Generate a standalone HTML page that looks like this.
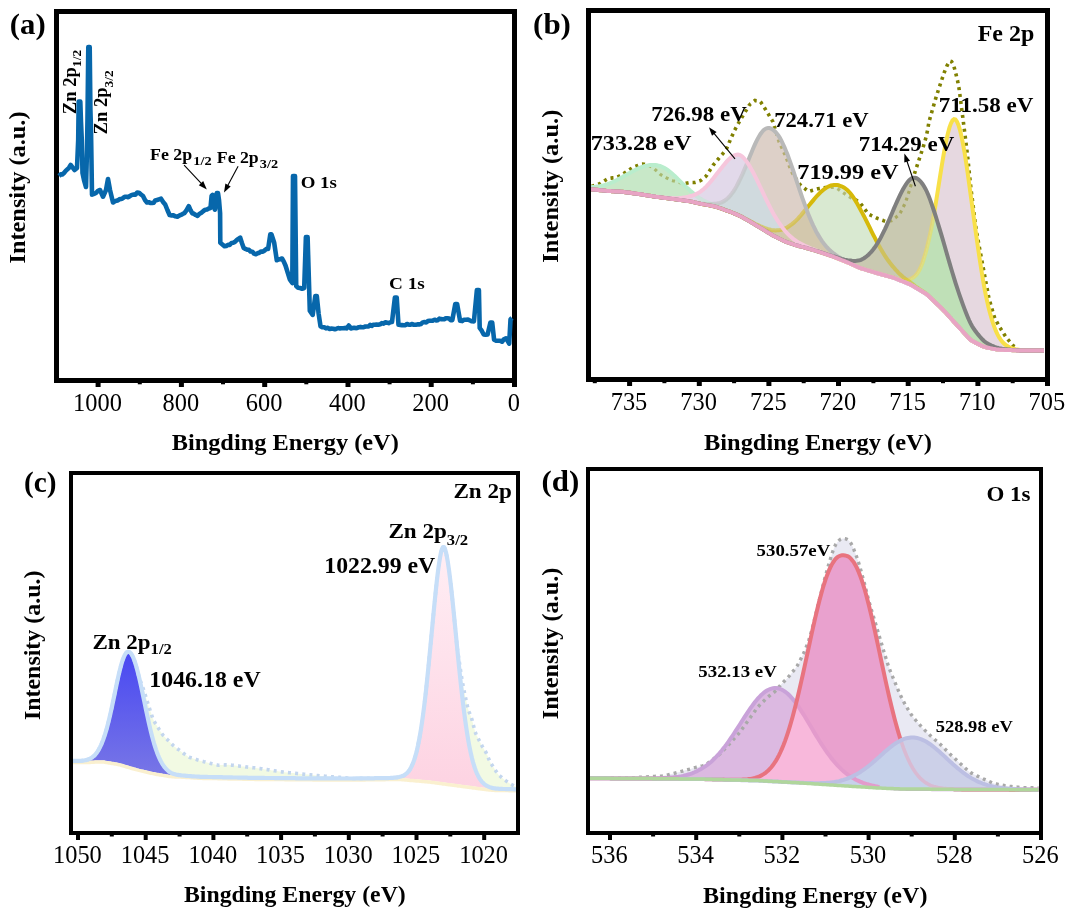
<!DOCTYPE html>
<html><head><meta charset="utf-8"><style>
html,body{margin:0;padding:0;background:#fff;}
svg{display:block;will-change:transform;}
</style></head><body>
<svg width="1074" height="918" viewBox="0 0 1074 918">
<defs><path id="pb0" d="M591 187.3 L592.5 187.1 L594 187 L595.5 186.8 L597 186.6 L598.5 186.4 L600 186.1 L601.5 185.8 L603 185.5 L604.5 185.1 L606 184.7 L607.5 184.2 L609 183.6 L610.5 183 L612 182.4 L613.5 181.7 L615 181 L616.5 180.2 L618 179.4 L619.5 178.6 L621 177.7 L622.5 176.9 L624 176 L625.5 175.2 L627 174.4 L628.5 173.6 L630 172.8 L631.5 171.9 L633 171.1 L634.5 170.4 L636 169.6 L637.5 168.9 L639 168.2 L640.5 167.6 L642 167 L643.5 166.5 L645 166 L646.5 165.7 L648 165.4 L649.5 165.1 L651 165 L652.5 164.9 L654 165 L655.5 165.1 L657 165.3 L658.5 165.6 L660 166 L661.5 166.5 L663 167.2 L664.5 168 L666 168.9 L667.5 169.9 L669 171.1 L670.5 172.3 L672 173.5 L673.5 174.9 L675 176.3 L676.5 177.7 L678 179.2 L679.5 180.6 L681 182.1 L682.5 183.6 L684 185 L685.5 186.4 L687 187.8 L688.5 189.1 L690 190.5 L691.5 191.8 L693 193.1 L694.5 194.4 L696 195.6 L697.5 196.7 L699 197.8 L700.5 198.8 L702 199.7 L703.5 200.5 L705 201.3 L706.5 202 L708 202.7 L709.5 203.3 L711 203.9 L712.5 204.4 L714 205 L715.5 205.6 L717 206.2 L718.5 206.9 L720 207.5 L721.5 208.2 L723 208.8 L724.5 209.4 L726 210 L727.5 210.6 L729 211.1 L730.5 211.8 L732 212.4 L733.5 213.1 L735 213.7 L736.5 214.4 L738 215 L739.5 215.7 L741 216.5 L742.5 217.3 L744 218.2 L745.5 219 L747 219.9 L748.5 220.7 L750 221.6 L751.5 222.5 L753 223.4 L754.5 224.3 L756 225.2 L757.5 226.1 L759 227 L760.5 227.9 L762 228.8 L763.5 229.7 L765 230.6 L766.5 231.5 L768 232.5 L769.5 233.4 L771 234.3 L772.5 235.2 L774 236 L775.5 236.8 L777 237.5 L778.5 238.3 L780 239 L781.5 239.7 L783 240.5 L784.5 241.1 L786 241.8 L787.5 242.3 L789 242.8 L790.5 243.4 L792 243.9 L793.5 244.4 L795 245 L796.5 245.4 L798 245.8 L799.5 246.2 L801 246.6 L802.5 246.9 L804 247.3 L805.5 247.8 L807 248.2 L808.5 248.6 L810 249.1 L811.5 249.5 L813 250 L814.5 250.4 L816 250.9 L817.5 251.3 L819 251.8 L820.5 252.3 L822 252.8 L823.5 253.3 L825 253.8 L826.5 254.3 L828 254.9 L829.5 255.4 L831 255.9 L832.5 256.4 L834 257 L835.5 257.6 L837 258.2 L838.5 258.8 L840 259.4 L841.5 260 L843 260.6 L844.5 261.2 L846 261.8 L847.5 262.4 L849 263 L850.5 263.7 L852 264.4 L853.5 265 L855 265.7 L856.5 266.4 L858 267.1 L859.5 267.7 L861 268.3 L862.5 268.7 L864 269.2 L865.5 269.6 L867 270.1 L868.5 270.5 L870 271 L871.5 271.4 L873 271.9 L874.5 272.3 L876 272.8 L877.5 273.2 L879 273.6 L880.5 274 L882 274.5 L883.5 274.9 L885 275.3 L886.5 275.7 L888 276.2 L889.5 276.6 L891 277 L892.5 277.4 L894 277.9 L895.5 278.5 L897 279.1 L898.5 279.7 L900 280.3 L901.5 280.9 L903 281.5 L904.5 282.1 L906 282.7 L907.5 283.3 L909 283.9 L910.5 284.6 L912 285.4 L913.5 286.3 L915 287.2 L916.5 288.1 L918 289 L919.5 289.9 L921 290.8 L922.5 291.7 L924 292.6 L925.5 293.5 L927 294.6 L928.5 295.8 L930 297.3 L931.5 298.7 L933 300.1 L934.5 301.6 L936 303 L937.5 304.5 L939 305.9 L940.5 307.3 L942 308.8 L943.5 310.3 L945 311.8 L946.5 313.5 L948 315.1 L949.5 316.8 L951 318.5 L952.5 320.1 L954 321.8 L955.5 323.4 L957 325.1 L958.5 326.7 L960 328.4 L961.5 330 L963 331.7 L964.5 333.4 L966 335 L967.5 336.7 L969 338.3 L970.5 339.7 L972 340.8 L973.5 341.6 L975 342.4 L976.5 343.1 L978 343.9 L979.5 344.6 L981 345.4 L982.5 346.1 L984 346.7 L985.5 347.2 L987 347.6 L988.5 347.8 L990 348.1 L991.5 348.4 L993 348.7 L994.5 348.9 L996 349.2 L997.5 349.4 L999 349.6 L1000.5 349.7 L1002 349.8 L1003.5 349.8 L1005 349.9 L1006.5 349.9 L1008 350 L1009.5 350.1 L1011 350.1 L1012.5 350.2 L1014 350.3 L1015.5 350.3 L1017 350.4 L1018.5 350.4 L1020 350.5 L1021.5 350.5 L1023 350.5 L1024.5 350.5 L1026 350.5 L1027.5 350.5 L1029 350.5 L1030.5 350.5 L1032 350.5 L1033.5 350.5 L1035 350.5 L1036.5 350.5 L1038 350.5 L1039.5 350.5 L1041 350.5 L1042.5 350.5 L1044 350.5 L1044 350.5 L1042.5 350.5 L1041 350.5 L1039.5 350.5 L1038 350.5 L1036.5 350.5 L1035 350.5 L1033.5 350.5 L1032 350.5 L1030.5 350.5 L1029 350.5 L1027.5 350.5 L1026 350.5 L1024.5 350.5 L1023 350.5 L1021.5 350.5 L1020 350.5 L1018.5 350.4 L1017 350.4 L1015.5 350.3 L1014 350.3 L1012.5 350.2 L1011 350.1 L1009.5 350.1 L1008 350 L1006.5 349.9 L1005 349.9 L1003.5 349.8 L1002 349.8 L1000.5 349.7 L999 349.6 L997.5 349.4 L996 349.2 L994.5 348.9 L993 348.7 L991.5 348.4 L990 348.1 L988.5 347.8 L987 347.6 L985.5 347.2 L984 346.7 L982.5 346.1 L981 345.4 L979.5 344.6 L978 343.9 L976.5 343.1 L975 342.4 L973.5 341.6 L972 340.8 L970.5 339.7 L969 338.3 L967.5 336.7 L966 335 L964.5 333.4 L963 331.7 L961.5 330 L960 328.4 L958.5 326.7 L957 325.1 L955.5 323.4 L954 321.8 L952.5 320.1 L951 318.5 L949.5 316.8 L948 315.1 L946.5 313.5 L945 311.8 L943.5 310.3 L942 308.8 L940.5 307.3 L939 305.9 L937.5 304.5 L936 303 L934.5 301.6 L933 300.1 L931.5 298.7 L930 297.3 L928.5 295.8 L927 294.6 L925.5 293.5 L924 292.6 L922.5 291.7 L921 290.8 L919.5 289.9 L918 289 L916.5 288.1 L915 287.2 L913.5 286.3 L912 285.4 L910.5 284.6 L909 283.9 L907.5 283.3 L906 282.7 L904.5 282.1 L903 281.5 L901.5 280.9 L900 280.3 L898.5 279.7 L897 279.1 L895.5 278.5 L894 277.9 L892.5 277.4 L891 277 L889.5 276.6 L888 276.2 L886.5 275.7 L885 275.3 L883.5 274.9 L882 274.5 L880.5 274 L879 273.6 L877.5 273.2 L876 272.8 L874.5 272.3 L873 271.9 L871.5 271.4 L870 271 L868.5 270.5 L867 270.1 L865.5 269.6 L864 269.2 L862.5 268.7 L861 268.3 L859.5 267.7 L858 267.1 L856.5 266.4 L855 265.7 L853.5 265 L852 264.4 L850.5 263.7 L849 263 L847.5 262.4 L846 261.8 L844.5 261.2 L843 260.6 L841.5 260 L840 259.4 L838.5 258.8 L837 258.2 L835.5 257.6 L834 257 L832.5 256.4 L831 255.9 L829.5 255.4 L828 254.9 L826.5 254.3 L825 253.8 L823.5 253.3 L822 252.8 L820.5 252.3 L819 251.8 L817.5 251.3 L816 250.9 L814.5 250.4 L813 250 L811.5 249.5 L810 249.1 L808.5 248.6 L807 248.2 L805.5 247.8 L804 247.3 L802.5 246.9 L801 246.6 L799.5 246.2 L798 245.8 L796.5 245.4 L795 245 L793.5 244.4 L792 243.9 L790.5 243.4 L789 242.8 L787.5 242.3 L786 241.8 L784.5 241.1 L783 240.5 L781.5 239.7 L780 239 L778.5 238.3 L777 237.5 L775.5 236.8 L774 236 L772.5 235.2 L771 234.3 L769.5 233.4 L768 232.5 L766.5 231.6 L765 230.6 L763.5 229.7 L762 228.8 L760.5 227.9 L759 227 L757.5 226.1 L756 225.2 L754.5 224.3 L753 223.4 L751.5 222.5 L750 221.6 L748.5 220.8 L747 219.9 L745.5 219 L744 218.2 L742.5 217.3 L741 216.5 L739.5 215.7 L738 215.1 L736.5 214.4 L735 213.8 L733.5 213.2 L732 212.5 L730.5 211.9 L729 211.3 L727.5 210.8 L726 210.3 L724.5 209.8 L723 209.2 L721.5 208.7 L720 208.2 L718.5 207.7 L717 207.1 L715.5 206.7 L714 206.3 L712.5 206 L711 205.7 L709.5 205.4 L708 205.1 L706.5 204.9 L705 204.6 L703.5 204.3 L702 204.1 L700.5 203.8 L699 203.4 L697.5 203.1 L696 202.7 L694.5 202.4 L693 202 L691.5 201.6 L690 201.4 L688.5 201.1 L687 200.9 L685.5 200.7 L684 200.5 L682.5 200.3 L681 200.1 L679.5 199.9 L678 199.7 L676.5 199.5 L675 199.3 L673.5 199.1 L672 198.9 L670.5 198.7 L669 198.5 L667.5 198.3 L666 198.1 L664.5 197.9 L663 197.7 L661.5 197.5 L660 197.3 L658.5 197.1 L657 196.9 L655.5 196.7 L654 196.4 L652.5 196.2 L651 195.9 L649.5 195.7 L648 195.5 L646.5 195.2 L645 195 L643.5 194.8 L642 194.5 L640.5 194.3 L639 194.1 L637.5 193.9 L636 193.6 L634.5 193.4 L633 193.2 L631.5 193 L630 192.8 L628.5 192.6 L627 192.4 L625.5 192.2 L624 192 L622.5 191.8 L621 191.7 L619.5 191.6 L618 191.6 L616.5 191.5 L615 191.4 L613.5 191.3 L612 191.2 L610.5 191.1 L609 191 L607.5 190.9 L606 190.8 L604.5 190.6 L603 190.5 L601.5 190.3 L600 190.2 L598.5 190 L597 189.8 L595.5 189.7 L594 189.5 L592.5 189.4 L591 189.3 Z"/>
<clipPath id="cb0"><use href="#pb0"/></clipPath>
<path id="pb1" d="M591 189.3 L592.5 189.4 L594 189.5 L595.5 189.7 L597 189.8 L598.5 190 L600 190.2 L601.5 190.3 L603 190.5 L604.5 190.6 L606 190.8 L607.5 190.9 L609 191 L610.5 191.1 L612 191.2 L613.5 191.3 L615 191.4 L616.5 191.5 L618 191.6 L619.5 191.6 L621 191.7 L622.5 191.8 L624 192 L625.5 192.2 L627 192.4 L628.5 192.6 L630 192.8 L631.5 193 L633 193.2 L634.5 193.4 L636 193.6 L637.5 193.8 L639 194.1 L640.5 194.3 L642 194.5 L643.5 194.7 L645 195 L646.5 195.2 L648 195.4 L649.5 195.7 L651 195.9 L652.5 196.1 L654 196.3 L655.5 196.6 L657 196.8 L658.5 197 L660 197.1 L661.5 197.3 L663 197.4 L664.5 197.6 L666 197.7 L667.5 197.8 L669 198 L670.5 198 L672 198.1 L673.5 198.2 L675 198.2 L676.5 198.2 L678 198.2 L679.5 198.1 L681 198 L682.5 197.8 L684 197.6 L685.5 197.4 L687 197 L688.5 196.7 L690 196.2 L691.5 195.8 L693 195.3 L694.5 194.8 L696 194.1 L697.5 193.4 L699 192.6 L700.5 191.6 L702 190.4 L703.5 189.2 L705 187.8 L706.5 186.3 L708 184.7 L709.5 183 L711 181.2 L712.5 179.4 L714 177.4 L715.5 175.5 L717 173.6 L718.5 171.7 L720 169.8 L721.5 167.9 L723 166 L724.5 164.2 L726 162.4 L727.5 160.7 L729 159.2 L730.5 157.8 L732 156.7 L733.5 155.8 L735 155.1 L736.5 154.7 L738 154.5 L739.5 154.8 L741 155.6 L742.5 156.8 L744 158.3 L745.5 160.1 L747 162.2 L748.5 164.4 L750 166.9 L751.5 169.5 L753 172.2 L754.5 175.1 L756 178.1 L757.5 181.2 L759 184.3 L760.5 187.5 L762 190.7 L763.5 193.8 L765 197 L766.5 200.1 L768 203.2 L769.5 206.2 L771 209.1 L772.5 212 L774 214.7 L775.5 217.2 L777 219.7 L778.5 222 L780 224.2 L781.5 226.4 L783 228.4 L784.5 230.3 L786 232 L787.5 233.6 L789 235.1 L790.5 236.5 L792 237.8 L793.5 239.1 L795 240.2 L796.5 241.3 L798 242.2 L799.5 243 L801 243.8 L802.5 244.5 L804 245.3 L805.5 246 L807 246.7 L808.5 247.3 L810 248 L811.5 248.6 L813 249.1 L814.5 249.7 L816 250.3 L817.5 250.8 L819 251.3 L820.5 251.9 L822 252.5 L823.5 253.1 L825 253.6 L826.5 254.2 L828 254.7 L829.5 255.3 L831 255.8 L832.5 256.4 L834 256.9 L835.5 257.5 L837 258.1 L838.5 258.7 L840 259.3 L841.5 260 L843 260.6 L844.5 261.2 L846 261.8 L847.5 262.4 L849 263 L850.5 263.7 L852 264.4 L853.5 265 L855 265.7 L856.5 266.4 L858 267.1 L859.5 267.7 L861 268.3 L862.5 268.7 L864 269.2 L865.5 269.6 L867 270.1 L868.5 270.5 L870 271 L871.5 271.4 L873 271.9 L874.5 272.3 L876 272.8 L877.5 273.2 L879 273.6 L880.5 274 L882 274.5 L883.5 274.9 L885 275.3 L886.5 275.7 L888 276.2 L889.5 276.6 L891 277 L892.5 277.4 L894 277.9 L895.5 278.5 L897 279.1 L898.5 279.7 L900 280.3 L901.5 280.9 L903 281.5 L904.5 282.1 L906 282.7 L907.5 283.3 L909 283.9 L910.5 284.6 L912 285.4 L913.5 286.3 L915 287.2 L916.5 288.1 L918 289 L919.5 289.9 L921 290.8 L922.5 291.7 L924 292.6 L925.5 293.5 L927 294.6 L928.5 295.8 L930 297.3 L931.5 298.7 L933 300.1 L934.5 301.6 L936 303 L937.5 304.5 L939 305.9 L940.5 307.3 L942 308.8 L943.5 310.3 L945 311.8 L946.5 313.5 L948 315.1 L949.5 316.8 L951 318.5 L952.5 320.1 L954 321.8 L955.5 323.4 L957 325.1 L958.5 326.7 L960 328.4 L961.5 330 L963 331.7 L964.5 333.4 L966 335 L967.5 336.7 L969 338.3 L970.5 339.7 L972 340.8 L973.5 341.6 L975 342.4 L976.5 343.1 L978 343.9 L979.5 344.6 L981 345.4 L982.5 346.1 L984 346.7 L985.5 347.2 L987 347.6 L988.5 347.8 L990 348.1 L991.5 348.4 L993 348.7 L994.5 348.9 L996 349.2 L997.5 349.4 L999 349.6 L1000.5 349.7 L1002 349.8 L1003.5 349.8 L1005 349.9 L1006.5 349.9 L1008 350 L1009.5 350.1 L1011 350.1 L1012.5 350.2 L1014 350.3 L1015.5 350.3 L1017 350.4 L1018.5 350.4 L1020 350.5 L1021.5 350.5 L1023 350.5 L1024.5 350.5 L1026 350.5 L1027.5 350.5 L1029 350.5 L1030.5 350.5 L1032 350.5 L1033.5 350.5 L1035 350.5 L1036.5 350.5 L1038 350.5 L1039.5 350.5 L1041 350.5 L1042.5 350.5 L1044 350.5 L1044 350.5 L1042.5 350.5 L1041 350.5 L1039.5 350.5 L1038 350.5 L1036.5 350.5 L1035 350.5 L1033.5 350.5 L1032 350.5 L1030.5 350.5 L1029 350.5 L1027.5 350.5 L1026 350.5 L1024.5 350.5 L1023 350.5 L1021.5 350.5 L1020 350.5 L1018.5 350.4 L1017 350.4 L1015.5 350.3 L1014 350.3 L1012.5 350.2 L1011 350.1 L1009.5 350.1 L1008 350 L1006.5 349.9 L1005 349.9 L1003.5 349.8 L1002 349.8 L1000.5 349.7 L999 349.6 L997.5 349.4 L996 349.2 L994.5 348.9 L993 348.7 L991.5 348.4 L990 348.1 L988.5 347.8 L987 347.6 L985.5 347.2 L984 346.7 L982.5 346.1 L981 345.4 L979.5 344.6 L978 343.9 L976.5 343.1 L975 342.4 L973.5 341.6 L972 340.8 L970.5 339.7 L969 338.3 L967.5 336.7 L966 335 L964.5 333.4 L963 331.7 L961.5 330 L960 328.4 L958.5 326.7 L957 325.1 L955.5 323.4 L954 321.8 L952.5 320.1 L951 318.5 L949.5 316.8 L948 315.1 L946.5 313.5 L945 311.8 L943.5 310.3 L942 308.8 L940.5 307.3 L939 305.9 L937.5 304.5 L936 303 L934.5 301.6 L933 300.1 L931.5 298.7 L930 297.3 L928.5 295.8 L927 294.6 L925.5 293.5 L924 292.6 L922.5 291.7 L921 290.8 L919.5 289.9 L918 289 L916.5 288.1 L915 287.2 L913.5 286.3 L912 285.4 L910.5 284.6 L909 283.9 L907.5 283.3 L906 282.7 L904.5 282.1 L903 281.5 L901.5 280.9 L900 280.3 L898.5 279.7 L897 279.1 L895.5 278.5 L894 277.9 L892.5 277.4 L891 277 L889.5 276.6 L888 276.2 L886.5 275.7 L885 275.3 L883.5 274.9 L882 274.5 L880.5 274 L879 273.6 L877.5 273.2 L876 272.8 L874.5 272.3 L873 271.9 L871.5 271.4 L870 271 L868.5 270.5 L867 270.1 L865.5 269.6 L864 269.2 L862.5 268.7 L861 268.3 L859.5 267.7 L858 267.1 L856.5 266.4 L855 265.7 L853.5 265 L852 264.4 L850.5 263.7 L849 263 L847.5 262.4 L846 261.8 L844.5 261.2 L843 260.6 L841.5 260 L840 259.4 L838.5 258.8 L837 258.2 L835.5 257.6 L834 257 L832.5 256.4 L831 255.9 L829.5 255.4 L828 254.9 L826.5 254.3 L825 253.8 L823.5 253.3 L822 252.8 L820.5 252.3 L819 251.8 L817.5 251.3 L816 250.9 L814.5 250.4 L813 250 L811.5 249.5 L810 249.1 L808.5 248.6 L807 248.2 L805.5 247.8 L804 247.3 L802.5 246.9 L801 246.6 L799.5 246.2 L798 245.8 L796.5 245.4 L795 245 L793.5 244.4 L792 243.9 L790.5 243.4 L789 242.8 L787.5 242.3 L786 241.8 L784.5 241.1 L783 240.5 L781.5 239.7 L780 239 L778.5 238.3 L777 237.5 L775.5 236.8 L774 236 L772.5 235.2 L771 234.3 L769.5 233.4 L768 232.5 L766.5 231.6 L765 230.6 L763.5 229.7 L762 228.8 L760.5 227.9 L759 227 L757.5 226.1 L756 225.2 L754.5 224.3 L753 223.4 L751.5 222.5 L750 221.6 L748.5 220.8 L747 219.9 L745.5 219 L744 218.2 L742.5 217.3 L741 216.5 L739.5 215.7 L738 215.1 L736.5 214.4 L735 213.8 L733.5 213.2 L732 212.5 L730.5 211.9 L729 211.3 L727.5 210.8 L726 210.3 L724.5 209.8 L723 209.2 L721.5 208.7 L720 208.2 L718.5 207.7 L717 207.1 L715.5 206.7 L714 206.3 L712.5 206 L711 205.7 L709.5 205.4 L708 205.1 L706.5 204.9 L705 204.6 L703.5 204.3 L702 204.1 L700.5 203.8 L699 203.4 L697.5 203.1 L696 202.7 L694.5 202.4 L693 202 L691.5 201.6 L690 201.4 L688.5 201.1 L687 200.9 L685.5 200.7 L684 200.5 L682.5 200.3 L681 200.1 L679.5 199.9 L678 199.7 L676.5 199.5 L675 199.3 L673.5 199.1 L672 198.9 L670.5 198.7 L669 198.5 L667.5 198.3 L666 198.1 L664.5 197.9 L663 197.7 L661.5 197.5 L660 197.3 L658.5 197.1 L657 196.9 L655.5 196.7 L654 196.4 L652.5 196.2 L651 195.9 L649.5 195.7 L648 195.5 L646.5 195.2 L645 195 L643.5 194.8 L642 194.5 L640.5 194.3 L639 194.1 L637.5 193.9 L636 193.6 L634.5 193.4 L633 193.2 L631.5 193 L630 192.8 L628.5 192.6 L627 192.4 L625.5 192.2 L624 192 L622.5 191.8 L621 191.7 L619.5 191.6 L618 191.6 L616.5 191.5 L615 191.4 L613.5 191.3 L612 191.2 L610.5 191.1 L609 191 L607.5 190.9 L606 190.8 L604.5 190.6 L603 190.5 L601.5 190.3 L600 190.2 L598.5 190 L597 189.8 L595.5 189.7 L594 189.5 L592.5 189.4 L591 189.3 Z"/>
<clipPath id="cb1"><use href="#pb1"/></clipPath>
<path id="pb2" d="M591 189.3 L592.5 189.4 L594 189.5 L595.5 189.7 L597 189.8 L598.5 190 L600 190.2 L601.5 190.3 L603 190.5 L604.5 190.6 L606 190.8 L607.5 190.9 L609 191 L610.5 191.1 L612 191.2 L613.5 191.3 L615 191.4 L616.5 191.5 L618 191.6 L619.5 191.6 L621 191.7 L622.5 191.8 L624 192 L625.5 192.2 L627 192.4 L628.5 192.6 L630 192.8 L631.5 193 L633 193.2 L634.5 193.4 L636 193.6 L637.5 193.9 L639 194.1 L640.5 194.3 L642 194.5 L643.5 194.8 L645 195 L646.5 195.2 L648 195.5 L649.5 195.7 L651 195.9 L652.5 196.2 L654 196.4 L655.5 196.7 L657 196.9 L658.5 197.1 L660 197.3 L661.5 197.5 L663 197.7 L664.5 197.9 L666 198.1 L667.5 198.3 L669 198.5 L670.5 198.7 L672 198.9 L673.5 199.1 L675 199.3 L676.5 199.5 L678 199.7 L679.5 199.9 L681 200.1 L682.5 200.3 L684 200.5 L685.5 200.7 L687 200.9 L688.5 201.1 L690 201.3 L691.5 201.6 L693 201.9 L694.5 202.3 L696 202.6 L697.5 202.9 L699 203.2 L700.5 203.5 L702 203.7 L703.5 203.8 L705 204 L706.5 204.1 L708 204.1 L709.5 204.2 L711 204.1 L712.5 204 L714 203.8 L715.5 203.7 L717 203.5 L718.5 203.2 L720 202.9 L721.5 202.3 L723 201.6 L724.5 200.8 L726 199.7 L727.5 198.4 L729 197 L730.5 195.3 L732 193.4 L733.5 191.3 L735 189 L736.5 186.4 L738 183.5 L739.5 180.5 L741 177.3 L742.5 174.1 L744 170.6 L745.5 167.1 L747 163.4 L748.5 159.7 L750 156 L751.5 152.4 L753 148.8 L754.5 145.4 L756 142.1 L757.5 139.1 L759 136.4 L760.5 134 L762 132 L763.5 130.3 L765 129.1 L766.5 128.3 L768 128 L769.5 128.1 L771 128.6 L772.5 129.5 L774 130.6 L775.5 132 L777 133.7 L778.5 135.7 L780 138.1 L781.5 140.9 L783 144 L784.5 147.3 L786 150.9 L787.5 154.6 L789 158.6 L790.5 162.8 L792 167.1 L793.5 171.5 L795 176.1 L796.5 180.6 L798 185.1 L799.5 189.5 L801 194 L802.5 198.3 L804 202.5 L805.5 206.7 L807 210.7 L808.5 214.6 L810 218.3 L811.5 221.8 L813 225.1 L814.5 228.2 L816 231.2 L817.5 233.9 L819 236.4 L820.5 238.8 L822 241.1 L823.5 243.1 L825 245.1 L826.5 246.8 L828 248.4 L829.5 249.9 L831 251.3 L832.5 252.5 L834 253.7 L835.5 254.8 L837 255.9 L838.5 256.9 L840 257.8 L841.5 258.7 L843 259.5 L844.5 260.3 L846 261.1 L847.5 261.8 L849 262.6 L850.5 263.3 L852 264.1 L853.5 264.8 L855 265.6 L856.5 266.3 L858 267 L859.5 267.6 L861 268.2 L862.5 268.7 L864 269.2 L865.5 269.6 L867 270.1 L868.5 270.5 L870 271 L871.5 271.4 L873 271.9 L874.5 272.3 L876 272.8 L877.5 273.2 L879 273.6 L880.5 274 L882 274.5 L883.5 274.9 L885 275.3 L886.5 275.7 L888 276.2 L889.5 276.6 L891 277 L892.5 277.4 L894 277.9 L895.5 278.5 L897 279.1 L898.5 279.7 L900 280.3 L901.5 280.9 L903 281.5 L904.5 282.1 L906 282.7 L907.5 283.3 L909 283.9 L910.5 284.6 L912 285.4 L913.5 286.3 L915 287.2 L916.5 288.1 L918 289 L919.5 289.9 L921 290.8 L922.5 291.7 L924 292.6 L925.5 293.5 L927 294.6 L928.5 295.8 L930 297.3 L931.5 298.7 L933 300.1 L934.5 301.6 L936 303 L937.5 304.5 L939 305.9 L940.5 307.3 L942 308.8 L943.5 310.3 L945 311.8 L946.5 313.5 L948 315.1 L949.5 316.8 L951 318.5 L952.5 320.1 L954 321.8 L955.5 323.4 L957 325.1 L958.5 326.7 L960 328.4 L961.5 330 L963 331.7 L964.5 333.4 L966 335 L967.5 336.7 L969 338.3 L970.5 339.7 L972 340.8 L973.5 341.6 L975 342.4 L976.5 343.1 L978 343.9 L979.5 344.6 L981 345.4 L982.5 346.1 L984 346.7 L985.5 347.2 L987 347.6 L988.5 347.8 L990 348.1 L991.5 348.4 L993 348.7 L994.5 348.9 L996 349.2 L997.5 349.4 L999 349.6 L1000.5 349.7 L1002 349.8 L1003.5 349.8 L1005 349.9 L1006.5 349.9 L1008 350 L1009.5 350.1 L1011 350.1 L1012.5 350.2 L1014 350.3 L1015.5 350.3 L1017 350.4 L1018.5 350.4 L1020 350.5 L1021.5 350.5 L1023 350.5 L1024.5 350.5 L1026 350.5 L1027.5 350.5 L1029 350.5 L1030.5 350.5 L1032 350.5 L1033.5 350.5 L1035 350.5 L1036.5 350.5 L1038 350.5 L1039.5 350.5 L1041 350.5 L1042.5 350.5 L1044 350.5 L1044 350.5 L1042.5 350.5 L1041 350.5 L1039.5 350.5 L1038 350.5 L1036.5 350.5 L1035 350.5 L1033.5 350.5 L1032 350.5 L1030.5 350.5 L1029 350.5 L1027.5 350.5 L1026 350.5 L1024.5 350.5 L1023 350.5 L1021.5 350.5 L1020 350.5 L1018.5 350.4 L1017 350.4 L1015.5 350.3 L1014 350.3 L1012.5 350.2 L1011 350.1 L1009.5 350.1 L1008 350 L1006.5 349.9 L1005 349.9 L1003.5 349.8 L1002 349.8 L1000.5 349.7 L999 349.6 L997.5 349.4 L996 349.2 L994.5 348.9 L993 348.7 L991.5 348.4 L990 348.1 L988.5 347.8 L987 347.6 L985.5 347.2 L984 346.7 L982.5 346.1 L981 345.4 L979.5 344.6 L978 343.9 L976.5 343.1 L975 342.4 L973.5 341.6 L972 340.8 L970.5 339.7 L969 338.3 L967.5 336.7 L966 335 L964.5 333.4 L963 331.7 L961.5 330 L960 328.4 L958.5 326.7 L957 325.1 L955.5 323.4 L954 321.8 L952.5 320.1 L951 318.5 L949.5 316.8 L948 315.1 L946.5 313.5 L945 311.8 L943.5 310.3 L942 308.8 L940.5 307.3 L939 305.9 L937.5 304.5 L936 303 L934.5 301.6 L933 300.1 L931.5 298.7 L930 297.3 L928.5 295.8 L927 294.6 L925.5 293.5 L924 292.6 L922.5 291.7 L921 290.8 L919.5 289.9 L918 289 L916.5 288.1 L915 287.2 L913.5 286.3 L912 285.4 L910.5 284.6 L909 283.9 L907.5 283.3 L906 282.7 L904.5 282.1 L903 281.5 L901.5 280.9 L900 280.3 L898.5 279.7 L897 279.1 L895.5 278.5 L894 277.9 L892.5 277.4 L891 277 L889.5 276.6 L888 276.2 L886.5 275.7 L885 275.3 L883.5 274.9 L882 274.5 L880.5 274 L879 273.6 L877.5 273.2 L876 272.8 L874.5 272.3 L873 271.9 L871.5 271.4 L870 271 L868.5 270.5 L867 270.1 L865.5 269.6 L864 269.2 L862.5 268.7 L861 268.3 L859.5 267.7 L858 267.1 L856.5 266.4 L855 265.7 L853.5 265 L852 264.4 L850.5 263.7 L849 263 L847.5 262.4 L846 261.8 L844.5 261.2 L843 260.6 L841.5 260 L840 259.4 L838.5 258.8 L837 258.2 L835.5 257.6 L834 257 L832.5 256.4 L831 255.9 L829.5 255.4 L828 254.9 L826.5 254.3 L825 253.8 L823.5 253.3 L822 252.8 L820.5 252.3 L819 251.8 L817.5 251.3 L816 250.9 L814.5 250.4 L813 250 L811.5 249.5 L810 249.1 L808.5 248.6 L807 248.2 L805.5 247.8 L804 247.3 L802.5 246.9 L801 246.6 L799.5 246.2 L798 245.8 L796.5 245.4 L795 245 L793.5 244.4 L792 243.9 L790.5 243.4 L789 242.8 L787.5 242.3 L786 241.8 L784.5 241.1 L783 240.5 L781.5 239.7 L780 239 L778.5 238.3 L777 237.5 L775.5 236.8 L774 236 L772.5 235.2 L771 234.3 L769.5 233.4 L768 232.5 L766.5 231.6 L765 230.6 L763.5 229.7 L762 228.8 L760.5 227.9 L759 227 L757.5 226.1 L756 225.2 L754.5 224.3 L753 223.4 L751.5 222.5 L750 221.6 L748.5 220.8 L747 219.9 L745.5 219 L744 218.2 L742.5 217.3 L741 216.5 L739.5 215.7 L738 215.1 L736.5 214.4 L735 213.8 L733.5 213.2 L732 212.5 L730.5 211.9 L729 211.3 L727.5 210.8 L726 210.3 L724.5 209.8 L723 209.2 L721.5 208.7 L720 208.2 L718.5 207.7 L717 207.1 L715.5 206.7 L714 206.3 L712.5 206 L711 205.7 L709.5 205.4 L708 205.1 L706.5 204.9 L705 204.6 L703.5 204.3 L702 204.1 L700.5 203.8 L699 203.4 L697.5 203.1 L696 202.7 L694.5 202.4 L693 202 L691.5 201.6 L690 201.4 L688.5 201.1 L687 200.9 L685.5 200.7 L684 200.5 L682.5 200.3 L681 200.1 L679.5 199.9 L678 199.7 L676.5 199.5 L675 199.3 L673.5 199.1 L672 198.9 L670.5 198.7 L669 198.5 L667.5 198.3 L666 198.1 L664.5 197.9 L663 197.7 L661.5 197.5 L660 197.3 L658.5 197.1 L657 196.9 L655.5 196.7 L654 196.4 L652.5 196.2 L651 195.9 L649.5 195.7 L648 195.5 L646.5 195.2 L645 195 L643.5 194.8 L642 194.5 L640.5 194.3 L639 194.1 L637.5 193.9 L636 193.6 L634.5 193.4 L633 193.2 L631.5 193 L630 192.8 L628.5 192.6 L627 192.4 L625.5 192.2 L624 192 L622.5 191.8 L621 191.7 L619.5 191.6 L618 191.6 L616.5 191.5 L615 191.4 L613.5 191.3 L612 191.2 L610.5 191.1 L609 191 L607.5 190.9 L606 190.8 L604.5 190.6 L603 190.5 L601.5 190.3 L600 190.2 L598.5 190 L597 189.8 L595.5 189.7 L594 189.5 L592.5 189.4 L591 189.3 Z"/>
<clipPath id="cb2"><use href="#pb2"/></clipPath>
<path id="pb3" d="M591 189.3 L592.5 189.4 L594 189.5 L595.5 189.7 L597 189.8 L598.5 190 L600 190.2 L601.5 190.3 L603 190.5 L604.5 190.6 L606 190.8 L607.5 190.9 L609 191 L610.5 191.1 L612 191.2 L613.5 191.3 L615 191.4 L616.5 191.5 L618 191.6 L619.5 191.6 L621 191.7 L622.5 191.8 L624 192 L625.5 192.2 L627 192.4 L628.5 192.6 L630 192.8 L631.5 193 L633 193.2 L634.5 193.4 L636 193.6 L637.5 193.9 L639 194.1 L640.5 194.3 L642 194.5 L643.5 194.8 L645 195 L646.5 195.2 L648 195.5 L649.5 195.7 L651 195.9 L652.5 196.2 L654 196.4 L655.5 196.7 L657 196.9 L658.5 197.1 L660 197.3 L661.5 197.5 L663 197.7 L664.5 197.9 L666 198.1 L667.5 198.3 L669 198.5 L670.5 198.7 L672 198.9 L673.5 199.1 L675 199.3 L676.5 199.5 L678 199.7 L679.5 199.9 L681 200.1 L682.5 200.3 L684 200.5 L685.5 200.7 L687 200.9 L688.5 201.1 L690 201.4 L691.5 201.6 L693 202 L694.5 202.4 L696 202.7 L697.5 203.1 L699 203.4 L700.5 203.8 L702 204.1 L703.5 204.3 L705 204.6 L706.5 204.9 L708 205.1 L709.5 205.4 L711 205.7 L712.5 206 L714 206.3 L715.5 206.7 L717 207.1 L718.5 207.6 L720 208.2 L721.5 208.7 L723 209.2 L724.5 209.7 L726 210.3 L727.5 210.8 L729 211.3 L730.5 211.9 L732 212.5 L733.5 213.1 L735 213.7 L736.5 214.3 L738 214.9 L739.5 215.6 L741 216.3 L742.5 217.1 L744 217.9 L745.5 218.7 L747 219.5 L748.5 220.3 L750 221.1 L751.5 221.9 L753 222.6 L754.5 223.4 L756 224.2 L757.5 224.9 L759 225.6 L760.5 226.3 L762 226.9 L763.5 227.5 L765 228.1 L766.5 228.6 L768 229.1 L769.5 229.5 L771 229.9 L772.5 230.2 L774 230.3 L775.5 230.4 L777 230.3 L778.5 230.2 L780 230 L781.5 229.7 L783 229.3 L784.5 228.7 L786 228.1 L787.5 227.2 L789 226.3 L790.5 225.2 L792 224.1 L793.5 222.9 L795 221.6 L796.5 220.2 L798 218.6 L799.5 216.9 L801 215.2 L802.5 213.4 L804 211.6 L805.5 209.7 L807 207.9 L808.5 206.1 L810 204.2 L811.5 202.4 L813 200.6 L814.5 198.8 L816 197 L817.5 195.4 L819 193.8 L820.5 192.3 L822 191 L823.5 189.7 L825 188.6 L826.5 187.6 L828 186.8 L829.5 186.1 L831 185.5 L832.5 185.1 L834 184.9 L835.5 184.9 L837 185 L838.5 185.3 L840 185.8 L841.5 186.3 L843 187 L844.5 187.9 L846 189 L847.5 190.3 L849 191.8 L850.5 193.5 L852 195.5 L853.5 197.6 L855 199.9 L856.5 202.4 L858 205.1 L859.5 207.8 L861 210.6 L862.5 213.4 L864 216.2 L865.5 219.2 L867 222.2 L868.5 225.2 L870 228.2 L871.5 231.3 L873 234.3 L874.5 237.2 L876 240.2 L877.5 243 L879 245.8 L880.5 248.4 L882 251 L883.5 253.5 L885 255.9 L886.5 258.1 L888 260.3 L889.5 262.3 L891 264.2 L892.5 266.1 L894 267.8 L895.5 269.6 L897 271.2 L898.5 272.8 L900 274.3 L901.5 275.6 L903 276.9 L904.5 278.2 L906 279.3 L907.5 280.4 L909 281.4 L910.5 282.5 L912 283.6 L913.5 284.8 L915 286 L916.5 287.1 L918 288.1 L919.5 289.2 L921 290.2 L922.5 291.2 L924 292.2 L925.5 293.2 L927 294.3 L928.5 295.6 L930 297.1 L931.5 298.6 L933 300 L934.5 301.5 L936 303 L937.5 304.4 L939 305.9 L940.5 307.3 L942 308.7 L943.5 310.3 L945 311.8 L946.5 313.5 L948 315.1 L949.5 316.8 L951 318.5 L952.5 320.1 L954 321.8 L955.5 323.4 L957 325.1 L958.5 326.7 L960 328.4 L961.5 330 L963 331.7 L964.5 333.4 L966 335 L967.5 336.7 L969 338.3 L970.5 339.7 L972 340.8 L973.5 341.6 L975 342.4 L976.5 343.1 L978 343.9 L979.5 344.6 L981 345.4 L982.5 346.1 L984 346.7 L985.5 347.2 L987 347.6 L988.5 347.8 L990 348.1 L991.5 348.4 L993 348.7 L994.5 348.9 L996 349.2 L997.5 349.4 L999 349.6 L1000.5 349.7 L1002 349.8 L1003.5 349.8 L1005 349.9 L1006.5 349.9 L1008 350 L1009.5 350.1 L1011 350.1 L1012.5 350.2 L1014 350.3 L1015.5 350.3 L1017 350.4 L1018.5 350.4 L1020 350.5 L1021.5 350.5 L1023 350.5 L1024.5 350.5 L1026 350.5 L1027.5 350.5 L1029 350.5 L1030.5 350.5 L1032 350.5 L1033.5 350.5 L1035 350.5 L1036.5 350.5 L1038 350.5 L1039.5 350.5 L1041 350.5 L1042.5 350.5 L1044 350.5 L1044 350.5 L1042.5 350.5 L1041 350.5 L1039.5 350.5 L1038 350.5 L1036.5 350.5 L1035 350.5 L1033.5 350.5 L1032 350.5 L1030.5 350.5 L1029 350.5 L1027.5 350.5 L1026 350.5 L1024.5 350.5 L1023 350.5 L1021.5 350.5 L1020 350.5 L1018.5 350.4 L1017 350.4 L1015.5 350.3 L1014 350.3 L1012.5 350.2 L1011 350.1 L1009.5 350.1 L1008 350 L1006.5 349.9 L1005 349.9 L1003.5 349.8 L1002 349.8 L1000.5 349.7 L999 349.6 L997.5 349.4 L996 349.2 L994.5 348.9 L993 348.7 L991.5 348.4 L990 348.1 L988.5 347.8 L987 347.6 L985.5 347.2 L984 346.7 L982.5 346.1 L981 345.4 L979.5 344.6 L978 343.9 L976.5 343.1 L975 342.4 L973.5 341.6 L972 340.8 L970.5 339.7 L969 338.3 L967.5 336.7 L966 335 L964.5 333.4 L963 331.7 L961.5 330 L960 328.4 L958.5 326.7 L957 325.1 L955.5 323.4 L954 321.8 L952.5 320.1 L951 318.5 L949.5 316.8 L948 315.1 L946.5 313.5 L945 311.8 L943.5 310.3 L942 308.8 L940.5 307.3 L939 305.9 L937.5 304.5 L936 303 L934.5 301.6 L933 300.1 L931.5 298.7 L930 297.3 L928.5 295.8 L927 294.6 L925.5 293.5 L924 292.6 L922.5 291.7 L921 290.8 L919.5 289.9 L918 289 L916.5 288.1 L915 287.2 L913.5 286.3 L912 285.4 L910.5 284.6 L909 283.9 L907.5 283.3 L906 282.7 L904.5 282.1 L903 281.5 L901.5 280.9 L900 280.3 L898.5 279.7 L897 279.1 L895.5 278.5 L894 277.9 L892.5 277.4 L891 277 L889.5 276.6 L888 276.2 L886.5 275.7 L885 275.3 L883.5 274.9 L882 274.5 L880.5 274 L879 273.6 L877.5 273.2 L876 272.8 L874.5 272.3 L873 271.9 L871.5 271.4 L870 271 L868.5 270.5 L867 270.1 L865.5 269.6 L864 269.2 L862.5 268.7 L861 268.3 L859.5 267.7 L858 267.1 L856.5 266.4 L855 265.7 L853.5 265 L852 264.4 L850.5 263.7 L849 263 L847.5 262.4 L846 261.8 L844.5 261.2 L843 260.6 L841.5 260 L840 259.4 L838.5 258.8 L837 258.2 L835.5 257.6 L834 257 L832.5 256.4 L831 255.9 L829.5 255.4 L828 254.9 L826.5 254.3 L825 253.8 L823.5 253.3 L822 252.8 L820.5 252.3 L819 251.8 L817.5 251.3 L816 250.9 L814.5 250.4 L813 250 L811.5 249.5 L810 249.1 L808.5 248.6 L807 248.2 L805.5 247.8 L804 247.3 L802.5 246.9 L801 246.6 L799.5 246.2 L798 245.8 L796.5 245.4 L795 245 L793.5 244.4 L792 243.9 L790.5 243.4 L789 242.8 L787.5 242.3 L786 241.8 L784.5 241.1 L783 240.5 L781.5 239.7 L780 239 L778.5 238.3 L777 237.5 L775.5 236.8 L774 236 L772.5 235.2 L771 234.3 L769.5 233.4 L768 232.5 L766.5 231.6 L765 230.6 L763.5 229.7 L762 228.8 L760.5 227.9 L759 227 L757.5 226.1 L756 225.2 L754.5 224.3 L753 223.4 L751.5 222.5 L750 221.6 L748.5 220.8 L747 219.9 L745.5 219 L744 218.2 L742.5 217.3 L741 216.5 L739.5 215.7 L738 215.1 L736.5 214.4 L735 213.8 L733.5 213.2 L732 212.5 L730.5 211.9 L729 211.3 L727.5 210.8 L726 210.3 L724.5 209.8 L723 209.2 L721.5 208.7 L720 208.2 L718.5 207.7 L717 207.1 L715.5 206.7 L714 206.3 L712.5 206 L711 205.7 L709.5 205.4 L708 205.1 L706.5 204.9 L705 204.6 L703.5 204.3 L702 204.1 L700.5 203.8 L699 203.4 L697.5 203.1 L696 202.7 L694.5 202.4 L693 202 L691.5 201.6 L690 201.4 L688.5 201.1 L687 200.9 L685.5 200.7 L684 200.5 L682.5 200.3 L681 200.1 L679.5 199.9 L678 199.7 L676.5 199.5 L675 199.3 L673.5 199.1 L672 198.9 L670.5 198.7 L669 198.5 L667.5 198.3 L666 198.1 L664.5 197.9 L663 197.7 L661.5 197.5 L660 197.3 L658.5 197.1 L657 196.9 L655.5 196.7 L654 196.4 L652.5 196.2 L651 195.9 L649.5 195.7 L648 195.5 L646.5 195.2 L645 195 L643.5 194.8 L642 194.5 L640.5 194.3 L639 194.1 L637.5 193.9 L636 193.6 L634.5 193.4 L633 193.2 L631.5 193 L630 192.8 L628.5 192.6 L627 192.4 L625.5 192.2 L624 192 L622.5 191.8 L621 191.7 L619.5 191.6 L618 191.6 L616.5 191.5 L615 191.4 L613.5 191.3 L612 191.2 L610.5 191.1 L609 191 L607.5 190.9 L606 190.8 L604.5 190.6 L603 190.5 L601.5 190.3 L600 190.2 L598.5 190 L597 189.8 L595.5 189.7 L594 189.5 L592.5 189.4 L591 189.3 Z"/>
<clipPath id="cb3"><use href="#pb3"/></clipPath>
<path id="pb4" d="M591 189.3 L592.5 189.4 L594 189.5 L595.5 189.7 L597 189.8 L598.5 190 L600 190.2 L601.5 190.3 L603 190.5 L604.5 190.6 L606 190.8 L607.5 190.9 L609 191 L610.5 191.1 L612 191.2 L613.5 191.3 L615 191.4 L616.5 191.5 L618 191.6 L619.5 191.6 L621 191.7 L622.5 191.8 L624 192 L625.5 192.2 L627 192.4 L628.5 192.6 L630 192.8 L631.5 193 L633 193.2 L634.5 193.4 L636 193.6 L637.5 193.9 L639 194.1 L640.5 194.3 L642 194.5 L643.5 194.8 L645 195 L646.5 195.2 L648 195.5 L649.5 195.7 L651 195.9 L652.5 196.2 L654 196.4 L655.5 196.7 L657 196.9 L658.5 197.1 L660 197.3 L661.5 197.5 L663 197.7 L664.5 197.9 L666 198.1 L667.5 198.3 L669 198.5 L670.5 198.7 L672 198.9 L673.5 199.1 L675 199.3 L676.5 199.5 L678 199.7 L679.5 199.9 L681 200.1 L682.5 200.3 L684 200.5 L685.5 200.7 L687 200.9 L688.5 201.1 L690 201.4 L691.5 201.6 L693 202 L694.5 202.4 L696 202.7 L697.5 203.1 L699 203.4 L700.5 203.8 L702 204.1 L703.5 204.3 L705 204.6 L706.5 204.9 L708 205.1 L709.5 205.4 L711 205.7 L712.5 206 L714 206.3 L715.5 206.7 L717 207.1 L718.5 207.7 L720 208.2 L721.5 208.7 L723 209.2 L724.5 209.8 L726 210.3 L727.5 210.8 L729 211.3 L730.5 211.9 L732 212.5 L733.5 213.2 L735 213.8 L736.5 214.4 L738 215.1 L739.5 215.7 L741 216.5 L742.5 217.3 L744 218.2 L745.5 219 L747 219.9 L748.5 220.8 L750 221.6 L751.5 222.5 L753 223.4 L754.5 224.3 L756 225.2 L757.5 226.1 L759 227 L760.5 227.9 L762 228.8 L763.5 229.7 L765 230.6 L766.5 231.5 L768 232.5 L769.5 233.4 L771 234.3 L772.5 235.2 L774 236 L775.5 236.8 L777 237.5 L778.5 238.3 L780 239 L781.5 239.7 L783 240.5 L784.5 241.1 L786 241.8 L787.5 242.3 L789 242.8 L790.5 243.4 L792 243.9 L793.5 244.4 L795 245 L796.5 245.4 L798 245.8 L799.5 246.2 L801 246.6 L802.5 246.9 L804 247.3 L805.5 247.8 L807 248.2 L808.5 248.6 L810 249.1 L811.5 249.5 L813 249.9 L814.5 250.4 L816 250.8 L817.5 251.3 L819 251.7 L820.5 252.2 L822 252.7 L823.5 253.2 L825 253.7 L826.5 254.2 L828 254.7 L829.5 255.1 L831 255.6 L832.5 256.1 L834 256.5 L835.5 257 L837 257.5 L838.5 258 L840 258.4 L841.5 258.9 L843 259.2 L844.5 259.6 L846 259.9 L847.5 260.2 L849 260.4 L850.5 260.6 L852 260.8 L853.5 260.9 L855 260.9 L856.5 260.8 L858 260.6 L859.5 260.3 L861 259.8 L862.5 259.1 L864 258.2 L865.5 257.2 L867 256 L868.5 254.7 L870 253.2 L871.5 251.6 L873 249.8 L874.5 247.8 L876 245.6 L877.5 243.3 L879 240.8 L880.5 238.1 L882 235.2 L883.5 232.2 L885 229.1 L886.5 225.8 L888 222.4 L889.5 219 L891 215.5 L892.5 211.9 L894 208.4 L895.5 205 L897 201.6 L898.5 198.3 L900 195.2 L901.5 192.2 L903 189.3 L904.5 186.7 L906 184.3 L907.5 182.2 L909 180.5 L910.5 179.1 L912 178.2 L913.5 177.8 L915 177.8 L916.5 178.2 L918 179.1 L919.5 180.4 L921 182 L922.5 184 L924 186.3 L925.5 188.9 L927 192 L928.5 195.5 L930 199.4 L931.5 203.6 L933 208 L934.5 212.5 L936 217.2 L937.5 222 L939 226.9 L940.5 231.9 L942 236.9 L943.5 242 L945 247.2 L946.5 252.5 L948 257.7 L949.5 262.9 L951 268 L952.5 273 L954 277.9 L955.5 282.8 L957 287.4 L958.5 292 L960 296.4 L961.5 300.7 L963 304.9 L964.5 308.9 L966 312.7 L967.5 316.4 L969 320 L970.5 323.2 L972 326 L973.5 328.3 L975 330.5 L976.5 332.5 L978 334.4 L979.5 336.2 L981 337.9 L982.5 339.5 L984 341 L985.5 342.2 L987 343.1 L988.5 344 L990 344.7 L991.5 345.5 L993 346.1 L994.5 346.8 L996 347.3 L997.5 347.8 L999 348.2 L1000.5 348.5 L1002 348.8 L1003.5 349 L1005 349.2 L1006.5 349.3 L1008 349.5 L1009.5 349.6 L1011 349.8 L1012.5 349.9 L1014 350 L1015.5 350.1 L1017 350.2 L1018.5 350.3 L1020 350.4 L1021.5 350.4 L1023 350.4 L1024.5 350.4 L1026 350.4 L1027.5 350.5 L1029 350.5 L1030.5 350.5 L1032 350.5 L1033.5 350.5 L1035 350.5 L1036.5 350.5 L1038 350.5 L1039.5 350.5 L1041 350.5 L1042.5 350.5 L1044 350.5 L1044 350.5 L1042.5 350.5 L1041 350.5 L1039.5 350.5 L1038 350.5 L1036.5 350.5 L1035 350.5 L1033.5 350.5 L1032 350.5 L1030.5 350.5 L1029 350.5 L1027.5 350.5 L1026 350.5 L1024.5 350.5 L1023 350.5 L1021.5 350.5 L1020 350.5 L1018.5 350.4 L1017 350.4 L1015.5 350.3 L1014 350.3 L1012.5 350.2 L1011 350.1 L1009.5 350.1 L1008 350 L1006.5 349.9 L1005 349.9 L1003.5 349.8 L1002 349.8 L1000.5 349.7 L999 349.6 L997.5 349.4 L996 349.2 L994.5 348.9 L993 348.7 L991.5 348.4 L990 348.1 L988.5 347.8 L987 347.6 L985.5 347.2 L984 346.7 L982.5 346.1 L981 345.4 L979.5 344.6 L978 343.9 L976.5 343.1 L975 342.4 L973.5 341.6 L972 340.8 L970.5 339.7 L969 338.3 L967.5 336.7 L966 335 L964.5 333.4 L963 331.7 L961.5 330 L960 328.4 L958.5 326.7 L957 325.1 L955.5 323.4 L954 321.8 L952.5 320.1 L951 318.5 L949.5 316.8 L948 315.1 L946.5 313.5 L945 311.8 L943.5 310.3 L942 308.8 L940.5 307.3 L939 305.9 L937.5 304.5 L936 303 L934.5 301.6 L933 300.1 L931.5 298.7 L930 297.3 L928.5 295.8 L927 294.6 L925.5 293.5 L924 292.6 L922.5 291.7 L921 290.8 L919.5 289.9 L918 289 L916.5 288.1 L915 287.2 L913.5 286.3 L912 285.4 L910.5 284.6 L909 283.9 L907.5 283.3 L906 282.7 L904.5 282.1 L903 281.5 L901.5 280.9 L900 280.3 L898.5 279.7 L897 279.1 L895.5 278.5 L894 277.9 L892.5 277.4 L891 277 L889.5 276.6 L888 276.2 L886.5 275.7 L885 275.3 L883.5 274.9 L882 274.5 L880.5 274 L879 273.6 L877.5 273.2 L876 272.8 L874.5 272.3 L873 271.9 L871.5 271.4 L870 271 L868.5 270.5 L867 270.1 L865.5 269.6 L864 269.2 L862.5 268.7 L861 268.3 L859.5 267.7 L858 267.1 L856.5 266.4 L855 265.7 L853.5 265 L852 264.4 L850.5 263.7 L849 263 L847.5 262.4 L846 261.8 L844.5 261.2 L843 260.6 L841.5 260 L840 259.4 L838.5 258.8 L837 258.2 L835.5 257.6 L834 257 L832.5 256.4 L831 255.9 L829.5 255.4 L828 254.9 L826.5 254.3 L825 253.8 L823.5 253.3 L822 252.8 L820.5 252.3 L819 251.8 L817.5 251.3 L816 250.9 L814.5 250.4 L813 250 L811.5 249.5 L810 249.1 L808.5 248.6 L807 248.2 L805.5 247.8 L804 247.3 L802.5 246.9 L801 246.6 L799.5 246.2 L798 245.8 L796.5 245.4 L795 245 L793.5 244.4 L792 243.9 L790.5 243.4 L789 242.8 L787.5 242.3 L786 241.8 L784.5 241.1 L783 240.5 L781.5 239.7 L780 239 L778.5 238.3 L777 237.5 L775.5 236.8 L774 236 L772.5 235.2 L771 234.3 L769.5 233.4 L768 232.5 L766.5 231.6 L765 230.6 L763.5 229.7 L762 228.8 L760.5 227.9 L759 227 L757.5 226.1 L756 225.2 L754.5 224.3 L753 223.4 L751.5 222.5 L750 221.6 L748.5 220.8 L747 219.9 L745.5 219 L744 218.2 L742.5 217.3 L741 216.5 L739.5 215.7 L738 215.1 L736.5 214.4 L735 213.8 L733.5 213.2 L732 212.5 L730.5 211.9 L729 211.3 L727.5 210.8 L726 210.3 L724.5 209.8 L723 209.2 L721.5 208.7 L720 208.2 L718.5 207.7 L717 207.1 L715.5 206.7 L714 206.3 L712.5 206 L711 205.7 L709.5 205.4 L708 205.1 L706.5 204.9 L705 204.6 L703.5 204.3 L702 204.1 L700.5 203.8 L699 203.4 L697.5 203.1 L696 202.7 L694.5 202.4 L693 202 L691.5 201.6 L690 201.4 L688.5 201.1 L687 200.9 L685.5 200.7 L684 200.5 L682.5 200.3 L681 200.1 L679.5 199.9 L678 199.7 L676.5 199.5 L675 199.3 L673.5 199.1 L672 198.9 L670.5 198.7 L669 198.5 L667.5 198.3 L666 198.1 L664.5 197.9 L663 197.7 L661.5 197.5 L660 197.3 L658.5 197.1 L657 196.9 L655.5 196.7 L654 196.4 L652.5 196.2 L651 195.9 L649.5 195.7 L648 195.5 L646.5 195.2 L645 195 L643.5 194.8 L642 194.5 L640.5 194.3 L639 194.1 L637.5 193.9 L636 193.6 L634.5 193.4 L633 193.2 L631.5 193 L630 192.8 L628.5 192.6 L627 192.4 L625.5 192.2 L624 192 L622.5 191.8 L621 191.7 L619.5 191.6 L618 191.6 L616.5 191.5 L615 191.4 L613.5 191.3 L612 191.2 L610.5 191.1 L609 191 L607.5 190.9 L606 190.8 L604.5 190.6 L603 190.5 L601.5 190.3 L600 190.2 L598.5 190 L597 189.8 L595.5 189.7 L594 189.5 L592.5 189.4 L591 189.3 Z"/>
<clipPath id="cb4"><use href="#pb4"/></clipPath>
<path id="pb5" d="M591 189.3 L592.5 189.4 L594 189.5 L595.5 189.7 L597 189.8 L598.5 190 L600 190.2 L601.5 190.3 L603 190.5 L604.5 190.6 L606 190.8 L607.5 190.9 L609 191 L610.5 191.1 L612 191.2 L613.5 191.3 L615 191.4 L616.5 191.5 L618 191.6 L619.5 191.6 L621 191.7 L622.5 191.8 L624 192 L625.5 192.2 L627 192.4 L628.5 192.6 L630 192.8 L631.5 193 L633 193.2 L634.5 193.4 L636 193.6 L637.5 193.9 L639 194.1 L640.5 194.3 L642 194.5 L643.5 194.8 L645 195 L646.5 195.2 L648 195.5 L649.5 195.7 L651 195.9 L652.5 196.2 L654 196.4 L655.5 196.7 L657 196.9 L658.5 197.1 L660 197.3 L661.5 197.5 L663 197.7 L664.5 197.9 L666 198.1 L667.5 198.3 L669 198.5 L670.5 198.7 L672 198.9 L673.5 199.1 L675 199.3 L676.5 199.5 L678 199.7 L679.5 199.9 L681 200.1 L682.5 200.3 L684 200.5 L685.5 200.7 L687 200.9 L688.5 201.1 L690 201.4 L691.5 201.6 L693 202 L694.5 202.4 L696 202.7 L697.5 203.1 L699 203.4 L700.5 203.8 L702 204.1 L703.5 204.3 L705 204.6 L706.5 204.9 L708 205.1 L709.5 205.4 L711 205.7 L712.5 206 L714 206.3 L715.5 206.7 L717 207.1 L718.5 207.7 L720 208.2 L721.5 208.7 L723 209.2 L724.5 209.8 L726 210.3 L727.5 210.8 L729 211.3 L730.5 211.9 L732 212.5 L733.5 213.2 L735 213.8 L736.5 214.4 L738 215.1 L739.5 215.7 L741 216.5 L742.5 217.3 L744 218.2 L745.5 219 L747 219.9 L748.5 220.8 L750 221.6 L751.5 222.5 L753 223.4 L754.5 224.3 L756 225.2 L757.5 226.1 L759 227 L760.5 227.9 L762 228.8 L763.5 229.7 L765 230.6 L766.5 231.6 L768 232.5 L769.5 233.4 L771 234.3 L772.5 235.2 L774 236 L775.5 236.8 L777 237.5 L778.5 238.3 L780 239 L781.5 239.7 L783 240.5 L784.5 241.1 L786 241.8 L787.5 242.3 L789 242.8 L790.5 243.4 L792 243.9 L793.5 244.4 L795 245 L796.5 245.4 L798 245.8 L799.5 246.2 L801 246.6 L802.5 246.9 L804 247.3 L805.5 247.8 L807 248.2 L808.5 248.6 L810 249.1 L811.5 249.5 L813 250 L814.5 250.4 L816 250.9 L817.5 251.3 L819 251.8 L820.5 252.3 L822 252.8 L823.5 253.3 L825 253.8 L826.5 254.3 L828 254.9 L829.5 255.4 L831 255.9 L832.5 256.4 L834 257 L835.5 257.6 L837 258.2 L838.5 258.8 L840 259.4 L841.5 260 L843 260.6 L844.5 261.2 L846 261.8 L847.5 262.4 L849 263 L850.5 263.7 L852 264.4 L853.5 265 L855 265.7 L856.5 266.4 L858 267.1 L859.5 267.7 L861 268.3 L862.5 268.7 L864 269.2 L865.5 269.6 L867 270.1 L868.5 270.5 L870 271 L871.5 271.4 L873 271.9 L874.5 272.3 L876 272.8 L877.5 273.2 L879 273.6 L880.5 274 L882 274.4 L883.5 274.9 L885 275.3 L886.5 275.7 L888 276.1 L889.5 276.5 L891 276.8 L892.5 277.2 L894 277.7 L895.5 278.1 L897 278.6 L898.5 279 L900 279.4 L901.5 279.7 L903 279.9 L904.5 280 L906 279.9 L907.5 279.7 L909 279.4 L910.5 278.9 L912 278.2 L913.5 277.3 L915 276.1 L916.5 274.4 L918 272.3 L919.5 269.7 L921 266.5 L922.5 262.7 L924 258.2 L925.5 253.1 L927 247.5 L928.5 241.3 L930 234.6 L931.5 227.3 L933 219.3 L934.5 210.8 L936 201.8 L937.5 192.6 L939 183.1 L940.5 173.6 L942 164.3 L943.5 155.3 L945 147 L946.5 139.5 L948 132.9 L949.5 127.4 L951 123.2 L952.5 120.4 L954 119.2 L955.5 119.6 L957 121.7 L958.5 125.2 L960 130.1 L961.5 136.4 L963 143.8 L964.5 152.2 L966 161.6 L967.5 171.8 L969 182.6 L970.5 193.7 L972 204.7 L973.5 215.6 L975 226.5 L976.5 237.2 L978 247.8 L979.5 257.9 L981 267.7 L982.5 277 L984 285.7 L985.5 293.6 L987 300.7 L988.5 307.2 L990 313.1 L991.5 318.4 L993 323.2 L994.5 327.4 L996 331.2 L997.5 334.4 L999 337.1 L1000.5 339.4 L1002 341.4 L1003.5 343 L1005 344.4 L1006.5 345.5 L1008 346.5 L1009.5 347.3 L1011 347.9 L1012.5 348.5 L1014 348.9 L1015.5 349.3 L1017 349.6 L1018.5 349.8 L1020 350 L1021.5 350.2 L1023 350.2 L1024.5 350.3 L1026 350.4 L1027.5 350.4 L1029 350.4 L1030.5 350.4 L1032 350.5 L1033.5 350.5 L1035 350.5 L1036.5 350.5 L1038 350.5 L1039.5 350.5 L1041 350.5 L1042.5 350.5 L1044 350.5 L1044 350.5 L1042.5 350.5 L1041 350.5 L1039.5 350.5 L1038 350.5 L1036.5 350.5 L1035 350.5 L1033.5 350.5 L1032 350.5 L1030.5 350.5 L1029 350.5 L1027.5 350.5 L1026 350.5 L1024.5 350.5 L1023 350.5 L1021.5 350.5 L1020 350.5 L1018.5 350.4 L1017 350.4 L1015.5 350.3 L1014 350.3 L1012.5 350.2 L1011 350.1 L1009.5 350.1 L1008 350 L1006.5 349.9 L1005 349.9 L1003.5 349.8 L1002 349.8 L1000.5 349.7 L999 349.6 L997.5 349.4 L996 349.2 L994.5 348.9 L993 348.7 L991.5 348.4 L990 348.1 L988.5 347.8 L987 347.6 L985.5 347.2 L984 346.7 L982.5 346.1 L981 345.4 L979.5 344.6 L978 343.9 L976.5 343.1 L975 342.4 L973.5 341.6 L972 340.8 L970.5 339.7 L969 338.3 L967.5 336.7 L966 335 L964.5 333.4 L963 331.7 L961.5 330 L960 328.4 L958.5 326.7 L957 325.1 L955.5 323.4 L954 321.8 L952.5 320.1 L951 318.5 L949.5 316.8 L948 315.1 L946.5 313.5 L945 311.8 L943.5 310.3 L942 308.8 L940.5 307.3 L939 305.9 L937.5 304.5 L936 303 L934.5 301.6 L933 300.1 L931.5 298.7 L930 297.3 L928.5 295.8 L927 294.6 L925.5 293.5 L924 292.6 L922.5 291.7 L921 290.8 L919.5 289.9 L918 289 L916.5 288.1 L915 287.2 L913.5 286.3 L912 285.4 L910.5 284.6 L909 283.9 L907.5 283.3 L906 282.7 L904.5 282.1 L903 281.5 L901.5 280.9 L900 280.3 L898.5 279.7 L897 279.1 L895.5 278.5 L894 277.9 L892.5 277.4 L891 277 L889.5 276.6 L888 276.2 L886.5 275.7 L885 275.3 L883.5 274.9 L882 274.5 L880.5 274 L879 273.6 L877.5 273.2 L876 272.8 L874.5 272.3 L873 271.9 L871.5 271.4 L870 271 L868.5 270.5 L867 270.1 L865.5 269.6 L864 269.2 L862.5 268.7 L861 268.3 L859.5 267.7 L858 267.1 L856.5 266.4 L855 265.7 L853.5 265 L852 264.4 L850.5 263.7 L849 263 L847.5 262.4 L846 261.8 L844.5 261.2 L843 260.6 L841.5 260 L840 259.4 L838.5 258.8 L837 258.2 L835.5 257.6 L834 257 L832.5 256.4 L831 255.9 L829.5 255.4 L828 254.9 L826.5 254.3 L825 253.8 L823.5 253.3 L822 252.8 L820.5 252.3 L819 251.8 L817.5 251.3 L816 250.9 L814.5 250.4 L813 250 L811.5 249.5 L810 249.1 L808.5 248.6 L807 248.2 L805.5 247.8 L804 247.3 L802.5 246.9 L801 246.6 L799.5 246.2 L798 245.8 L796.5 245.4 L795 245 L793.5 244.4 L792 243.9 L790.5 243.4 L789 242.8 L787.5 242.3 L786 241.8 L784.5 241.1 L783 240.5 L781.5 239.7 L780 239 L778.5 238.3 L777 237.5 L775.5 236.8 L774 236 L772.5 235.2 L771 234.3 L769.5 233.4 L768 232.5 L766.5 231.6 L765 230.6 L763.5 229.7 L762 228.8 L760.5 227.9 L759 227 L757.5 226.1 L756 225.2 L754.5 224.3 L753 223.4 L751.5 222.5 L750 221.6 L748.5 220.8 L747 219.9 L745.5 219 L744 218.2 L742.5 217.3 L741 216.5 L739.5 215.7 L738 215.1 L736.5 214.4 L735 213.8 L733.5 213.2 L732 212.5 L730.5 211.9 L729 211.3 L727.5 210.8 L726 210.3 L724.5 209.8 L723 209.2 L721.5 208.7 L720 208.2 L718.5 207.7 L717 207.1 L715.5 206.7 L714 206.3 L712.5 206 L711 205.7 L709.5 205.4 L708 205.1 L706.5 204.9 L705 204.6 L703.5 204.3 L702 204.1 L700.5 203.8 L699 203.4 L697.5 203.1 L696 202.7 L694.5 202.4 L693 202 L691.5 201.6 L690 201.4 L688.5 201.1 L687 200.9 L685.5 200.7 L684 200.5 L682.5 200.3 L681 200.1 L679.5 199.9 L678 199.7 L676.5 199.5 L675 199.3 L673.5 199.1 L672 198.9 L670.5 198.7 L669 198.5 L667.5 198.3 L666 198.1 L664.5 197.9 L663 197.7 L661.5 197.5 L660 197.3 L658.5 197.1 L657 196.9 L655.5 196.7 L654 196.4 L652.5 196.2 L651 195.9 L649.5 195.7 L648 195.5 L646.5 195.2 L645 195 L643.5 194.8 L642 194.5 L640.5 194.3 L639 194.1 L637.5 193.9 L636 193.6 L634.5 193.4 L633 193.2 L631.5 193 L630 192.8 L628.5 192.6 L627 192.4 L625.5 192.2 L624 192 L622.5 191.8 L621 191.7 L619.5 191.6 L618 191.6 L616.5 191.5 L615 191.4 L613.5 191.3 L612 191.2 L610.5 191.1 L609 191 L607.5 190.9 L606 190.8 L604.5 190.6 L603 190.5 L601.5 190.3 L600 190.2 L598.5 190 L597 189.8 L595.5 189.7 L594 189.5 L592.5 189.4 L591 189.3 Z"/>
<clipPath id="cb5"><use href="#pb5"/></clipPath>
<clipPath id="cball"><use href="#pb0"/><use href="#pb1"/><use href="#pb2"/><use href="#pb3"/><use href="#pb4"/><use href="#pb5"/></clipPath>
<mask id="mball" maskUnits="userSpaceOnUse" x="0" y="0" width="1074" height="918"><rect width="1074" height="918" fill="#fff"/><use href="#pb0" fill="#000"/><use href="#pb1" fill="#000"/><use href="#pb2" fill="#000"/><use href="#pb3" fill="#000"/><use href="#pb4" fill="#000"/><use href="#pb5" fill="#000"/></mask>
<path id="dotb" d="M591.5 186.5 L593 186 L594.5 185.5 L596 185 L597.5 184.5 L599 184 L600.5 183.5 L602 182.5 L603.5 181.5 L605 180.5 L606.5 179.5 L608 178.6 L609.5 178.3 L611 178.1 L612.5 177.9 L614 177.8 L615.5 177.6 L617 177.1 L618.5 176.5 L620 175.8 L621.5 175.2 L623 174.2 L624.5 173.1 L626 172.1 L627.5 171.1 L629 170 L630.5 169 L632 168 L633.5 167.2 L635 166.6 L636.5 166 L638 165.4 L639.5 164.8 L641 164.2 L642.5 164.1 L644 164.2 L645.5 164.4 L647 164.5 L648.5 165.3 L650 166.1 L651.5 166.8 L653 167.7 L654.5 169 L656 170.4 L657.5 171.8 L659 173.1 L660.5 174.5 L662 175.4 L663.5 176.2 L665 177 L666.5 177.9 L668 178.7 L669.5 179.5 L671 180.3 L672.5 180.7 L674 181 L675.5 181.4 L677 181.8 L678.5 182.2 L680 182.6 L681.5 183 L683 183.3 L684.5 183.5 L686 183.2 L687.5 182.9 L689 182.6 L690.5 182.5 L692 182.5 L693.5 182.5 L695 182.5 L696.5 182.1 L698 181.5 L699.5 181 L701 180.3 L702.5 179.1 L704 177.8 L705.5 176.6 L707 174.9 L708.5 172.5 L710 170.1 L711.5 167.8 L713 165.4 L714.5 163.6 L716 161.8 L717.5 160 L719 158.2 L720.5 156.4 L722 154.6 L723.5 152.8 L725 151 L726.5 148.8 L728 145.3 L729.5 141.8 L731 138.3 L732.5 134.9 L734 131.4 L735.5 128.7 L737 126 L738.5 123.2 L740 120.5 L741.5 118 L743 115.5 L744.5 113 L746 110.6 L747.5 108.1 L749 105.6 L750.5 103.9 L752 102.8 L753.5 101.6 L755 100.5 L756.5 100.7 L758 100.8 L759.5 101 L761 102.5 L762.5 104.8 L764 107.1 L765.5 109.4 L767 111.9 L768.5 114.4 L770 116.9 L771.5 119.4 L773 121.9 L774.5 126.8 L776 132.1 L777.5 137.3 L779 141.8 L780.5 145.1 L782 148.4 L783.5 151.6 L785 154.9 L786.5 158.8 L788 162.7 L789.5 166.7 L791 170.6 L792.5 173.5 L794 175.8 L795.5 178.1 L797 180.4 L798.5 182.8 L800 184.6 L801.5 185.8 L803 187 L804.5 188.2 L806 189.5 L807.5 190.7 L809 191.4 L810.5 190.9 L812 190.5 L813.5 190.1 L815 189.6 L816.5 189.2 L818 188.8 L819.5 188.5 L821 188.3 L822.5 188 L824 187.7 L825.5 187.5 L827 187.5 L828.5 187.5 L830 187.5 L831.5 187.5 L833 187.5 L834.5 187.5 L836 187.6 L837.5 188.7 L839 189.7 L840.5 190.8 L842 191.8 L843.5 192.9 L845 193.9 L846.5 195 L848 196 L849.5 196.9 L851 197.7 L852.5 198.4 L854 199.2 L855.5 199.9 L857 200.7 L858.5 201.4 L860 202.7 L861.5 204.7 L863 206.8 L864.5 208.8 L866 210.8 L867.5 212.8 L869 214.3 L870.5 215 L872 215.8 L873.5 216.5 L875 217.2 L876.5 218 L878 218.7 L879.5 219.2 L881 219.8 L882.5 220.3 L884 220.9 L885.5 221.4 L887 221.3 L888.5 221.1 L890 220.8 L891.5 220.6 L893 219.5 L894.5 218.4 L896 217.3 L897.5 216.1 L899 215 L900.5 212.5 L902 209.5 L903.5 206.6 L905 203.6 L906.5 199.4 L908 194.8 L909.5 190.2 L911 185.2 L912.5 180.2 L914 175.3 L915.5 170.4 L917 165.9 L918.5 161.3 L920 156.8 L921.5 152.2 L923 147.7 L924.5 142.5 L926 137.4 L927.5 130.6 L929 121.8 L930.5 116.5 L932 111.3 L933.5 106.1 L935 100.9 L936.5 95.8 L938 91.2 L939.5 86.6 L941 82.1 L942.5 77.6 L944 73.1 L945.5 69.3 L947 65.8 L948.5 62.9 L950 61 L951.5 61.5 L953 63.9 L954.5 68.4 L956 74.3 L957.5 80.4 L959 88.2 L960.5 99.4 L962 111.3 L963.5 123 L965 134.8 L966.5 147 L968 159.7 L969.5 175 L971 189 L972.5 200.8 L974 212.7 L975.5 224.8 L977 234.7 L978.5 242.6 L980 250.6 L981.5 258.6 L983 266.7 L984.5 274.8 L986 282.8 L987.5 290.7 L989 298.6 L990.5 303.8 L992 309 L993.5 314.2 L995 318.7 L996.5 321.4 L998 324.2 L999.5 326.9 L1001 329.2 L1002.5 331.6 L1004 334 L1005.5 336.3 L1007 338.4 L1008.5 340.2 L1010 342 L1011.5 343.8 L1013 345.6 L1014.5 346.5 L1016 347.4 L1017.5 348.2"/>
<path id="lb0" d="M591 187.3 L592.5 187.1 L594 187 L595.5 186.8 L597 186.6 L598.5 186.4 L600 186.1 L601.5 185.8 L603 185.5 L604.5 185.1 L606 184.7 L607.5 184.2 L609 183.6 L610.5 183 L612 182.4 L613.5 181.7 L615 181 L616.5 180.2 L618 179.4 L619.5 178.6 L621 177.7 L622.5 176.9 L624 176 L625.5 175.2 L627 174.4 L628.5 173.6 L630 172.8 L631.5 171.9 L633 171.1 L634.5 170.4 L636 169.6 L637.5 168.9 L639 168.2 L640.5 167.6 L642 167 L643.5 166.5 L645 166 L646.5 165.7 L648 165.4 L649.5 165.1 L651 165 L652.5 164.9 L654 165 L655.5 165.1 L657 165.3 L658.5 165.6 L660 166 L661.5 166.5 L663 167.2 L664.5 168 L666 168.9 L667.5 169.9 L669 171.1 L670.5 172.3 L672 173.5 L673.5 174.9 L675 176.3 L676.5 177.7 L678 179.2 L679.5 180.6 L681 182.1 L682.5 183.6 L684 185 L685.5 186.4 L687 187.8 L688.5 189.1 L690 190.5 L691.5 191.8 L693 193.1 L694.5 194.4 L696 195.6 L697.5 196.7 L699 197.8 L700.5 198.8 L702 199.7 L703.5 200.5 L705 201.3 L706.5 202 L708 202.7 L709.5 203.3 L711 203.9 L712.5 204.4 L714 205 L715.5 205.6 L717 206.2 L718.5 206.9 L720 207.5 L721.5 208.2 L723 208.8 L724.5 209.4 L726 210 L727.5 210.6 L729 211.1 L730.5 211.8 L732 212.4 L733.5 213.1 L735 213.7 L736.5 214.4 L738 215 L739.5 215.7 L741 216.5 L742.5 217.3 L744 218.2 L745.5 219 L747 219.9 L748.5 220.7 L750 221.6 L751.5 222.5 L753 223.4 L754.5 224.3 L756 225.2 L757.5 226.1 L759 227 L760.5 227.9 L762 228.8 L763.5 229.7 L765 230.6 L766.5 231.5 L768 232.5 L769.5 233.4 L771 234.3 L772.5 235.2 L774 236 L775.5 236.8 L777 237.5 L778.5 238.3 L780 239 L781.5 239.7 L783 240.5 L784.5 241.1 L786 241.8 L787.5 242.3 L789 242.8 L790.5 243.4 L792 243.9 L793.5 244.4 L795 245 L796.5 245.4 L798 245.8 L799.5 246.2 L801 246.6 L802.5 246.9 L804 247.3 L805.5 247.8 L807 248.2 L808.5 248.6 L810 249.1 L811.5 249.5 L813 250 L814.5 250.4 L816 250.9 L817.5 251.3 L819 251.8 L820.5 252.3 L822 252.8 L823.5 253.3 L825 253.8 L826.5 254.3 L828 254.9 L829.5 255.4 L831 255.9 L832.5 256.4 L834 257 L835.5 257.6 L837 258.2 L838.5 258.8 L840 259.4 L841.5 260 L843 260.6 L844.5 261.2 L846 261.8 L847.5 262.4 L849 263 L850.5 263.7 L852 264.4 L853.5 265 L855 265.7 L856.5 266.4 L858 267.1 L859.5 267.7 L861 268.3 L862.5 268.7 L864 269.2 L865.5 269.6 L867 270.1 L868.5 270.5 L870 271 L871.5 271.4 L873 271.9 L874.5 272.3 L876 272.8 L877.5 273.2 L879 273.6 L880.5 274 L882 274.5 L883.5 274.9 L885 275.3 L886.5 275.7 L888 276.2 L889.5 276.6 L891 277 L892.5 277.4 L894 277.9 L895.5 278.5 L897 279.1 L898.5 279.7 L900 280.3 L901.5 280.9 L903 281.5 L904.5 282.1 L906 282.7 L907.5 283.3 L909 283.9 L910.5 284.6 L912 285.4 L913.5 286.3 L915 287.2 L916.5 288.1 L918 289 L919.5 289.9 L921 290.8 L922.5 291.7 L924 292.6 L925.5 293.5 L927 294.6 L928.5 295.8 L930 297.3 L931.5 298.7 L933 300.1 L934.5 301.6 L936 303 L937.5 304.5 L939 305.9 L940.5 307.3 L942 308.8 L943.5 310.3 L945 311.8 L946.5 313.5 L948 315.1 L949.5 316.8 L951 318.5 L952.5 320.1 L954 321.8 L955.5 323.4 L957 325.1 L958.5 326.7 L960 328.4 L961.5 330 L963 331.7 L964.5 333.4 L966 335 L967.5 336.7 L969 338.3 L970.5 339.7 L972 340.8 L973.5 341.6 L975 342.4 L976.5 343.1 L978 343.9 L979.5 344.6 L981 345.4 L982.5 346.1 L984 346.7 L985.5 347.2 L987 347.6 L988.5 347.8 L990 348.1 L991.5 348.4 L993 348.7 L994.5 348.9 L996 349.2 L997.5 349.4 L999 349.6 L1000.5 349.7 L1002 349.8 L1003.5 349.8 L1005 349.9 L1006.5 349.9 L1008 350 L1009.5 350.1 L1011 350.1 L1012.5 350.2 L1014 350.3 L1015.5 350.3 L1017 350.4 L1018.5 350.4 L1020 350.5 L1021.5 350.5 L1023 350.5 L1024.5 350.5 L1026 350.5 L1027.5 350.5 L1029 350.5 L1030.5 350.5 L1032 350.5 L1033.5 350.5 L1035 350.5 L1036.5 350.5 L1038 350.5 L1039.5 350.5 L1041 350.5 L1042.5 350.5 L1044 350.5"/>
<mask id="mb0" maskUnits="userSpaceOnUse" x="0" y="0" width="1074" height="918"><rect width="1074" height="918" fill="#fff"/><use href="#pb5" fill="#000"/><use href="#pb3" fill="#000"/><use href="#pb2" fill="#000"/><use href="#pb1" fill="#000"/><use href="#pb4" fill="#000"/></mask>
<clipPath id="cl0"><use href="#pb5"/><use href="#pb3"/><use href="#pb2"/><use href="#pb1"/><use href="#pb4"/></clipPath>
<path id="lb5" d="M591 189.3 L592.5 189.4 L594 189.5 L595.5 189.7 L597 189.8 L598.5 190 L600 190.2 L601.5 190.3 L603 190.5 L604.5 190.6 L606 190.8 L607.5 190.9 L609 191 L610.5 191.1 L612 191.2 L613.5 191.3 L615 191.4 L616.5 191.5 L618 191.6 L619.5 191.6 L621 191.7 L622.5 191.8 L624 192 L625.5 192.2 L627 192.4 L628.5 192.6 L630 192.8 L631.5 193 L633 193.2 L634.5 193.4 L636 193.6 L637.5 193.9 L639 194.1 L640.5 194.3 L642 194.5 L643.5 194.8 L645 195 L646.5 195.2 L648 195.5 L649.5 195.7 L651 195.9 L652.5 196.2 L654 196.4 L655.5 196.7 L657 196.9 L658.5 197.1 L660 197.3 L661.5 197.5 L663 197.7 L664.5 197.9 L666 198.1 L667.5 198.3 L669 198.5 L670.5 198.7 L672 198.9 L673.5 199.1 L675 199.3 L676.5 199.5 L678 199.7 L679.5 199.9 L681 200.1 L682.5 200.3 L684 200.5 L685.5 200.7 L687 200.9 L688.5 201.1 L690 201.4 L691.5 201.6 L693 202 L694.5 202.4 L696 202.7 L697.5 203.1 L699 203.4 L700.5 203.8 L702 204.1 L703.5 204.3 L705 204.6 L706.5 204.9 L708 205.1 L709.5 205.4 L711 205.7 L712.5 206 L714 206.3 L715.5 206.7 L717 207.1 L718.5 207.7 L720 208.2 L721.5 208.7 L723 209.2 L724.5 209.8 L726 210.3 L727.5 210.8 L729 211.3 L730.5 211.9 L732 212.5 L733.5 213.2 L735 213.8 L736.5 214.4 L738 215.1 L739.5 215.7 L741 216.5 L742.5 217.3 L744 218.2 L745.5 219 L747 219.9 L748.5 220.8 L750 221.6 L751.5 222.5 L753 223.4 L754.5 224.3 L756 225.2 L757.5 226.1 L759 227 L760.5 227.9 L762 228.8 L763.5 229.7 L765 230.6 L766.5 231.6 L768 232.5 L769.5 233.4 L771 234.3 L772.5 235.2 L774 236 L775.5 236.8 L777 237.5 L778.5 238.3 L780 239 L781.5 239.7 L783 240.5 L784.5 241.1 L786 241.8 L787.5 242.3 L789 242.8 L790.5 243.4 L792 243.9 L793.5 244.4 L795 245 L796.5 245.4 L798 245.8 L799.5 246.2 L801 246.6 L802.5 246.9 L804 247.3 L805.5 247.8 L807 248.2 L808.5 248.6 L810 249.1 L811.5 249.5 L813 250 L814.5 250.4 L816 250.9 L817.5 251.3 L819 251.8 L820.5 252.3 L822 252.8 L823.5 253.3 L825 253.8 L826.5 254.3 L828 254.9 L829.5 255.4 L831 255.9 L832.5 256.4 L834 257 L835.5 257.6 L837 258.2 L838.5 258.8 L840 259.4 L841.5 260 L843 260.6 L844.5 261.2 L846 261.8 L847.5 262.4 L849 263 L850.5 263.7 L852 264.4 L853.5 265 L855 265.7 L856.5 266.4 L858 267.1 L859.5 267.7 L861 268.3 L862.5 268.7 L864 269.2 L865.5 269.6 L867 270.1 L868.5 270.5 L870 271 L871.5 271.4 L873 271.9 L874.5 272.3 L876 272.8 L877.5 273.2 L879 273.6 L880.5 274 L882 274.4 L883.5 274.9 L885 275.3 L886.5 275.7 L888 276.1 L889.5 276.5 L891 276.8 L892.5 277.2 L894 277.7 L895.5 278.1 L897 278.6 L898.5 279 L900 279.4 L901.5 279.7 L903 279.9 L904.5 280 L906 279.9 L907.5 279.7 L909 279.4 L910.5 278.9 L912 278.2 L913.5 277.3 L915 276.1 L916.5 274.4 L918 272.3 L919.5 269.7 L921 266.5 L922.5 262.7 L924 258.2 L925.5 253.1 L927 247.5 L928.5 241.3 L930 234.6 L931.5 227.3 L933 219.3 L934.5 210.8 L936 201.8 L937.5 192.6 L939 183.1 L940.5 173.6 L942 164.3 L943.5 155.3 L945 147 L946.5 139.5 L948 132.9 L949.5 127.4 L951 123.2 L952.5 120.4 L954 119.2 L955.5 119.6 L957 121.7 L958.5 125.2 L960 130.1 L961.5 136.4 L963 143.8 L964.5 152.2 L966 161.6 L967.5 171.8 L969 182.6 L970.5 193.7 L972 204.7 L973.5 215.6 L975 226.5 L976.5 237.2 L978 247.8 L979.5 257.9 L981 267.7 L982.5 277 L984 285.7 L985.5 293.6 L987 300.7 L988.5 307.2 L990 313.1 L991.5 318.4 L993 323.2 L994.5 327.4 L996 331.2 L997.5 334.4 L999 337.1 L1000.5 339.4 L1002 341.4 L1003.5 343 L1005 344.4 L1006.5 345.5 L1008 346.5 L1009.5 347.3 L1011 347.9 L1012.5 348.5 L1014 348.9 L1015.5 349.3 L1017 349.6 L1018.5 349.8 L1020 350 L1021.5 350.2 L1023 350.2 L1024.5 350.3 L1026 350.4 L1027.5 350.4 L1029 350.4 L1030.5 350.4 L1032 350.5 L1033.5 350.5 L1035 350.5 L1036.5 350.5 L1038 350.5 L1039.5 350.5 L1041 350.5 L1042.5 350.5 L1044 350.5"/>
<mask id="mb5" maskUnits="userSpaceOnUse" x="0" y="0" width="1074" height="918"><rect width="1074" height="918" fill="#fff"/><use href="#pb3" fill="#000"/><use href="#pb2" fill="#000"/><use href="#pb1" fill="#000"/><use href="#pb4" fill="#000"/></mask>
<clipPath id="cl5"><use href="#pb3"/><use href="#pb2"/><use href="#pb1"/><use href="#pb4"/></clipPath>
<path id="lb3" d="M591 189.3 L592.5 189.4 L594 189.5 L595.5 189.7 L597 189.8 L598.5 190 L600 190.2 L601.5 190.3 L603 190.5 L604.5 190.6 L606 190.8 L607.5 190.9 L609 191 L610.5 191.1 L612 191.2 L613.5 191.3 L615 191.4 L616.5 191.5 L618 191.6 L619.5 191.6 L621 191.7 L622.5 191.8 L624 192 L625.5 192.2 L627 192.4 L628.5 192.6 L630 192.8 L631.5 193 L633 193.2 L634.5 193.4 L636 193.6 L637.5 193.9 L639 194.1 L640.5 194.3 L642 194.5 L643.5 194.8 L645 195 L646.5 195.2 L648 195.5 L649.5 195.7 L651 195.9 L652.5 196.2 L654 196.4 L655.5 196.7 L657 196.9 L658.5 197.1 L660 197.3 L661.5 197.5 L663 197.7 L664.5 197.9 L666 198.1 L667.5 198.3 L669 198.5 L670.5 198.7 L672 198.9 L673.5 199.1 L675 199.3 L676.5 199.5 L678 199.7 L679.5 199.9 L681 200.1 L682.5 200.3 L684 200.5 L685.5 200.7 L687 200.9 L688.5 201.1 L690 201.4 L691.5 201.6 L693 202 L694.5 202.4 L696 202.7 L697.5 203.1 L699 203.4 L700.5 203.8 L702 204.1 L703.5 204.3 L705 204.6 L706.5 204.9 L708 205.1 L709.5 205.4 L711 205.7 L712.5 206 L714 206.3 L715.5 206.7 L717 207.1 L718.5 207.6 L720 208.2 L721.5 208.7 L723 209.2 L724.5 209.7 L726 210.3 L727.5 210.8 L729 211.3 L730.5 211.9 L732 212.5 L733.5 213.1 L735 213.7 L736.5 214.3 L738 214.9 L739.5 215.6 L741 216.3 L742.5 217.1 L744 217.9 L745.5 218.7 L747 219.5 L748.5 220.3 L750 221.1 L751.5 221.9 L753 222.6 L754.5 223.4 L756 224.2 L757.5 224.9 L759 225.6 L760.5 226.3 L762 226.9 L763.5 227.5 L765 228.1 L766.5 228.6 L768 229.1 L769.5 229.5 L771 229.9 L772.5 230.2 L774 230.3 L775.5 230.4 L777 230.3 L778.5 230.2 L780 230 L781.5 229.7 L783 229.3 L784.5 228.7 L786 228.1 L787.5 227.2 L789 226.3 L790.5 225.2 L792 224.1 L793.5 222.9 L795 221.6 L796.5 220.2 L798 218.6 L799.5 216.9 L801 215.2 L802.5 213.4 L804 211.6 L805.5 209.7 L807 207.9 L808.5 206.1 L810 204.2 L811.5 202.4 L813 200.6 L814.5 198.8 L816 197 L817.5 195.4 L819 193.8 L820.5 192.3 L822 191 L823.5 189.7 L825 188.6 L826.5 187.6 L828 186.8 L829.5 186.1 L831 185.5 L832.5 185.1 L834 184.9 L835.5 184.9 L837 185 L838.5 185.3 L840 185.8 L841.5 186.3 L843 187 L844.5 187.9 L846 189 L847.5 190.3 L849 191.8 L850.5 193.5 L852 195.5 L853.5 197.6 L855 199.9 L856.5 202.4 L858 205.1 L859.5 207.8 L861 210.6 L862.5 213.4 L864 216.2 L865.5 219.2 L867 222.2 L868.5 225.2 L870 228.2 L871.5 231.3 L873 234.3 L874.5 237.2 L876 240.2 L877.5 243 L879 245.8 L880.5 248.4 L882 251 L883.5 253.5 L885 255.9 L886.5 258.1 L888 260.3 L889.5 262.3 L891 264.2 L892.5 266.1 L894 267.8 L895.5 269.6 L897 271.2 L898.5 272.8 L900 274.3 L901.5 275.6 L903 276.9 L904.5 278.2 L906 279.3 L907.5 280.4 L909 281.4 L910.5 282.5 L912 283.6 L913.5 284.8 L915 286 L916.5 287.1 L918 288.1 L919.5 289.2 L921 290.2 L922.5 291.2 L924 292.2 L925.5 293.2 L927 294.3 L928.5 295.6 L930 297.1 L931.5 298.6 L933 300 L934.5 301.5 L936 303 L937.5 304.4 L939 305.9 L940.5 307.3 L942 308.7 L943.5 310.3 L945 311.8 L946.5 313.5 L948 315.1 L949.5 316.8 L951 318.5 L952.5 320.1 L954 321.8 L955.5 323.4 L957 325.1 L958.5 326.7 L960 328.4 L961.5 330 L963 331.7 L964.5 333.4 L966 335 L967.5 336.7 L969 338.3 L970.5 339.7 L972 340.8 L973.5 341.6 L975 342.4 L976.5 343.1 L978 343.9 L979.5 344.6 L981 345.4 L982.5 346.1 L984 346.7 L985.5 347.2 L987 347.6 L988.5 347.8 L990 348.1 L991.5 348.4 L993 348.7 L994.5 348.9 L996 349.2 L997.5 349.4 L999 349.6 L1000.5 349.7 L1002 349.8 L1003.5 349.8 L1005 349.9 L1006.5 349.9 L1008 350 L1009.5 350.1 L1011 350.1 L1012.5 350.2 L1014 350.3 L1015.5 350.3 L1017 350.4 L1018.5 350.4 L1020 350.5 L1021.5 350.5 L1023 350.5 L1024.5 350.5 L1026 350.5 L1027.5 350.5 L1029 350.5 L1030.5 350.5 L1032 350.5 L1033.5 350.5 L1035 350.5 L1036.5 350.5 L1038 350.5 L1039.5 350.5 L1041 350.5 L1042.5 350.5 L1044 350.5"/>
<mask id="mb3" maskUnits="userSpaceOnUse" x="0" y="0" width="1074" height="918"><rect width="1074" height="918" fill="#fff"/><use href="#pb2" fill="#000"/><use href="#pb1" fill="#000"/><use href="#pb4" fill="#000"/></mask>
<clipPath id="cl3"><use href="#pb2"/><use href="#pb1"/><use href="#pb4"/></clipPath>
<path id="lb2" d="M591 189.3 L592.5 189.4 L594 189.5 L595.5 189.7 L597 189.8 L598.5 190 L600 190.2 L601.5 190.3 L603 190.5 L604.5 190.6 L606 190.8 L607.5 190.9 L609 191 L610.5 191.1 L612 191.2 L613.5 191.3 L615 191.4 L616.5 191.5 L618 191.6 L619.5 191.6 L621 191.7 L622.5 191.8 L624 192 L625.5 192.2 L627 192.4 L628.5 192.6 L630 192.8 L631.5 193 L633 193.2 L634.5 193.4 L636 193.6 L637.5 193.9 L639 194.1 L640.5 194.3 L642 194.5 L643.5 194.8 L645 195 L646.5 195.2 L648 195.5 L649.5 195.7 L651 195.9 L652.5 196.2 L654 196.4 L655.5 196.7 L657 196.9 L658.5 197.1 L660 197.3 L661.5 197.5 L663 197.7 L664.5 197.9 L666 198.1 L667.5 198.3 L669 198.5 L670.5 198.7 L672 198.9 L673.5 199.1 L675 199.3 L676.5 199.5 L678 199.7 L679.5 199.9 L681 200.1 L682.5 200.3 L684 200.5 L685.5 200.7 L687 200.9 L688.5 201.1 L690 201.3 L691.5 201.6 L693 201.9 L694.5 202.3 L696 202.6 L697.5 202.9 L699 203.2 L700.5 203.5 L702 203.7 L703.5 203.8 L705 204 L706.5 204.1 L708 204.1 L709.5 204.2 L711 204.1 L712.5 204 L714 203.8 L715.5 203.7 L717 203.5 L718.5 203.2 L720 202.9 L721.5 202.3 L723 201.6 L724.5 200.8 L726 199.7 L727.5 198.4 L729 197 L730.5 195.3 L732 193.4 L733.5 191.3 L735 189 L736.5 186.4 L738 183.5 L739.5 180.5 L741 177.3 L742.5 174.1 L744 170.6 L745.5 167.1 L747 163.4 L748.5 159.7 L750 156 L751.5 152.4 L753 148.8 L754.5 145.4 L756 142.1 L757.5 139.1 L759 136.4 L760.5 134 L762 132 L763.5 130.3 L765 129.1 L766.5 128.3 L768 128 L769.5 128.1 L771 128.6 L772.5 129.5 L774 130.6 L775.5 132 L777 133.7 L778.5 135.7 L780 138.1 L781.5 140.9 L783 144 L784.5 147.3 L786 150.9 L787.5 154.6 L789 158.6 L790.5 162.8 L792 167.1 L793.5 171.5 L795 176.1 L796.5 180.6 L798 185.1 L799.5 189.5 L801 194 L802.5 198.3 L804 202.5 L805.5 206.7 L807 210.7 L808.5 214.6 L810 218.3 L811.5 221.8 L813 225.1 L814.5 228.2 L816 231.2 L817.5 233.9 L819 236.4 L820.5 238.8 L822 241.1 L823.5 243.1 L825 245.1 L826.5 246.8 L828 248.4 L829.5 249.9 L831 251.3 L832.5 252.5 L834 253.7 L835.5 254.8 L837 255.9 L838.5 256.9 L840 257.8 L841.5 258.7 L843 259.5 L844.5 260.3 L846 261.1 L847.5 261.8 L849 262.6 L850.5 263.3 L852 264.1 L853.5 264.8 L855 265.6 L856.5 266.3 L858 267 L859.5 267.6 L861 268.2 L862.5 268.7 L864 269.2 L865.5 269.6 L867 270.1 L868.5 270.5 L870 271 L871.5 271.4 L873 271.9 L874.5 272.3 L876 272.8 L877.5 273.2 L879 273.6 L880.5 274 L882 274.5 L883.5 274.9 L885 275.3 L886.5 275.7 L888 276.2 L889.5 276.6 L891 277 L892.5 277.4 L894 277.9 L895.5 278.5 L897 279.1 L898.5 279.7 L900 280.3 L901.5 280.9 L903 281.5 L904.5 282.1 L906 282.7 L907.5 283.3 L909 283.9 L910.5 284.6 L912 285.4 L913.5 286.3 L915 287.2 L916.5 288.1 L918 289 L919.5 289.9 L921 290.8 L922.5 291.7 L924 292.6 L925.5 293.5 L927 294.6 L928.5 295.8 L930 297.3 L931.5 298.7 L933 300.1 L934.5 301.6 L936 303 L937.5 304.5 L939 305.9 L940.5 307.3 L942 308.8 L943.5 310.3 L945 311.8 L946.5 313.5 L948 315.1 L949.5 316.8 L951 318.5 L952.5 320.1 L954 321.8 L955.5 323.4 L957 325.1 L958.5 326.7 L960 328.4 L961.5 330 L963 331.7 L964.5 333.4 L966 335 L967.5 336.7 L969 338.3 L970.5 339.7 L972 340.8 L973.5 341.6 L975 342.4 L976.5 343.1 L978 343.9 L979.5 344.6 L981 345.4 L982.5 346.1 L984 346.7 L985.5 347.2 L987 347.6 L988.5 347.8 L990 348.1 L991.5 348.4 L993 348.7 L994.5 348.9 L996 349.2 L997.5 349.4 L999 349.6 L1000.5 349.7 L1002 349.8 L1003.5 349.8 L1005 349.9 L1006.5 349.9 L1008 350 L1009.5 350.1 L1011 350.1 L1012.5 350.2 L1014 350.3 L1015.5 350.3 L1017 350.4 L1018.5 350.4 L1020 350.5 L1021.5 350.5 L1023 350.5 L1024.5 350.5 L1026 350.5 L1027.5 350.5 L1029 350.5 L1030.5 350.5 L1032 350.5 L1033.5 350.5 L1035 350.5 L1036.5 350.5 L1038 350.5 L1039.5 350.5 L1041 350.5 L1042.5 350.5 L1044 350.5"/>
<mask id="mb2" maskUnits="userSpaceOnUse" x="0" y="0" width="1074" height="918"><rect width="1074" height="918" fill="#fff"/><use href="#pb1" fill="#000"/><use href="#pb4" fill="#000"/></mask>
<clipPath id="cl2"><use href="#pb1"/><use href="#pb4"/></clipPath>
<path id="lb1" d="M591 189.3 L592.5 189.4 L594 189.5 L595.5 189.7 L597 189.8 L598.5 190 L600 190.2 L601.5 190.3 L603 190.5 L604.5 190.6 L606 190.8 L607.5 190.9 L609 191 L610.5 191.1 L612 191.2 L613.5 191.3 L615 191.4 L616.5 191.5 L618 191.6 L619.5 191.6 L621 191.7 L622.5 191.8 L624 192 L625.5 192.2 L627 192.4 L628.5 192.6 L630 192.8 L631.5 193 L633 193.2 L634.5 193.4 L636 193.6 L637.5 193.8 L639 194.1 L640.5 194.3 L642 194.5 L643.5 194.7 L645 195 L646.5 195.2 L648 195.4 L649.5 195.7 L651 195.9 L652.5 196.1 L654 196.3 L655.5 196.6 L657 196.8 L658.5 197 L660 197.1 L661.5 197.3 L663 197.4 L664.5 197.6 L666 197.7 L667.5 197.8 L669 198 L670.5 198 L672 198.1 L673.5 198.2 L675 198.2 L676.5 198.2 L678 198.2 L679.5 198.1 L681 198 L682.5 197.8 L684 197.6 L685.5 197.4 L687 197 L688.5 196.7 L690 196.2 L691.5 195.8 L693 195.3 L694.5 194.8 L696 194.1 L697.5 193.4 L699 192.6 L700.5 191.6 L702 190.4 L703.5 189.2 L705 187.8 L706.5 186.3 L708 184.7 L709.5 183 L711 181.2 L712.5 179.4 L714 177.4 L715.5 175.5 L717 173.6 L718.5 171.7 L720 169.8 L721.5 167.9 L723 166 L724.5 164.2 L726 162.4 L727.5 160.7 L729 159.2 L730.5 157.8 L732 156.7 L733.5 155.8 L735 155.1 L736.5 154.7 L738 154.5 L739.5 154.8 L741 155.6 L742.5 156.8 L744 158.3 L745.5 160.1 L747 162.2 L748.5 164.4 L750 166.9 L751.5 169.5 L753 172.2 L754.5 175.1 L756 178.1 L757.5 181.2 L759 184.3 L760.5 187.5 L762 190.7 L763.5 193.8 L765 197 L766.5 200.1 L768 203.2 L769.5 206.2 L771 209.1 L772.5 212 L774 214.7 L775.5 217.2 L777 219.7 L778.5 222 L780 224.2 L781.5 226.4 L783 228.4 L784.5 230.3 L786 232 L787.5 233.6 L789 235.1 L790.5 236.5 L792 237.8 L793.5 239.1 L795 240.2 L796.5 241.3 L798 242.2 L799.5 243 L801 243.8 L802.5 244.5 L804 245.3 L805.5 246 L807 246.7 L808.5 247.3 L810 248 L811.5 248.6 L813 249.1 L814.5 249.7 L816 250.3 L817.5 250.8 L819 251.3 L820.5 251.9 L822 252.5 L823.5 253.1 L825 253.6 L826.5 254.2 L828 254.7 L829.5 255.3 L831 255.8 L832.5 256.4 L834 256.9 L835.5 257.5 L837 258.1 L838.5 258.7 L840 259.3 L841.5 260 L843 260.6 L844.5 261.2 L846 261.8 L847.5 262.4 L849 263 L850.5 263.7 L852 264.4 L853.5 265 L855 265.7 L856.5 266.4 L858 267.1 L859.5 267.7 L861 268.3 L862.5 268.7 L864 269.2 L865.5 269.6 L867 270.1 L868.5 270.5 L870 271 L871.5 271.4 L873 271.9 L874.5 272.3 L876 272.8 L877.5 273.2 L879 273.6 L880.5 274 L882 274.5 L883.5 274.9 L885 275.3 L886.5 275.7 L888 276.2 L889.5 276.6 L891 277 L892.5 277.4 L894 277.9 L895.5 278.5 L897 279.1 L898.5 279.7 L900 280.3 L901.5 280.9 L903 281.5 L904.5 282.1 L906 282.7 L907.5 283.3 L909 283.9 L910.5 284.6 L912 285.4 L913.5 286.3 L915 287.2 L916.5 288.1 L918 289 L919.5 289.9 L921 290.8 L922.5 291.7 L924 292.6 L925.5 293.5 L927 294.6 L928.5 295.8 L930 297.3 L931.5 298.7 L933 300.1 L934.5 301.6 L936 303 L937.5 304.5 L939 305.9 L940.5 307.3 L942 308.8 L943.5 310.3 L945 311.8 L946.5 313.5 L948 315.1 L949.5 316.8 L951 318.5 L952.5 320.1 L954 321.8 L955.5 323.4 L957 325.1 L958.5 326.7 L960 328.4 L961.5 330 L963 331.7 L964.5 333.4 L966 335 L967.5 336.7 L969 338.3 L970.5 339.7 L972 340.8 L973.5 341.6 L975 342.4 L976.5 343.1 L978 343.9 L979.5 344.6 L981 345.4 L982.5 346.1 L984 346.7 L985.5 347.2 L987 347.6 L988.5 347.8 L990 348.1 L991.5 348.4 L993 348.7 L994.5 348.9 L996 349.2 L997.5 349.4 L999 349.6 L1000.5 349.7 L1002 349.8 L1003.5 349.8 L1005 349.9 L1006.5 349.9 L1008 350 L1009.5 350.1 L1011 350.1 L1012.5 350.2 L1014 350.3 L1015.5 350.3 L1017 350.4 L1018.5 350.4 L1020 350.5 L1021.5 350.5 L1023 350.5 L1024.5 350.5 L1026 350.5 L1027.5 350.5 L1029 350.5 L1030.5 350.5 L1032 350.5 L1033.5 350.5 L1035 350.5 L1036.5 350.5 L1038 350.5 L1039.5 350.5 L1041 350.5 L1042.5 350.5 L1044 350.5"/>
<mask id="mb1" maskUnits="userSpaceOnUse" x="0" y="0" width="1074" height="918"><rect width="1074" height="918" fill="#fff"/><use href="#pb4" fill="#000"/></mask>
<clipPath id="cl1"><use href="#pb4"/></clipPath>
<path id="lb4" d="M591 189.3 L592.5 189.4 L594 189.5 L595.5 189.7 L597 189.8 L598.5 190 L600 190.2 L601.5 190.3 L603 190.5 L604.5 190.6 L606 190.8 L607.5 190.9 L609 191 L610.5 191.1 L612 191.2 L613.5 191.3 L615 191.4 L616.5 191.5 L618 191.6 L619.5 191.6 L621 191.7 L622.5 191.8 L624 192 L625.5 192.2 L627 192.4 L628.5 192.6 L630 192.8 L631.5 193 L633 193.2 L634.5 193.4 L636 193.6 L637.5 193.9 L639 194.1 L640.5 194.3 L642 194.5 L643.5 194.8 L645 195 L646.5 195.2 L648 195.5 L649.5 195.7 L651 195.9 L652.5 196.2 L654 196.4 L655.5 196.7 L657 196.9 L658.5 197.1 L660 197.3 L661.5 197.5 L663 197.7 L664.5 197.9 L666 198.1 L667.5 198.3 L669 198.5 L670.5 198.7 L672 198.9 L673.5 199.1 L675 199.3 L676.5 199.5 L678 199.7 L679.5 199.9 L681 200.1 L682.5 200.3 L684 200.5 L685.5 200.7 L687 200.9 L688.5 201.1 L690 201.4 L691.5 201.6 L693 202 L694.5 202.4 L696 202.7 L697.5 203.1 L699 203.4 L700.5 203.8 L702 204.1 L703.5 204.3 L705 204.6 L706.5 204.9 L708 205.1 L709.5 205.4 L711 205.7 L712.5 206 L714 206.3 L715.5 206.7 L717 207.1 L718.5 207.7 L720 208.2 L721.5 208.7 L723 209.2 L724.5 209.8 L726 210.3 L727.5 210.8 L729 211.3 L730.5 211.9 L732 212.5 L733.5 213.2 L735 213.8 L736.5 214.4 L738 215.1 L739.5 215.7 L741 216.5 L742.5 217.3 L744 218.2 L745.5 219 L747 219.9 L748.5 220.8 L750 221.6 L751.5 222.5 L753 223.4 L754.5 224.3 L756 225.2 L757.5 226.1 L759 227 L760.5 227.9 L762 228.8 L763.5 229.7 L765 230.6 L766.5 231.5 L768 232.5 L769.5 233.4 L771 234.3 L772.5 235.2 L774 236 L775.5 236.8 L777 237.5 L778.5 238.3 L780 239 L781.5 239.7 L783 240.5 L784.5 241.1 L786 241.8 L787.5 242.3 L789 242.8 L790.5 243.4 L792 243.9 L793.5 244.4 L795 245 L796.5 245.4 L798 245.8 L799.5 246.2 L801 246.6 L802.5 246.9 L804 247.3 L805.5 247.8 L807 248.2 L808.5 248.6 L810 249.1 L811.5 249.5 L813 249.9 L814.5 250.4 L816 250.8 L817.5 251.3 L819 251.7 L820.5 252.2 L822 252.7 L823.5 253.2 L825 253.7 L826.5 254.2 L828 254.7 L829.5 255.1 L831 255.6 L832.5 256.1 L834 256.5 L835.5 257 L837 257.5 L838.5 258 L840 258.4 L841.5 258.9 L843 259.2 L844.5 259.6 L846 259.9 L847.5 260.2 L849 260.4 L850.5 260.6 L852 260.8 L853.5 260.9 L855 260.9 L856.5 260.8 L858 260.6 L859.5 260.3 L861 259.8 L862.5 259.1 L864 258.2 L865.5 257.2 L867 256 L868.5 254.7 L870 253.2 L871.5 251.6 L873 249.8 L874.5 247.8 L876 245.6 L877.5 243.3 L879 240.8 L880.5 238.1 L882 235.2 L883.5 232.2 L885 229.1 L886.5 225.8 L888 222.4 L889.5 219 L891 215.5 L892.5 211.9 L894 208.4 L895.5 205 L897 201.6 L898.5 198.3 L900 195.2 L901.5 192.2 L903 189.3 L904.5 186.7 L906 184.3 L907.5 182.2 L909 180.5 L910.5 179.1 L912 178.2 L913.5 177.8 L915 177.8 L916.5 178.2 L918 179.1 L919.5 180.4 L921 182 L922.5 184 L924 186.3 L925.5 188.9 L927 192 L928.5 195.5 L930 199.4 L931.5 203.6 L933 208 L934.5 212.5 L936 217.2 L937.5 222 L939 226.9 L940.5 231.9 L942 236.9 L943.5 242 L945 247.2 L946.5 252.5 L948 257.7 L949.5 262.9 L951 268 L952.5 273 L954 277.9 L955.5 282.8 L957 287.4 L958.5 292 L960 296.4 L961.5 300.7 L963 304.9 L964.5 308.9 L966 312.7 L967.5 316.4 L969 320 L970.5 323.2 L972 326 L973.5 328.3 L975 330.5 L976.5 332.5 L978 334.4 L979.5 336.2 L981 337.9 L982.5 339.5 L984 341 L985.5 342.2 L987 343.1 L988.5 344 L990 344.7 L991.5 345.5 L993 346.1 L994.5 346.8 L996 347.3 L997.5 347.8 L999 348.2 L1000.5 348.5 L1002 348.8 L1003.5 349 L1005 349.2 L1006.5 349.3 L1008 349.5 L1009.5 349.6 L1011 349.8 L1012.5 349.9 L1014 350 L1015.5 350.1 L1017 350.2 L1018.5 350.3 L1020 350.4 L1021.5 350.4 L1023 350.4 L1024.5 350.4 L1026 350.4 L1027.5 350.5 L1029 350.5 L1030.5 350.5 L1032 350.5 L1033.5 350.5 L1035 350.5 L1036.5 350.5 L1038 350.5 L1039.5 350.5 L1041 350.5 L1042.5 350.5 L1044 350.5"/>
<linearGradient id="gblue" x1="0" y1="0" x2="0" y2="1"><stop offset="0" stop-color="#4848f2"/><stop offset="1" stop-color="#7876e6"/></linearGradient>
<linearGradient id="gpink" x1="0" y1="0" x2="0" y2="1"><stop offset="0" stop-color="#ffeef4"/><stop offset="1" stop-color="#fdd3e2"/></linearGradient>
<clipPath id="cda"><path d="M590 778.2 L591.5 778.2 L593 778.2 L594.5 778.2 L596 778.2 L597.5 778.3 L599 778.3 L600.5 778.3 L602 778.3 L603.5 778.3 L605 778.3 L606.5 778.3 L608 778.3 L609.5 778.3 L611 778.4 L612.5 778.4 L614 778.4 L615.5 778.4 L617 778.4 L618.5 778.4 L620 778.4 L621.5 778.4 L623 778.4 L624.5 778.4 L626 778.4 L627.5 778.5 L629 778.5 L630.5 778.5 L632 778.5 L633.5 778.5 L635 778.5 L636.5 778.5 L638 778.5 L639.5 778.5 L641 778.5 L642.5 778.5 L644 778.5 L645.5 778.5 L647 778.5 L648.5 778.5 L650 778.5 L651.5 778.4 L653 778.4 L654.5 778.4 L656 778.4 L657.5 778.3 L659 778.3 L660.5 778.2 L662 778.2 L663.5 778.1 L665 778 L666.5 778 L668 777.9 L669.5 777.7 L671 777.6 L672.5 777.5 L674 777.3 L675.5 777.1 L677 776.9 L678.5 776.7 L680 776.4 L681.5 776.2 L683 775.9 L684.5 775.5 L686 775.1 L687.5 774.7 L689 774.3 L690.5 773.8 L692 773.3 L693.5 772.7 L695 772 L696.5 771.4 L698 770.6 L699.5 769.8 L701 769 L702.5 768.1 L704 767.2 L705.5 766.1 L707 765.1 L708.5 763.9 L710 762.7 L711.5 761.4 L713 760 L714.5 758.6 L716 757 L717.5 755.4 L719 753.8 L720.5 752 L722 750.2 L723.5 748.3 L725 746.4 L726.5 744.4 L728 742.3 L729.5 740.2 L731 738 L732.5 735.8 L734 733.5 L735.5 731.2 L737 728.9 L738.5 726.6 L740 724.2 L741.5 721.9 L743 719.5 L744.5 717.2 L746 714.9 L747.5 712.6 L749 710.4 L750.5 708.2 L752 706.1 L753.5 704 L755 702.1 L756.5 700.2 L758 698.4 L759.5 696.8 L761 695.3 L762.5 693.9 L764 692.6 L765.5 691.5 L767 690.5 L768.5 689.7 L770 689.1 L771.5 688.6 L773 688.2 L774.5 688.1 L776 688.1 L777.5 688.2 L779 688.6 L780.5 689.1 L782 689.7 L783.5 690.6 L785 691.6 L786.5 692.7 L788 694 L789.5 695.5 L791 697.1 L792.5 698.8 L794 700.6 L795.5 702.5 L797 704.6 L798.5 706.7 L800 709 L801.5 711.3 L803 713.6 L804.5 716 L806 718.5 L807.5 721 L809 723.5 L810.5 726 L812 728.6 L813.5 731.1 L815 733.6 L816.5 736.1 L818 738.5 L819.5 741 L821 743.3 L822.5 745.7 L824 747.9 L825.5 750.2 L827 752.3 L828.5 754.4 L830 756.4 L831.5 758.4 L833 760.2 L834.5 762 L836 763.7 L837.5 765.4 L839 766.9 L840.5 768.4 L842 769.9 L843.5 771.2 L845 772.5 L846.5 773.7 L848 774.8 L849.5 775.8 L851 776.8 L852.5 777.8 L854 778.6 L855.5 779.5 L857 780.2 L858.5 780.9 L860 781.6 L861.5 782.2 L863 782.8 L864.5 783.3 L866 783.8 L867.5 784.3 L869 784.7 L870.5 785.1 L872 785.5 L873.5 785.8 L875 786.1 L876.5 786.4 L878 786.7 L879.5 786.9 L881 787.1 L882.5 787.3 L884 787.5 L885.5 787.6 L887 787.8 L888.5 787.9 L890 788 L891.5 788.2 L893 788.3 L894.5 788.4 L896 788.5 L897.5 788.6 L899 788.7 L900.5 788.7 L902 788.8 L903.5 788.8 L905 788.8 L906.5 788.9 L908 788.9 L909.5 788.9 L911 788.9 L912.5 789 L914 789 L915.5 789 L917 789 L918.5 789 L920 789 L921.5 789.1 L923 789.1 L924.5 789.1 L926 789.1 L927.5 789.1 L929 789.1 L930.5 789.1 L932 789.2 L933.5 789.2 L935 789.2 L936.5 789.2 L938 789.2 L939.5 789.2 L941 789.2 L942.5 789.3 L944 789.3 L945.5 789.3 L947 789.3 L948.5 789.3 L950 789.3 L951.5 789.3 L953 789.3 L954.5 789.4 L956 789.4 L957.5 789.4 L959 789.4 L960.5 789.4 L962 789.4 L963.5 789.4 L965 789.4 L966.5 789.4 L968 789.4 L969.5 789.4 L971 789.5 L972.5 789.5 L974 789.5 L975.5 789.5 L977 789.5 L978.5 789.5 L980 789.5 L981.5 789.5 L983 789.5 L984.5 789.5 L986 789.5 L987.5 789.5 L989 789.5 L990.5 789.6 L992 789.6 L993.5 789.6 L995 789.6 L996.5 789.6 L998 789.6 L999.5 789.6 L1001 789.6 L1002.5 789.6 L1004 789.6 L1005.5 789.6 L1007 789.6 L1008.5 789.6 L1010 789.7 L1011.5 789.7 L1013 789.7 L1014.5 789.7 L1016 789.7 L1017.5 789.7 L1019 789.7 L1020.5 789.7 L1022 789.7 L1023.5 789.7 L1025 789.7 L1026.5 789.7 L1028 789.7 L1029.5 789.8 L1031 789.8 L1032.5 789.8 L1034 789.8 L1035.5 789.8 L1037 789.8 L1038.5 789.8 L1038.5 789.8 L1037 789.8 L1035.5 789.8 L1034 789.8 L1032.5 789.8 L1031 789.8 L1029.5 789.8 L1028 789.7 L1026.5 789.7 L1025 789.7 L1023.5 789.7 L1022 789.7 L1020.5 789.7 L1019 789.7 L1017.5 789.7 L1016 789.7 L1014.5 789.7 L1013 789.7 L1011.5 789.7 L1010 789.7 L1008.5 789.6 L1007 789.6 L1005.5 789.6 L1004 789.6 L1002.5 789.6 L1001 789.6 L999.5 789.6 L998 789.6 L996.5 789.6 L995 789.6 L993.5 789.6 L992 789.6 L990.5 789.6 L989 789.5 L987.5 789.5 L986 789.5 L984.5 789.5 L983 789.5 L981.5 789.5 L980 789.5 L978.5 789.5 L977 789.5 L975.5 789.5 L974 789.5 L972.5 789.5 L971 789.5 L969.5 789.4 L968 789.4 L966.5 789.4 L965 789.4 L963.5 789.4 L962 789.4 L960.5 789.4 L959 789.4 L957.5 789.4 L956 789.4 L954.5 789.4 L953 789.3 L951.5 789.3 L950 789.3 L948.5 789.3 L947 789.3 L945.5 789.3 L944 789.3 L942.5 789.3 L941 789.2 L939.5 789.2 L938 789.2 L936.5 789.2 L935 789.2 L933.5 789.2 L932 789.2 L930.5 789.2 L929 789.1 L927.5 789.1 L926 789.1 L924.5 789.1 L923 789.1 L921.5 789.1 L920 789.1 L918.5 789.1 L917 789 L915.5 789 L914 789 L912.5 789 L911 789 L909.5 789 L908 789 L906.5 789 L905 788.9 L903.5 788.9 L902 788.9 L900.5 788.9 L899 788.8 L897.5 788.8 L896 788.7 L894.5 788.7 L893 788.6 L891.5 788.6 L890 788.5 L888.5 788.4 L887 788.4 L885.5 788.3 L884 788.3 L882.5 788.2 L881 788.1 L879.5 788.1 L878 788 L876.5 787.9 L875 787.8 L873.5 787.7 L872 787.6 L870.5 787.5 L869 787.4 L867.5 787.3 L866 787.2 L864.5 787.1 L863 787 L861.5 786.9 L860 786.8 L858.5 786.7 L857 786.7 L855.5 786.6 L854 786.5 L852.5 786.4 L851 786.3 L849.5 786.2 L848 786.1 L846.5 786 L845 785.9 L843.5 785.8 L842 785.7 L840.5 785.6 L839 785.5 L837.5 785.4 L836 785.3 L834.5 785.2 L833 785.1 L831.5 785 L830 784.9 L828.5 784.8 L827 784.7 L825.5 784.6 L824 784.5 L822.5 784.4 L821 784.3 L819.5 784.2 L818 784.1 L816.5 784 L815 783.9 L813.5 783.8 L812 783.7 L810.5 783.6 L809 783.5 L807.5 783.4 L806 783.3 L804.5 783.2 L803 783.1 L801.5 783 L800 782.9 L798.5 782.8 L797 782.7 L795.5 782.6 L794 782.5 L792.5 782.4 L791 782.4 L789.5 782.3 L788 782.2 L786.5 782.1 L785 782 L783.5 782 L782 781.9 L780.5 781.8 L779 781.7 L777.5 781.6 L776 781.6 L774.5 781.5 L773 781.4 L771.5 781.3 L770 781.2 L768.5 781.2 L767 781.1 L765.5 781 L764 780.9 L762.5 780.8 L761 780.8 L759.5 780.7 L758 780.6 L756.5 780.6 L755 780.6 L753.5 780.5 L752 780.5 L750.5 780.4 L749 780.4 L747.5 780.3 L746 780.3 L744.5 780.3 L743 780.2 L741.5 780.2 L740 780.1 L738.5 780.1 L737 780 L735.5 780 L734 780 L732.5 779.9 L731 779.9 L729.5 779.8 L728 779.8 L726.5 779.8 L725 779.7 L723.5 779.7 L722 779.6 L720.5 779.6 L719 779.5 L717.5 779.5 L716 779.5 L714.5 779.4 L713 779.4 L711.5 779.3 L710 779.3 L708.5 779.2 L707 779.2 L705.5 779.2 L704 779.1 L702.5 779.1 L701 779 L699.5 779 L698 779 L696.5 779 L695 779 L693.5 779 L692 778.9 L690.5 778.9 L689 778.9 L687.5 778.9 L686 778.9 L684.5 778.9 L683 778.9 L681.5 778.9 L680 778.9 L678.5 778.8 L677 778.8 L675.5 778.8 L674 778.8 L672.5 778.8 L671 778.8 L669.5 778.8 L668 778.8 L666.5 778.8 L665 778.7 L663.5 778.7 L662 778.7 L660.5 778.7 L659 778.7 L657.5 778.7 L656 778.7 L654.5 778.7 L653 778.7 L651.5 778.6 L650 778.6 L648.5 778.6 L647 778.6 L645.5 778.6 L644 778.6 L642.5 778.6 L641 778.6 L639.5 778.6 L638 778.5 L636.5 778.5 L635 778.5 L633.5 778.5 L632 778.5 L630.5 778.5 L629 778.5 L627.5 778.5 L626 778.5 L624.5 778.5 L623 778.4 L621.5 778.4 L620 778.4 L618.5 778.4 L617 778.4 L615.5 778.4 L614 778.4 L612.5 778.4 L611 778.4 L609.5 778.3 L608 778.3 L606.5 778.3 L605 778.3 L603.5 778.3 L602 778.3 L600.5 778.3 L599 778.3 L597.5 778.3 L596 778.2 L594.5 778.2 L593 778.2 L591.5 778.2 L590 778.2 Z"/></clipPath>
<clipPath id="cdb"><path d="M590 778.2 L591.5 778.2 L593 778.2 L594.5 778.2 L596 778.2 L597.5 778.3 L599 778.3 L600.5 778.3 L602 778.3 L603.5 778.3 L605 778.3 L606.5 778.3 L608 778.3 L609.5 778.3 L611 778.4 L612.5 778.4 L614 778.4 L615.5 778.4 L617 778.4 L618.5 778.4 L620 778.4 L621.5 778.4 L623 778.4 L624.5 778.5 L626 778.5 L627.5 778.5 L629 778.5 L630.5 778.5 L632 778.5 L633.5 778.5 L635 778.5 L636.5 778.5 L638 778.5 L639.5 778.6 L641 778.6 L642.5 778.6 L644 778.6 L645.5 778.6 L647 778.6 L648.5 778.6 L650 778.6 L651.5 778.6 L653 778.7 L654.5 778.7 L656 778.7 L657.5 778.7 L659 778.7 L660.5 778.7 L662 778.7 L663.5 778.7 L665 778.7 L666.5 778.8 L668 778.8 L669.5 778.8 L671 778.8 L672.5 778.8 L674 778.8 L675.5 778.8 L677 778.8 L678.5 778.8 L680 778.9 L681.5 778.9 L683 778.9 L684.5 778.9 L686 778.9 L687.5 778.9 L689 778.9 L690.5 778.9 L692 778.9 L693.5 779 L695 779 L696.5 779 L698 779 L699.5 779 L701 779 L702.5 779.1 L704 779.1 L705.5 779.2 L707 779.2 L708.5 779.2 L710 779.3 L711.5 779.3 L713 779.4 L714.5 779.4 L716 779.4 L717.5 779.5 L719 779.5 L720.5 779.6 L722 779.6 L723.5 779.6 L725 779.7 L726.5 779.7 L728 779.7 L729.5 779.8 L731 779.8 L732.5 779.8 L734 779.8 L735.5 779.8 L737 779.8 L738.5 779.8 L740 779.7 L741.5 779.7 L743 779.6 L744.5 779.5 L746 779.4 L747.5 779.3 L749 779.1 L750.5 778.9 L752 778.6 L753.5 778.3 L755 777.9 L756.5 777.4 L758 776.9 L759.5 776.3 L761 775.6 L762.5 774.8 L764 773.9 L765.5 772.8 L767 771.6 L768.5 770.2 L770 768.7 L771.5 767 L773 765.1 L774.5 762.9 L776 760.6 L777.5 758 L779 755.1 L780.5 752 L782 748.6 L783.5 745 L785 741.1 L786.5 736.9 L788 732.4 L789.5 727.6 L791 722.5 L792.5 717.2 L794 711.6 L795.5 705.8 L797 699.7 L798.5 693.5 L800 687 L801.5 680.4 L803 673.7 L804.5 666.8 L806 659.9 L807.5 653 L809 646 L810.5 639.1 L812 632.2 L813.5 625.5 L815 618.9 L816.5 612.5 L818 606.3 L819.5 600.3 L821 594.7 L822.5 589.3 L824 584.3 L825.5 579.7 L827 575.4 L828.5 571.6 L830 568.1 L831.5 565.1 L833 562.5 L834.5 560.3 L836 558.5 L837.5 557.2 L839 556.2 L840.5 555.6 L842 555.3 L843.5 555.3 L845 555.4 L846.5 555.8 L848 556.4 L849.5 557.4 L851 558.8 L852.5 560.6 L854 562.7 L855.5 565.3 L857 568.2 L858.5 571.6 L860 575.4 L861.5 579.5 L863 584.1 L864.5 589 L866 594.3 L867.5 599.9 L869 605.8 L870.5 611.9 L872 618.3 L873.5 624.9 L875 631.6 L876.5 638.5 L878 645.4 L879.5 652.4 L881 659.5 L882.5 666.5 L884 673.4 L885.5 680.3 L887 687.1 L888.5 693.7 L890 700.2 L891.5 706.5 L893 712.6 L894.5 718.4 L896 724 L897.5 729.4 L899 734.5 L900.5 739.3 L902 743.8 L903.5 748.1 L905 752 L906.5 755.7 L908 759.1 L909.5 762.3 L911 765.2 L912.5 767.9 L914 770.3 L915.5 772.5 L917 774.5 L918.5 776.3 L920 778 L921.5 779.4 L923 780.7 L924.5 781.9 L926 782.9 L927.5 783.8 L929 784.6 L930.5 785.3 L932 785.9 L933.5 786.4 L935 786.8 L936.5 787.2 L938 787.6 L939.5 787.9 L941 788.1 L942.5 788.3 L944 788.5 L945.5 788.6 L947 788.8 L948.5 788.9 L950 789 L951.5 789.1 L953 789.1 L954.5 789.2 L956 789.2 L957.5 789.3 L959 789.3 L960.5 789.3 L962 789.4 L963.5 789.4 L965 789.4 L966.5 789.4 L968 789.4 L969.5 789.4 L971 789.4 L972.5 789.5 L974 789.5 L975.5 789.5 L977 789.5 L978.5 789.5 L980 789.5 L981.5 789.5 L983 789.5 L984.5 789.5 L986 789.5 L987.5 789.5 L989 789.5 L990.5 789.6 L992 789.6 L993.5 789.6 L995 789.6 L996.5 789.6 L998 789.6 L999.5 789.6 L1001 789.6 L1002.5 789.6 L1004 789.6 L1005.5 789.6 L1007 789.6 L1008.5 789.6 L1010 789.7 L1011.5 789.7 L1013 789.7 L1014.5 789.7 L1016 789.7 L1017.5 789.7 L1019 789.7 L1020.5 789.7 L1022 789.7 L1023.5 789.7 L1025 789.7 L1026.5 789.7 L1028 789.7 L1029.5 789.8 L1031 789.8 L1032.5 789.8 L1034 789.8 L1035.5 789.8 L1037 789.8 L1038.5 789.8 L1038.5 789.8 L1037 789.8 L1035.5 789.8 L1034 789.8 L1032.5 789.8 L1031 789.8 L1029.5 789.8 L1028 789.7 L1026.5 789.7 L1025 789.7 L1023.5 789.7 L1022 789.7 L1020.5 789.7 L1019 789.7 L1017.5 789.7 L1016 789.7 L1014.5 789.7 L1013 789.7 L1011.5 789.7 L1010 789.7 L1008.5 789.6 L1007 789.6 L1005.5 789.6 L1004 789.6 L1002.5 789.6 L1001 789.6 L999.5 789.6 L998 789.6 L996.5 789.6 L995 789.6 L993.5 789.6 L992 789.6 L990.5 789.6 L989 789.5 L987.5 789.5 L986 789.5 L984.5 789.5 L983 789.5 L981.5 789.5 L980 789.5 L978.5 789.5 L977 789.5 L975.5 789.5 L974 789.5 L972.5 789.5 L971 789.5 L969.5 789.4 L968 789.4 L966.5 789.4 L965 789.4 L963.5 789.4 L962 789.4 L960.5 789.4 L959 789.4 L957.5 789.4 L956 789.4 L954.5 789.4 L953 789.3 L951.5 789.3 L950 789.3 L948.5 789.3 L947 789.3 L945.5 789.3 L944 789.3 L942.5 789.3 L941 789.2 L939.5 789.2 L938 789.2 L936.5 789.2 L935 789.2 L933.5 789.2 L932 789.2 L930.5 789.2 L929 789.1 L927.5 789.1 L926 789.1 L924.5 789.1 L923 789.1 L921.5 789.1 L920 789.1 L918.5 789.1 L917 789 L915.5 789 L914 789 L912.5 789 L911 789 L909.5 789 L908 789 L906.5 789 L905 788.9 L903.5 788.9 L902 788.9 L900.5 788.9 L899 788.8 L897.5 788.8 L896 788.7 L894.5 788.7 L893 788.6 L891.5 788.6 L890 788.5 L888.5 788.4 L887 788.4 L885.5 788.3 L884 788.3 L882.5 788.2 L881 788.1 L879.5 788.1 L878 788 L876.5 787.9 L875 787.8 L873.5 787.7 L872 787.6 L870.5 787.5 L869 787.4 L867.5 787.3 L866 787.2 L864.5 787.1 L863 787 L861.5 786.9 L860 786.8 L858.5 786.7 L857 786.7 L855.5 786.6 L854 786.5 L852.5 786.4 L851 786.3 L849.5 786.2 L848 786.1 L846.5 786 L845 785.9 L843.5 785.8 L842 785.7 L840.5 785.6 L839 785.5 L837.5 785.4 L836 785.3 L834.5 785.2 L833 785.1 L831.5 785 L830 784.9 L828.5 784.8 L827 784.7 L825.5 784.6 L824 784.5 L822.5 784.4 L821 784.3 L819.5 784.2 L818 784.1 L816.5 784 L815 783.9 L813.5 783.8 L812 783.7 L810.5 783.6 L809 783.5 L807.5 783.4 L806 783.3 L804.5 783.2 L803 783.1 L801.5 783 L800 782.9 L798.5 782.8 L797 782.7 L795.5 782.6 L794 782.5 L792.5 782.4 L791 782.4 L789.5 782.3 L788 782.2 L786.5 782.1 L785 782 L783.5 782 L782 781.9 L780.5 781.8 L779 781.7 L777.5 781.6 L776 781.6 L774.5 781.5 L773 781.4 L771.5 781.3 L770 781.2 L768.5 781.2 L767 781.1 L765.5 781 L764 780.9 L762.5 780.8 L761 780.8 L759.5 780.7 L758 780.6 L756.5 780.6 L755 780.6 L753.5 780.5 L752 780.5 L750.5 780.4 L749 780.4 L747.5 780.3 L746 780.3 L744.5 780.3 L743 780.2 L741.5 780.2 L740 780.1 L738.5 780.1 L737 780 L735.5 780 L734 780 L732.5 779.9 L731 779.9 L729.5 779.8 L728 779.8 L726.5 779.8 L725 779.7 L723.5 779.7 L722 779.6 L720.5 779.6 L719 779.5 L717.5 779.5 L716 779.5 L714.5 779.4 L713 779.4 L711.5 779.3 L710 779.3 L708.5 779.2 L707 779.2 L705.5 779.2 L704 779.1 L702.5 779.1 L701 779 L699.5 779 L698 779 L696.5 779 L695 779 L693.5 779 L692 778.9 L690.5 778.9 L689 778.9 L687.5 778.9 L686 778.9 L684.5 778.9 L683 778.9 L681.5 778.9 L680 778.9 L678.5 778.8 L677 778.8 L675.5 778.8 L674 778.8 L672.5 778.8 L671 778.8 L669.5 778.8 L668 778.8 L666.5 778.8 L665 778.7 L663.5 778.7 L662 778.7 L660.5 778.7 L659 778.7 L657.5 778.7 L656 778.7 L654.5 778.7 L653 778.7 L651.5 778.6 L650 778.6 L648.5 778.6 L647 778.6 L645.5 778.6 L644 778.6 L642.5 778.6 L641 778.6 L639.5 778.6 L638 778.5 L636.5 778.5 L635 778.5 L633.5 778.5 L632 778.5 L630.5 778.5 L629 778.5 L627.5 778.5 L626 778.5 L624.5 778.5 L623 778.4 L621.5 778.4 L620 778.4 L618.5 778.4 L617 778.4 L615.5 778.4 L614 778.4 L612.5 778.4 L611 778.4 L609.5 778.3 L608 778.3 L606.5 778.3 L605 778.3 L603.5 778.3 L602 778.3 L600.5 778.3 L599 778.3 L597.5 778.3 L596 778.2 L594.5 778.2 L593 778.2 L591.5 778.2 L590 778.2 Z"/></clipPath>
<clipPath id="cdc"><path d="M590 778.2 L591.5 778.2 L593 778.2 L594.5 778.2 L596 778.2 L597.5 778.3 L599 778.3 L600.5 778.3 L602 778.3 L603.5 778.3 L605 778.3 L606.5 778.3 L608 778.3 L609.5 778.3 L611 778.4 L612.5 778.4 L614 778.4 L615.5 778.4 L617 778.4 L618.5 778.4 L620 778.4 L621.5 778.4 L623 778.4 L624.5 778.5 L626 778.5 L627.5 778.5 L629 778.5 L630.5 778.5 L632 778.5 L633.5 778.5 L635 778.5 L636.5 778.5 L638 778.5 L639.5 778.6 L641 778.6 L642.5 778.6 L644 778.6 L645.5 778.6 L647 778.6 L648.5 778.6 L650 778.6 L651.5 778.6 L653 778.7 L654.5 778.7 L656 778.7 L657.5 778.7 L659 778.7 L660.5 778.7 L662 778.7 L663.5 778.7 L665 778.7 L666.5 778.8 L668 778.8 L669.5 778.8 L671 778.8 L672.5 778.8 L674 778.8 L675.5 778.8 L677 778.8 L678.5 778.8 L680 778.9 L681.5 778.9 L683 778.9 L684.5 778.9 L686 778.9 L687.5 778.9 L689 778.9 L690.5 778.9 L692 778.9 L693.5 779 L695 779 L696.5 779 L698 779 L699.5 779 L701 779 L702.5 779.1 L704 779.1 L705.5 779.2 L707 779.2 L708.5 779.2 L710 779.3 L711.5 779.3 L713 779.4 L714.5 779.4 L716 779.5 L717.5 779.5 L719 779.5 L720.5 779.6 L722 779.6 L723.5 779.7 L725 779.7 L726.5 779.8 L728 779.8 L729.5 779.8 L731 779.9 L732.5 779.9 L734 780 L735.5 780 L737 780 L738.5 780.1 L740 780.1 L741.5 780.2 L743 780.2 L744.5 780.3 L746 780.3 L747.5 780.3 L749 780.4 L750.5 780.4 L752 780.5 L753.5 780.5 L755 780.6 L756.5 780.6 L758 780.6 L759.5 780.7 L761 780.8 L762.5 780.8 L764 780.9 L765.5 781 L767 781.1 L768.5 781.2 L770 781.2 L771.5 781.3 L773 781.4 L774.5 781.5 L776 781.5 L777.5 781.6 L779 781.7 L780.5 781.8 L782 781.9 L783.5 781.9 L785 782 L786.5 782.1 L788 782.2 L789.5 782.2 L791 782.3 L792.5 782.4 L794 782.4 L795.5 782.5 L797 782.6 L798.5 782.6 L800 782.7 L801.5 782.8 L803 782.8 L804.5 782.9 L806 783 L807.5 783 L809 783.1 L810.5 783.1 L812 783.1 L813.5 783.2 L815 783.2 L816.5 783.2 L818 783.2 L819.5 783.2 L821 783.1 L822.5 783.1 L824 783 L825.5 782.9 L827 782.8 L828.5 782.7 L830 782.6 L831.5 782.4 L833 782.2 L834.5 782 L836 781.7 L837.5 781.4 L839 781.1 L840.5 780.7 L842 780.3 L843.5 779.9 L845 779.4 L846.5 778.9 L848 778.3 L849.5 777.7 L851 777.1 L852.5 776.4 L854 775.6 L855.5 774.8 L857 774 L858.5 773.1 L860 772.2 L861.5 771.2 L863 770.2 L864.5 769.1 L866 768 L867.5 766.9 L869 765.7 L870.5 764.5 L872 763.2 L873.5 761.9 L875 760.7 L876.5 759.3 L878 758 L879.5 756.7 L881 755.3 L882.5 754 L884 752.6 L885.5 751.3 L887 750 L888.5 748.7 L890 747.5 L891.5 746.3 L893 745.2 L894.5 744.2 L896 743.2 L897.5 742.2 L899 741.4 L900.5 740.6 L902 739.9 L903.5 739.2 L905 738.7 L906.5 738.2 L908 737.9 L909.5 737.7 L911 737.5 L912.5 737.5 L914 737.6 L915.5 737.8 L917 738 L918.5 738.4 L920 738.9 L921.5 739.4 L923 740.1 L924.5 740.8 L926 741.6 L927.5 742.5 L929 743.5 L930.5 744.5 L932 745.6 L933.5 746.8 L935 748 L936.5 749.2 L938 750.5 L939.5 751.8 L941 753.2 L942.5 754.5 L944 755.9 L945.5 757.3 L947 758.7 L948.5 760.1 L950 761.5 L951.5 762.8 L953 764.2 L954.5 765.5 L956 766.8 L957.5 768.1 L959 769.3 L960.5 770.5 L962 771.7 L963.5 772.8 L965 773.9 L966.5 775 L968 776 L969.5 776.9 L971 777.9 L972.5 778.7 L974 779.5 L975.5 780.3 L977 781.1 L978.5 781.8 L980 782.4 L981.5 783 L983 783.6 L984.5 784.1 L986 784.6 L987.5 785.1 L989 785.5 L990.5 785.9 L992 786.3 L993.5 786.6 L995 786.9 L996.5 787.2 L998 787.4 L999.5 787.7 L1001 787.9 L1002.5 788.1 L1004 788.3 L1005.5 788.4 L1007 788.6 L1008.5 788.7 L1010 788.8 L1011.5 788.9 L1013 789 L1014.5 789.1 L1016 789.2 L1017.5 789.3 L1019 789.3 L1020.5 789.4 L1022 789.4 L1023.5 789.5 L1025 789.5 L1026.5 789.6 L1028 789.6 L1029.5 789.6 L1031 789.6 L1032.5 789.7 L1034 789.7 L1035.5 789.7 L1037 789.7 L1038.5 789.7 L1038.5 789.8 L1037 789.8 L1035.5 789.8 L1034 789.8 L1032.5 789.8 L1031 789.8 L1029.5 789.8 L1028 789.7 L1026.5 789.7 L1025 789.7 L1023.5 789.7 L1022 789.7 L1020.5 789.7 L1019 789.7 L1017.5 789.7 L1016 789.7 L1014.5 789.7 L1013 789.7 L1011.5 789.7 L1010 789.7 L1008.5 789.6 L1007 789.6 L1005.5 789.6 L1004 789.6 L1002.5 789.6 L1001 789.6 L999.5 789.6 L998 789.6 L996.5 789.6 L995 789.6 L993.5 789.6 L992 789.6 L990.5 789.6 L989 789.5 L987.5 789.5 L986 789.5 L984.5 789.5 L983 789.5 L981.5 789.5 L980 789.5 L978.5 789.5 L977 789.5 L975.5 789.5 L974 789.5 L972.5 789.5 L971 789.5 L969.5 789.4 L968 789.4 L966.5 789.4 L965 789.4 L963.5 789.4 L962 789.4 L960.5 789.4 L959 789.4 L957.5 789.4 L956 789.4 L954.5 789.4 L953 789.3 L951.5 789.3 L950 789.3 L948.5 789.3 L947 789.3 L945.5 789.3 L944 789.3 L942.5 789.3 L941 789.2 L939.5 789.2 L938 789.2 L936.5 789.2 L935 789.2 L933.5 789.2 L932 789.2 L930.5 789.2 L929 789.1 L927.5 789.1 L926 789.1 L924.5 789.1 L923 789.1 L921.5 789.1 L920 789.1 L918.5 789.1 L917 789 L915.5 789 L914 789 L912.5 789 L911 789 L909.5 789 L908 789 L906.5 789 L905 788.9 L903.5 788.9 L902 788.9 L900.5 788.9 L899 788.8 L897.5 788.8 L896 788.7 L894.5 788.7 L893 788.6 L891.5 788.6 L890 788.5 L888.5 788.4 L887 788.4 L885.5 788.3 L884 788.3 L882.5 788.2 L881 788.1 L879.5 788.1 L878 788 L876.5 787.9 L875 787.8 L873.5 787.7 L872 787.6 L870.5 787.5 L869 787.4 L867.5 787.3 L866 787.2 L864.5 787.1 L863 787 L861.5 786.9 L860 786.8 L858.5 786.7 L857 786.7 L855.5 786.6 L854 786.5 L852.5 786.4 L851 786.3 L849.5 786.2 L848 786.1 L846.5 786 L845 785.9 L843.5 785.8 L842 785.7 L840.5 785.6 L839 785.5 L837.5 785.4 L836 785.3 L834.5 785.2 L833 785.1 L831.5 785 L830 784.9 L828.5 784.8 L827 784.7 L825.5 784.6 L824 784.5 L822.5 784.4 L821 784.3 L819.5 784.2 L818 784.1 L816.5 784 L815 783.9 L813.5 783.8 L812 783.7 L810.5 783.6 L809 783.5 L807.5 783.4 L806 783.3 L804.5 783.2 L803 783.1 L801.5 783 L800 782.9 L798.5 782.8 L797 782.7 L795.5 782.6 L794 782.5 L792.5 782.4 L791 782.4 L789.5 782.3 L788 782.2 L786.5 782.1 L785 782 L783.5 782 L782 781.9 L780.5 781.8 L779 781.7 L777.5 781.6 L776 781.6 L774.5 781.5 L773 781.4 L771.5 781.3 L770 781.2 L768.5 781.2 L767 781.1 L765.5 781 L764 780.9 L762.5 780.8 L761 780.8 L759.5 780.7 L758 780.6 L756.5 780.6 L755 780.6 L753.5 780.5 L752 780.5 L750.5 780.4 L749 780.4 L747.5 780.3 L746 780.3 L744.5 780.3 L743 780.2 L741.5 780.2 L740 780.1 L738.5 780.1 L737 780 L735.5 780 L734 780 L732.5 779.9 L731 779.9 L729.5 779.8 L728 779.8 L726.5 779.8 L725 779.7 L723.5 779.7 L722 779.6 L720.5 779.6 L719 779.5 L717.5 779.5 L716 779.5 L714.5 779.4 L713 779.4 L711.5 779.3 L710 779.3 L708.5 779.2 L707 779.2 L705.5 779.2 L704 779.1 L702.5 779.1 L701 779 L699.5 779 L698 779 L696.5 779 L695 779 L693.5 779 L692 778.9 L690.5 778.9 L689 778.9 L687.5 778.9 L686 778.9 L684.5 778.9 L683 778.9 L681.5 778.9 L680 778.9 L678.5 778.8 L677 778.8 L675.5 778.8 L674 778.8 L672.5 778.8 L671 778.8 L669.5 778.8 L668 778.8 L666.5 778.8 L665 778.7 L663.5 778.7 L662 778.7 L660.5 778.7 L659 778.7 L657.5 778.7 L656 778.7 L654.5 778.7 L653 778.7 L651.5 778.6 L650 778.6 L648.5 778.6 L647 778.6 L645.5 778.6 L644 778.6 L642.5 778.6 L641 778.6 L639.5 778.6 L638 778.5 L636.5 778.5 L635 778.5 L633.5 778.5 L632 778.5 L630.5 778.5 L629 778.5 L627.5 778.5 L626 778.5 L624.5 778.5 L623 778.4 L621.5 778.4 L620 778.4 L618.5 778.4 L617 778.4 L615.5 778.4 L614 778.4 L612.5 778.4 L611 778.4 L609.5 778.3 L608 778.3 L606.5 778.3 L605 778.3 L603.5 778.3 L602 778.3 L600.5 778.3 L599 778.3 L597.5 778.3 L596 778.2 L594.5 778.2 L593 778.2 L591.5 778.2 L590 778.2 Z"/></clipPath>
<mask id="mdb" maskUnits="userSpaceOnUse" x="0" y="0" width="1074" height="918"><rect width="1074" height="918" fill="#fff"/><path d="M590 778.2 L591.5 778.2 L593 778.2 L594.5 778.2 L596 778.2 L597.5 778.3 L599 778.3 L600.5 778.3 L602 778.3 L603.5 778.3 L605 778.3 L606.5 778.3 L608 778.3 L609.5 778.3 L611 778.4 L612.5 778.4 L614 778.4 L615.5 778.4 L617 778.4 L618.5 778.4 L620 778.4 L621.5 778.4 L623 778.4 L624.5 778.5 L626 778.5 L627.5 778.5 L629 778.5 L630.5 778.5 L632 778.5 L633.5 778.5 L635 778.5 L636.5 778.5 L638 778.5 L639.5 778.6 L641 778.6 L642.5 778.6 L644 778.6 L645.5 778.6 L647 778.6 L648.5 778.6 L650 778.6 L651.5 778.6 L653 778.7 L654.5 778.7 L656 778.7 L657.5 778.7 L659 778.7 L660.5 778.7 L662 778.7 L663.5 778.7 L665 778.7 L666.5 778.8 L668 778.8 L669.5 778.8 L671 778.8 L672.5 778.8 L674 778.8 L675.5 778.8 L677 778.8 L678.5 778.8 L680 778.9 L681.5 778.9 L683 778.9 L684.5 778.9 L686 778.9 L687.5 778.9 L689 778.9 L690.5 778.9 L692 778.9 L693.5 779 L695 779 L696.5 779 L698 779 L699.5 779 L701 779 L702.5 779.1 L704 779.1 L705.5 779.2 L707 779.2 L708.5 779.2 L710 779.3 L711.5 779.3 L713 779.4 L714.5 779.4 L716 779.4 L717.5 779.5 L719 779.5 L720.5 779.6 L722 779.6 L723.5 779.6 L725 779.7 L726.5 779.7 L728 779.7 L729.5 779.8 L731 779.8 L732.5 779.8 L734 779.8 L735.5 779.8 L737 779.8 L738.5 779.8 L740 779.7 L741.5 779.7 L743 779.6 L744.5 779.5 L746 779.4 L747.5 779.3 L749 779.1 L750.5 778.9 L752 778.6 L753.5 778.3 L755 777.9 L756.5 777.4 L758 776.9 L759.5 776.3 L761 775.6 L762.5 774.8 L764 773.9 L765.5 772.8 L767 771.6 L768.5 770.2 L770 768.7 L771.5 767 L773 765.1 L774.5 762.9 L776 760.6 L777.5 758 L779 755.1 L780.5 752 L782 748.6 L783.5 745 L785 741.1 L786.5 736.9 L788 732.4 L789.5 727.6 L791 722.5 L792.5 717.2 L794 711.6 L795.5 705.8 L797 699.7 L798.5 693.5 L800 687 L801.5 680.4 L803 673.7 L804.5 666.8 L806 659.9 L807.5 653 L809 646 L810.5 639.1 L812 632.2 L813.5 625.5 L815 618.9 L816.5 612.5 L818 606.3 L819.5 600.3 L821 594.7 L822.5 589.3 L824 584.3 L825.5 579.7 L827 575.4 L828.5 571.6 L830 568.1 L831.5 565.1 L833 562.5 L834.5 560.3 L836 558.5 L837.5 557.2 L839 556.2 L840.5 555.6 L842 555.3 L843.5 555.3 L845 555.4 L846.5 555.8 L848 556.4 L849.5 557.4 L851 558.8 L852.5 560.6 L854 562.7 L855.5 565.3 L857 568.2 L858.5 571.6 L860 575.4 L861.5 579.5 L863 584.1 L864.5 589 L866 594.3 L867.5 599.9 L869 605.8 L870.5 611.9 L872 618.3 L873.5 624.9 L875 631.6 L876.5 638.5 L878 645.4 L879.5 652.4 L881 659.5 L882.5 666.5 L884 673.4 L885.5 680.3 L887 687.1 L888.5 693.7 L890 700.2 L891.5 706.5 L893 712.6 L894.5 718.4 L896 724 L897.5 729.4 L899 734.5 L900.5 739.3 L902 743.8 L903.5 748.1 L905 752 L906.5 755.7 L908 759.1 L909.5 762.3 L911 765.2 L912.5 767.9 L914 770.3 L915.5 772.5 L917 774.5 L918.5 776.3 L920 778 L921.5 779.4 L923 780.7 L924.5 781.9 L926 782.9 L927.5 783.8 L929 784.6 L930.5 785.3 L932 785.9 L933.5 786.4 L935 786.8 L936.5 787.2 L938 787.6 L939.5 787.9 L941 788.1 L942.5 788.3 L944 788.5 L945.5 788.6 L947 788.8 L948.5 788.9 L950 789 L951.5 789.1 L953 789.1 L954.5 789.2 L956 789.2 L957.5 789.3 L959 789.3 L960.5 789.3 L962 789.4 L963.5 789.4 L965 789.4 L966.5 789.4 L968 789.4 L969.5 789.4 L971 789.4 L972.5 789.5 L974 789.5 L975.5 789.5 L977 789.5 L978.5 789.5 L980 789.5 L981.5 789.5 L983 789.5 L984.5 789.5 L986 789.5 L987.5 789.5 L989 789.5 L990.5 789.6 L992 789.6 L993.5 789.6 L995 789.6 L996.5 789.6 L998 789.6 L999.5 789.6 L1001 789.6 L1002.5 789.6 L1004 789.6 L1005.5 789.6 L1007 789.6 L1008.5 789.6 L1010 789.7 L1011.5 789.7 L1013 789.7 L1014.5 789.7 L1016 789.7 L1017.5 789.7 L1019 789.7 L1020.5 789.7 L1022 789.7 L1023.5 789.7 L1025 789.7 L1026.5 789.7 L1028 789.7 L1029.5 789.8 L1031 789.8 L1032.5 789.8 L1034 789.8 L1035.5 789.8 L1037 789.8 L1038.5 789.8 L1038.5 789.8 L1037 789.8 L1035.5 789.8 L1034 789.8 L1032.5 789.8 L1031 789.8 L1029.5 789.8 L1028 789.7 L1026.5 789.7 L1025 789.7 L1023.5 789.7 L1022 789.7 L1020.5 789.7 L1019 789.7 L1017.5 789.7 L1016 789.7 L1014.5 789.7 L1013 789.7 L1011.5 789.7 L1010 789.7 L1008.5 789.6 L1007 789.6 L1005.5 789.6 L1004 789.6 L1002.5 789.6 L1001 789.6 L999.5 789.6 L998 789.6 L996.5 789.6 L995 789.6 L993.5 789.6 L992 789.6 L990.5 789.6 L989 789.5 L987.5 789.5 L986 789.5 L984.5 789.5 L983 789.5 L981.5 789.5 L980 789.5 L978.5 789.5 L977 789.5 L975.5 789.5 L974 789.5 L972.5 789.5 L971 789.5 L969.5 789.4 L968 789.4 L966.5 789.4 L965 789.4 L963.5 789.4 L962 789.4 L960.5 789.4 L959 789.4 L957.5 789.4 L956 789.4 L954.5 789.4 L953 789.3 L951.5 789.3 L950 789.3 L948.5 789.3 L947 789.3 L945.5 789.3 L944 789.3 L942.5 789.3 L941 789.2 L939.5 789.2 L938 789.2 L936.5 789.2 L935 789.2 L933.5 789.2 L932 789.2 L930.5 789.2 L929 789.1 L927.5 789.1 L926 789.1 L924.5 789.1 L923 789.1 L921.5 789.1 L920 789.1 L918.5 789.1 L917 789 L915.5 789 L914 789 L912.5 789 L911 789 L909.5 789 L908 789 L906.5 789 L905 788.9 L903.5 788.9 L902 788.9 L900.5 788.9 L899 788.8 L897.5 788.8 L896 788.7 L894.5 788.7 L893 788.6 L891.5 788.6 L890 788.5 L888.5 788.4 L887 788.4 L885.5 788.3 L884 788.3 L882.5 788.2 L881 788.1 L879.5 788.1 L878 788 L876.5 787.9 L875 787.8 L873.5 787.7 L872 787.6 L870.5 787.5 L869 787.4 L867.5 787.3 L866 787.2 L864.5 787.1 L863 787 L861.5 786.9 L860 786.8 L858.5 786.7 L857 786.7 L855.5 786.6 L854 786.5 L852.5 786.4 L851 786.3 L849.5 786.2 L848 786.1 L846.5 786 L845 785.9 L843.5 785.8 L842 785.7 L840.5 785.6 L839 785.5 L837.5 785.4 L836 785.3 L834.5 785.2 L833 785.1 L831.5 785 L830 784.9 L828.5 784.8 L827 784.7 L825.5 784.6 L824 784.5 L822.5 784.4 L821 784.3 L819.5 784.2 L818 784.1 L816.5 784 L815 783.9 L813.5 783.8 L812 783.7 L810.5 783.6 L809 783.5 L807.5 783.4 L806 783.3 L804.5 783.2 L803 783.1 L801.5 783 L800 782.9 L798.5 782.8 L797 782.7 L795.5 782.6 L794 782.5 L792.5 782.4 L791 782.4 L789.5 782.3 L788 782.2 L786.5 782.1 L785 782 L783.5 782 L782 781.9 L780.5 781.8 L779 781.7 L777.5 781.6 L776 781.6 L774.5 781.5 L773 781.4 L771.5 781.3 L770 781.2 L768.5 781.2 L767 781.1 L765.5 781 L764 780.9 L762.5 780.8 L761 780.8 L759.5 780.7 L758 780.6 L756.5 780.6 L755 780.6 L753.5 780.5 L752 780.5 L750.5 780.4 L749 780.4 L747.5 780.3 L746 780.3 L744.5 780.3 L743 780.2 L741.5 780.2 L740 780.1 L738.5 780.1 L737 780 L735.5 780 L734 780 L732.5 779.9 L731 779.9 L729.5 779.8 L728 779.8 L726.5 779.8 L725 779.7 L723.5 779.7 L722 779.6 L720.5 779.6 L719 779.5 L717.5 779.5 L716 779.5 L714.5 779.4 L713 779.4 L711.5 779.3 L710 779.3 L708.5 779.2 L707 779.2 L705.5 779.2 L704 779.1 L702.5 779.1 L701 779 L699.5 779 L698 779 L696.5 779 L695 779 L693.5 779 L692 778.9 L690.5 778.9 L689 778.9 L687.5 778.9 L686 778.9 L684.5 778.9 L683 778.9 L681.5 778.9 L680 778.9 L678.5 778.8 L677 778.8 L675.5 778.8 L674 778.8 L672.5 778.8 L671 778.8 L669.5 778.8 L668 778.8 L666.5 778.8 L665 778.7 L663.5 778.7 L662 778.7 L660.5 778.7 L659 778.7 L657.5 778.7 L656 778.7 L654.5 778.7 L653 778.7 L651.5 778.6 L650 778.6 L648.5 778.6 L647 778.6 L645.5 778.6 L644 778.6 L642.5 778.6 L641 778.6 L639.5 778.6 L638 778.5 L636.5 778.5 L635 778.5 L633.5 778.5 L632 778.5 L630.5 778.5 L629 778.5 L627.5 778.5 L626 778.5 L624.5 778.5 L623 778.4 L621.5 778.4 L620 778.4 L618.5 778.4 L617 778.4 L615.5 778.4 L614 778.4 L612.5 778.4 L611 778.4 L609.5 778.3 L608 778.3 L606.5 778.3 L605 778.3 L603.5 778.3 L602 778.3 L600.5 778.3 L599 778.3 L597.5 778.3 L596 778.2 L594.5 778.2 L593 778.2 L591.5 778.2 L590 778.2 Z" fill="#000"/></mask>
<mask id="mdc" maskUnits="userSpaceOnUse" x="0" y="0" width="1074" height="918"><rect width="1074" height="918" fill="#fff"/><path d="M590 778.2 L591.5 778.2 L593 778.2 L594.5 778.2 L596 778.2 L597.5 778.3 L599 778.3 L600.5 778.3 L602 778.3 L603.5 778.3 L605 778.3 L606.5 778.3 L608 778.3 L609.5 778.3 L611 778.4 L612.5 778.4 L614 778.4 L615.5 778.4 L617 778.4 L618.5 778.4 L620 778.4 L621.5 778.4 L623 778.4 L624.5 778.5 L626 778.5 L627.5 778.5 L629 778.5 L630.5 778.5 L632 778.5 L633.5 778.5 L635 778.5 L636.5 778.5 L638 778.5 L639.5 778.6 L641 778.6 L642.5 778.6 L644 778.6 L645.5 778.6 L647 778.6 L648.5 778.6 L650 778.6 L651.5 778.6 L653 778.7 L654.5 778.7 L656 778.7 L657.5 778.7 L659 778.7 L660.5 778.7 L662 778.7 L663.5 778.7 L665 778.7 L666.5 778.8 L668 778.8 L669.5 778.8 L671 778.8 L672.5 778.8 L674 778.8 L675.5 778.8 L677 778.8 L678.5 778.8 L680 778.9 L681.5 778.9 L683 778.9 L684.5 778.9 L686 778.9 L687.5 778.9 L689 778.9 L690.5 778.9 L692 778.9 L693.5 779 L695 779 L696.5 779 L698 779 L699.5 779 L701 779 L702.5 779.1 L704 779.1 L705.5 779.2 L707 779.2 L708.5 779.2 L710 779.3 L711.5 779.3 L713 779.4 L714.5 779.4 L716 779.5 L717.5 779.5 L719 779.5 L720.5 779.6 L722 779.6 L723.5 779.7 L725 779.7 L726.5 779.8 L728 779.8 L729.5 779.8 L731 779.9 L732.5 779.9 L734 780 L735.5 780 L737 780 L738.5 780.1 L740 780.1 L741.5 780.2 L743 780.2 L744.5 780.3 L746 780.3 L747.5 780.3 L749 780.4 L750.5 780.4 L752 780.5 L753.5 780.5 L755 780.6 L756.5 780.6 L758 780.6 L759.5 780.7 L761 780.8 L762.5 780.8 L764 780.9 L765.5 781 L767 781.1 L768.5 781.2 L770 781.2 L771.5 781.3 L773 781.4 L774.5 781.5 L776 781.5 L777.5 781.6 L779 781.7 L780.5 781.8 L782 781.9 L783.5 781.9 L785 782 L786.5 782.1 L788 782.2 L789.5 782.2 L791 782.3 L792.5 782.4 L794 782.4 L795.5 782.5 L797 782.6 L798.5 782.6 L800 782.7 L801.5 782.8 L803 782.8 L804.5 782.9 L806 783 L807.5 783 L809 783.1 L810.5 783.1 L812 783.1 L813.5 783.2 L815 783.2 L816.5 783.2 L818 783.2 L819.5 783.2 L821 783.1 L822.5 783.1 L824 783 L825.5 782.9 L827 782.8 L828.5 782.7 L830 782.6 L831.5 782.4 L833 782.2 L834.5 782 L836 781.7 L837.5 781.4 L839 781.1 L840.5 780.7 L842 780.3 L843.5 779.9 L845 779.4 L846.5 778.9 L848 778.3 L849.5 777.7 L851 777.1 L852.5 776.4 L854 775.6 L855.5 774.8 L857 774 L858.5 773.1 L860 772.2 L861.5 771.2 L863 770.2 L864.5 769.1 L866 768 L867.5 766.9 L869 765.7 L870.5 764.5 L872 763.2 L873.5 761.9 L875 760.7 L876.5 759.3 L878 758 L879.5 756.7 L881 755.3 L882.5 754 L884 752.6 L885.5 751.3 L887 750 L888.5 748.7 L890 747.5 L891.5 746.3 L893 745.2 L894.5 744.2 L896 743.2 L897.5 742.2 L899 741.4 L900.5 740.6 L902 739.9 L903.5 739.2 L905 738.7 L906.5 738.2 L908 737.9 L909.5 737.7 L911 737.5 L912.5 737.5 L914 737.6 L915.5 737.8 L917 738 L918.5 738.4 L920 738.9 L921.5 739.4 L923 740.1 L924.5 740.8 L926 741.6 L927.5 742.5 L929 743.5 L930.5 744.5 L932 745.6 L933.5 746.8 L935 748 L936.5 749.2 L938 750.5 L939.5 751.8 L941 753.2 L942.5 754.5 L944 755.9 L945.5 757.3 L947 758.7 L948.5 760.1 L950 761.5 L951.5 762.8 L953 764.2 L954.5 765.5 L956 766.8 L957.5 768.1 L959 769.3 L960.5 770.5 L962 771.7 L963.5 772.8 L965 773.9 L966.5 775 L968 776 L969.5 776.9 L971 777.9 L972.5 778.7 L974 779.5 L975.5 780.3 L977 781.1 L978.5 781.8 L980 782.4 L981.5 783 L983 783.6 L984.5 784.1 L986 784.6 L987.5 785.1 L989 785.5 L990.5 785.9 L992 786.3 L993.5 786.6 L995 786.9 L996.5 787.2 L998 787.4 L999.5 787.7 L1001 787.9 L1002.5 788.1 L1004 788.3 L1005.5 788.4 L1007 788.6 L1008.5 788.7 L1010 788.8 L1011.5 788.9 L1013 789 L1014.5 789.1 L1016 789.2 L1017.5 789.3 L1019 789.3 L1020.5 789.4 L1022 789.4 L1023.5 789.5 L1025 789.5 L1026.5 789.6 L1028 789.6 L1029.5 789.6 L1031 789.6 L1032.5 789.7 L1034 789.7 L1035.5 789.7 L1037 789.7 L1038.5 789.7 L1038.5 789.8 L1037 789.8 L1035.5 789.8 L1034 789.8 L1032.5 789.8 L1031 789.8 L1029.5 789.8 L1028 789.7 L1026.5 789.7 L1025 789.7 L1023.5 789.7 L1022 789.7 L1020.5 789.7 L1019 789.7 L1017.5 789.7 L1016 789.7 L1014.5 789.7 L1013 789.7 L1011.5 789.7 L1010 789.7 L1008.5 789.6 L1007 789.6 L1005.5 789.6 L1004 789.6 L1002.5 789.6 L1001 789.6 L999.5 789.6 L998 789.6 L996.5 789.6 L995 789.6 L993.5 789.6 L992 789.6 L990.5 789.6 L989 789.5 L987.5 789.5 L986 789.5 L984.5 789.5 L983 789.5 L981.5 789.5 L980 789.5 L978.5 789.5 L977 789.5 L975.5 789.5 L974 789.5 L972.5 789.5 L971 789.5 L969.5 789.4 L968 789.4 L966.5 789.4 L965 789.4 L963.5 789.4 L962 789.4 L960.5 789.4 L959 789.4 L957.5 789.4 L956 789.4 L954.5 789.4 L953 789.3 L951.5 789.3 L950 789.3 L948.5 789.3 L947 789.3 L945.5 789.3 L944 789.3 L942.5 789.3 L941 789.2 L939.5 789.2 L938 789.2 L936.5 789.2 L935 789.2 L933.5 789.2 L932 789.2 L930.5 789.2 L929 789.1 L927.5 789.1 L926 789.1 L924.5 789.1 L923 789.1 L921.5 789.1 L920 789.1 L918.5 789.1 L917 789 L915.5 789 L914 789 L912.5 789 L911 789 L909.5 789 L908 789 L906.5 789 L905 788.9 L903.5 788.9 L902 788.9 L900.5 788.9 L899 788.8 L897.5 788.8 L896 788.7 L894.5 788.7 L893 788.6 L891.5 788.6 L890 788.5 L888.5 788.4 L887 788.4 L885.5 788.3 L884 788.3 L882.5 788.2 L881 788.1 L879.5 788.1 L878 788 L876.5 787.9 L875 787.8 L873.5 787.7 L872 787.6 L870.5 787.5 L869 787.4 L867.5 787.3 L866 787.2 L864.5 787.1 L863 787 L861.5 786.9 L860 786.8 L858.5 786.7 L857 786.7 L855.5 786.6 L854 786.5 L852.5 786.4 L851 786.3 L849.5 786.2 L848 786.1 L846.5 786 L845 785.9 L843.5 785.8 L842 785.7 L840.5 785.6 L839 785.5 L837.5 785.4 L836 785.3 L834.5 785.2 L833 785.1 L831.5 785 L830 784.9 L828.5 784.8 L827 784.7 L825.5 784.6 L824 784.5 L822.5 784.4 L821 784.3 L819.5 784.2 L818 784.1 L816.5 784 L815 783.9 L813.5 783.8 L812 783.7 L810.5 783.6 L809 783.5 L807.5 783.4 L806 783.3 L804.5 783.2 L803 783.1 L801.5 783 L800 782.9 L798.5 782.8 L797 782.7 L795.5 782.6 L794 782.5 L792.5 782.4 L791 782.4 L789.5 782.3 L788 782.2 L786.5 782.1 L785 782 L783.5 782 L782 781.9 L780.5 781.8 L779 781.7 L777.5 781.6 L776 781.6 L774.5 781.5 L773 781.4 L771.5 781.3 L770 781.2 L768.5 781.2 L767 781.1 L765.5 781 L764 780.9 L762.5 780.8 L761 780.8 L759.5 780.7 L758 780.6 L756.5 780.6 L755 780.6 L753.5 780.5 L752 780.5 L750.5 780.4 L749 780.4 L747.5 780.3 L746 780.3 L744.5 780.3 L743 780.2 L741.5 780.2 L740 780.1 L738.5 780.1 L737 780 L735.5 780 L734 780 L732.5 779.9 L731 779.9 L729.5 779.8 L728 779.8 L726.5 779.8 L725 779.7 L723.5 779.7 L722 779.6 L720.5 779.6 L719 779.5 L717.5 779.5 L716 779.5 L714.5 779.4 L713 779.4 L711.5 779.3 L710 779.3 L708.5 779.2 L707 779.2 L705.5 779.2 L704 779.1 L702.5 779.1 L701 779 L699.5 779 L698 779 L696.5 779 L695 779 L693.5 779 L692 778.9 L690.5 778.9 L689 778.9 L687.5 778.9 L686 778.9 L684.5 778.9 L683 778.9 L681.5 778.9 L680 778.9 L678.5 778.8 L677 778.8 L675.5 778.8 L674 778.8 L672.5 778.8 L671 778.8 L669.5 778.8 L668 778.8 L666.5 778.8 L665 778.7 L663.5 778.7 L662 778.7 L660.5 778.7 L659 778.7 L657.5 778.7 L656 778.7 L654.5 778.7 L653 778.7 L651.5 778.6 L650 778.6 L648.5 778.6 L647 778.6 L645.5 778.6 L644 778.6 L642.5 778.6 L641 778.6 L639.5 778.6 L638 778.5 L636.5 778.5 L635 778.5 L633.5 778.5 L632 778.5 L630.5 778.5 L629 778.5 L627.5 778.5 L626 778.5 L624.5 778.5 L623 778.4 L621.5 778.4 L620 778.4 L618.5 778.4 L617 778.4 L615.5 778.4 L614 778.4 L612.5 778.4 L611 778.4 L609.5 778.3 L608 778.3 L606.5 778.3 L605 778.3 L603.5 778.3 L602 778.3 L600.5 778.3 L599 778.3 L597.5 778.3 L596 778.2 L594.5 778.2 L593 778.2 L591.5 778.2 L590 778.2 Z" fill="#000"/></mask></defs>
<rect width="1074" height="918" fill="#fff"/>
<use href="#pb0" fill="#c8e8c8"/>
<use href="#pb2" fill="#ddd0c8"/>
<use href="#pb1" fill="#e2d9ea"/>
<use href="#pb3" fill="#d9e9d1"/>
<use href="#pb4" fill="#c9c9b1"/>
<use href="#pb5" fill="#e6d8e0"/>
<use href="#pb1" fill="#d0dade" clip-path="url(#cb2)"/>
<use href="#pb3" fill="#d3c8ad" clip-path="url(#cb2)"/>
<use href="#pb3" fill="#c9c9b1" clip-path="url(#cb4)"/>
<use href="#pb5" fill="#bfe0b7" clip-path="url(#cb4)"/>
<use href="#dotb" fill="none" stroke="#808000" stroke-width="3.6" stroke-dasharray="3 4" mask="url(#mball)"/>
<use href="#dotb" fill="none" stroke="#808000" stroke-width="3.2" stroke-dasharray="3 4" opacity="0.45" clip-path="url(#cball)"/>
<use href="#lb0" fill="none" stroke="#b9edcd" stroke-width="4" mask="url(#mb0)"/>
<use href="#lb0" fill="none" stroke="#b9edcd" stroke-width="4" opacity="0.5" clip-path="url(#cl0)"/>
<use href="#lb5" fill="none" stroke="#f8e048" stroke-width="4" mask="url(#mb5)"/>
<use href="#lb5" fill="none" stroke="#f8e048" stroke-width="4" opacity="0.5" clip-path="url(#cl5)"/>
<use href="#lb3" fill="none" stroke="#d6b90a" stroke-width="4" mask="url(#mb3)"/>
<use href="#lb3" fill="none" stroke="#d6b90a" stroke-width="4" opacity="0.5" clip-path="url(#cl3)"/>
<use href="#lb2" fill="none" stroke="#b9b9b9" stroke-width="4" mask="url(#mb2)"/>
<use href="#lb2" fill="none" stroke="#b9b9b9" stroke-width="4" opacity="0.5" clip-path="url(#cl2)"/>
<use href="#lb1" fill="none" stroke="#f6c6dc" stroke-width="4" mask="url(#mb1)"/>
<use href="#lb1" fill="none" stroke="#f6c6dc" stroke-width="4" opacity="0.5" clip-path="url(#cl1)"/>
<use href="#lb4" fill="none" stroke="#7f7f7f" stroke-width="4"/>
<path d="M591 189.3 L592.5 189.4 L594 189.5 L595.5 189.7 L597 189.8 L598.5 190 L600 190.2 L601.5 190.3 L603 190.5 L604.5 190.6 L606 190.8 L607.5 190.9 L609 191 L610.5 191.1 L612 191.2 L613.5 191.3 L615 191.4 L616.5 191.5 L618 191.6 L619.5 191.6 L621 191.7 L622.5 191.8 L624 192 L625.5 192.2 L627 192.4 L628.5 192.6 L630 192.8 L631.5 193 L633 193.2 L634.5 193.4 L636 193.6 L637.5 193.9 L639 194.1 L640.5 194.3 L642 194.5 L643.5 194.8 L645 195 L646.5 195.2 L648 195.5 L649.5 195.7 L651 195.9 L652.5 196.2 L654 196.4 L655.5 196.7 L657 196.9 L658.5 197.1 L660 197.3 L661.5 197.5 L663 197.7 L664.5 197.9 L666 198.1 L667.5 198.3 L669 198.5 L670.5 198.7 L672 198.9 L673.5 199.1 L675 199.3 L676.5 199.5 L678 199.7 L679.5 199.9 L681 200.1 L682.5 200.3 L684 200.5 L685.5 200.7 L687 200.9 L688.5 201.1 L690 201.4 L691.5 201.6 L693 202 L694.5 202.4 L696 202.7 L697.5 203.1 L699 203.4 L700.5 203.8 L702 204.1 L703.5 204.3 L705 204.6 L706.5 204.9 L708 205.1 L709.5 205.4 L711 205.7 L712.5 206 L714 206.3 L715.5 206.7 L717 207.1 L718.5 207.7 L720 208.2 L721.5 208.7 L723 209.2 L724.5 209.8 L726 210.3 L727.5 210.8 L729 211.3 L730.5 211.9 L732 212.5 L733.5 213.2 L735 213.8 L736.5 214.4 L738 215.1 L739.5 215.7 L741 216.5 L742.5 217.3 L744 218.2 L745.5 219 L747 219.9 L748.5 220.8 L750 221.6 L751.5 222.5 L753 223.4 L754.5 224.3 L756 225.2 L757.5 226.1 L759 227 L760.5 227.9 L762 228.8 L763.5 229.7 L765 230.6 L766.5 231.6 L768 232.5 L769.5 233.4 L771 234.3 L772.5 235.2 L774 236 L775.5 236.8 L777 237.5 L778.5 238.3 L780 239 L781.5 239.7 L783 240.5 L784.5 241.1 L786 241.8 L787.5 242.3 L789 242.8 L790.5 243.4 L792 243.9 L793.5 244.4 L795 245 L796.5 245.4 L798 245.8 L799.5 246.2 L801 246.6 L802.5 246.9 L804 247.3 L805.5 247.8 L807 248.2 L808.5 248.6 L810 249.1 L811.5 249.5 L813 250 L814.5 250.4 L816 250.9 L817.5 251.3 L819 251.8 L820.5 252.3 L822 252.8 L823.5 253.3 L825 253.8 L826.5 254.3 L828 254.9 L829.5 255.4 L831 255.9 L832.5 256.4 L834 257 L835.5 257.6 L837 258.2 L838.5 258.8 L840 259.4 L841.5 260 L843 260.6 L844.5 261.2 L846 261.8 L847.5 262.4 L849 263 L850.5 263.7 L852 264.4 L853.5 265 L855 265.7 L856.5 266.4 L858 267.1 L859.5 267.7 L861 268.3 L862.5 268.7 L864 269.2 L865.5 269.6 L867 270.1 L868.5 270.5 L870 271 L871.5 271.4 L873 271.9 L874.5 272.3 L876 272.8 L877.5 273.2 L879 273.6 L880.5 274 L882 274.5 L883.5 274.9 L885 275.3 L886.5 275.7 L888 276.2 L889.5 276.6 L891 277 L892.5 277.4 L894 277.9 L895.5 278.5 L897 279.1 L898.5 279.7 L900 280.3 L901.5 280.9 L903 281.5 L904.5 282.1 L906 282.7 L907.5 283.3 L909 283.9 L910.5 284.6 L912 285.4 L913.5 286.3 L915 287.2 L916.5 288.1 L918 289 L919.5 289.9 L921 290.8 L922.5 291.7 L924 292.6 L925.5 293.5 L927 294.6 L928.5 295.8 L930 297.3 L931.5 298.7 L933 300.1 L934.5 301.6 L936 303 L937.5 304.5 L939 305.9 L940.5 307.3 L942 308.8 L943.5 310.3 L945 311.8 L946.5 313.5 L948 315.1 L949.5 316.8 L951 318.5 L952.5 320.1 L954 321.8 L955.5 323.4 L957 325.1 L958.5 326.7 L960 328.4 L961.5 330 L963 331.7 L964.5 333.4 L966 335 L967.5 336.7 L969 338.3 L970.5 339.7 L972 340.8 L973.5 341.6 L975 342.4 L976.5 343.1 L978 343.9 L979.5 344.6 L981 345.4 L982.5 346.1 L984 346.7 L985.5 347.2 L987 347.6 L988.5 347.8 L990 348.1 L991.5 348.4 L993 348.7 L994.5 348.9 L996 349.2 L997.5 349.4 L999 349.6 L1000.5 349.7 L1002 349.8 L1003.5 349.8 L1005 349.9 L1006.5 349.9 L1008 350 L1009.5 350.1 L1011 350.1 L1012.5 350.2 L1014 350.3 L1015.5 350.3 L1017 350.4 L1018.5 350.4 L1020 350.5 L1021.5 350.5 L1023 350.5 L1024.5 350.5 L1026 350.5 L1027.5 350.5 L1029 350.5 L1030.5 350.5 L1032 350.5 L1033.5 350.5 L1035 350.5 L1036.5 350.5 L1038 350.5 L1039.5 350.5 L1041 350.5 L1042.5 350.5 L1044 350.5" fill="none" stroke="#e8a4c4" stroke-width="4"/>
<rect x="588.5" y="10.5" width="459" height="369" fill="none" stroke="#000" stroke-width="5"/>
<rect x="1045" y="379" width="5" height="7" fill="#000"/>
<text x="1046.9" y="410" font-family="&quot;Liberation Serif&quot;, serif" font-size="24.4" text-anchor="middle" >705</text>
<rect x="975.4" y="379" width="5" height="7" fill="#000"/>
<text x="977.2" y="410" font-family="&quot;Liberation Serif&quot;, serif" font-size="24.4" text-anchor="middle" >710</text>
<rect x="905.7" y="379" width="5" height="7" fill="#000"/>
<text x="907.6" y="410" font-family="&quot;Liberation Serif&quot;, serif" font-size="24.4" text-anchor="middle" >715</text>
<rect x="836" y="379" width="5" height="7" fill="#000"/>
<text x="837.9" y="410" font-family="&quot;Liberation Serif&quot;, serif" font-size="24.4" text-anchor="middle" >720</text>
<rect x="766.4" y="379" width="5" height="7" fill="#000"/>
<text x="768.3" y="410" font-family="&quot;Liberation Serif&quot;, serif" font-size="24.4" text-anchor="middle" >725</text>
<rect x="696.8" y="379" width="5" height="7" fill="#000"/>
<text x="698.6" y="410" font-family="&quot;Liberation Serif&quot;, serif" font-size="24.4" text-anchor="middle" >730</text>
<rect x="627.1" y="379" width="5" height="7" fill="#000"/>
<text x="629" y="410" font-family="&quot;Liberation Serif&quot;, serif" font-size="24.4" text-anchor="middle" >735</text>
<rect x="1010.7" y="379" width="4" height="4.2" fill="#000"/>
<rect x="941" y="379" width="4" height="4.2" fill="#000"/>
<rect x="871.4" y="379" width="4" height="4.2" fill="#000"/>
<rect x="801.7" y="379" width="4" height="4.2" fill="#000"/>
<rect x="732.1" y="379" width="4" height="4.2" fill="#000"/>
<rect x="662.4" y="379" width="4" height="4.2" fill="#000"/>
<rect x="592.8" y="379" width="4" height="4.2" fill="#000"/>
<text id="L_733" x="590.7" y="149.7" font-family="&quot;Liberation Serif&quot;, serif" font-size="21.8" font-weight="bold" textLength="100.8" lengthAdjust="spacingAndGlyphs">733.28 eV</text>
<text id="L_726" x="651.2" y="120.8" font-family="&quot;Liberation Serif&quot;, serif" font-size="21.8" font-weight="bold" textLength="95.5" lengthAdjust="spacingAndGlyphs">726.98 eV</text>
<text id="L_724" x="774.2" y="127" font-family="&quot;Liberation Serif&quot;, serif" font-size="21.8" font-weight="bold" textLength="94.4" lengthAdjust="spacingAndGlyphs">724.71 eV</text>
<text id="L_719" x="797.3" y="178.8" font-family="&quot;Liberation Serif&quot;, serif" font-size="21.8" font-weight="bold" textLength="101.2" lengthAdjust="spacingAndGlyphs">719.99 eV</text>
<text id="L_714" x="858.7" y="151.1" font-family="&quot;Liberation Serif&quot;, serif" font-size="21.8" font-weight="bold" textLength="95.5" lengthAdjust="spacingAndGlyphs">714.29 eV</text>
<text id="L_711" x="938.7" y="112.3" font-family="&quot;Liberation Serif&quot;, serif" font-size="21.8" font-weight="bold" textLength="94.7" lengthAdjust="spacingAndGlyphs">711.58 eV</text>
<text id="L_Fe2p" x="977.7" y="41.4" font-family="&quot;Liberation Serif&quot;, serif" font-size="23" font-weight="bold" textLength="56.6" lengthAdjust="spacingAndGlyphs">Fe 2p</text>
<line x1="735" y1="158.9" x2="713" y2="132.2" stroke="#000" stroke-width="1.1"/>
<path d="M708.9 127.2 L716.6 131.9 L712 135.7 Z" fill="#000"/>
<line x1="915.4" y1="186.3" x2="906.5" y2="159.8" stroke="#000" stroke-width="1.1"/>
<path d="M904.4 153.6 L910 160.7 L904.3 162.6 Z" fill="#000"/>
<path d="M73 760.9 L74 760.9 L75 760.9 L76 760.9 L77 760.9 L78 760.9 L79 760.8 L80 760.8 L81 760.8 L82 760.7 L83 760.6 L84 760.5 L85 760.3 L86 760.1 L87 759.9 L88 759.5 L89 759.1 L90 758.7 L91 758.1 L92 757.5 L93 756.7 L94 755.9 L95 754.9 L96 753.7 L97 752.4 L98 750.9 L99 749.1 L100 747.2 L101 745.1 L102 742.7 L103 740.2 L104 737.4 L105 734.4 L106 731.1 L107 727.6 L108 723.8 L109 719.8 L110 715.5 L111 711.1 L112 706.5 L113 701.8 L114 697 L115 692.1 L116 687.3 L117 682.5 L118 677.9 L119 673.5 L120 669.4 L121 665.6 L122 662.2 L123 659.2 L124 656.7 L125 654.6 L126 653.1 L127 652.1 L128 651.7 L129 651.8 L130 652.5 L131 653.5 L132 655.1 L133 657 L134 659.5 L135 662.3 L136 665.5 L137 669.1 L138 672.9 L139 677 L140 680 L141 682.6 L142 685.3 L143 688.1 L144 690.8 L145 694.1 L146 697.4 L147 700.7 L148 703.9 L149 706.9 L150 710 L151 713 L152 716.1 L153 719.1 L154 721.1 L155 722.7 L156 724.3 L157 725.9 L158 727.5 L159 729.1 L160 730.7 L161 732.3 L162 733.8 L163 735.2 L164 736.2 L165 737.2 L166 738.2 L167 739.2 L168 740.2 L169 741.3 L170 742.3 L171 743.3 L172 744.3 L173 745.3 L174 746.2 L175 747 L176 747.7 L177 748.5 L178 749.2 L179 749.9 L180 750.7 L181 751.4 L182 752.2 L183 752.9 L184 753.7 L185 754.4 L186 755.1 L187 755.9 L188 756.6 L189 757.2 L190 757.5 L191 757.8 L192 758.1 L193 758.4 L194 758.8 L195 759.1 L196 759.4 L197 759.7 L198 760.1 L199 760.4 L200 760.7 L201 760.9 L202 761.2 L203 761.4 L204 761.7 L205 761.9 L206 762.2 L207 762.4 L208 762.7 L209 762.9 L210 763.2 L211 763.4 L212 763.7 L213 763.9 L214 764.2 L215 764.4 L216 764.7 L217 764.9 L218 765.2 L219 765.2 L220 765.1 L221 765.1 L222 765.1 L223 765 L224 765 L225 764.9 L226 764.9 L227 764.9 L228 764.8 L229 764.8 L230 765 L231 765.1 L232 765.2 L233 765.3 L234 765.4 L235 765.6 L236 765.7 L237 765.8 L238 765.9 L239 766 L240 766.2 L241 766.3 L242 766.4 L243 766.5 L244 766.6 L245 766.7 L246 766.9 L247 767 L248 767.1 L249 767.2 L250 767.3 L251 767.5 L252 767.6 L253 767.7 L254 767.8 L255 767.9 L256 768 L257 768.2 L258 768.3 L259 768.5 L260 768.6 L261 768.8 L262 768.9 L263 769.1 L264 769.2 L265 769.4 L266 769.5 L267 769.6 L268 769.8 L269 769.9 L270 770.1 L271 770.2 L272 770.4 L273 770.5 L274 770.7 L275 770.8 L276 771 L277 771.1 L278 771.3 L279 771.4 L280 771.6 L281 771.7 L282 771.9 L283 772 L284 772.2 L285 772.3 L286 772.4 L287 772.5 L288 772.6 L289 772.7 L290 772.8 L291 772.9 L292 773 L293 773.1 L294 773.2 L295 773.3 L296 773.4 L297 773.5 L298 773.6 L299 773.7 L300 773.8 L301 773.9 L302 774 L303 774.1 L304 774.2 L305 774.3 L306 774.4 L307 774.5 L308 774.6 L309 774.7 L310 774.8 L311 774.9 L312 775 L313 775.1 L314 775.2 L315 775.3 L316 775.4 L317 775.5 L318 775.6 L319 775.7 L320 775.8 L321 775.9 L322 776 L323 776 L324 776.1 L325 776.2 L326 776.3 L327 776.4 L328 776.5 L329 776.5 L330 776.6 L331 776.7 L332 776.8 L333 776.9 L334 776.9 L335 777 L336 777.1 L337 777.2 L338 777.3 L339 777.4 L340 777.4 L341 777.5 L342 777.6 L343 777.7 L344 777.8 L345 777.8 L346 777.9 L347 778 L348 778.1 L349 778.2 L350 778.3 L351 778.3 L352 778.4 L353 778.5 L354 778.5 L355 778.5 L356 778.4 L357 778.4 L358 778.4 L359 778.4 L360 778.4 L361 778.4 L362 778.4 L363 778.4 L364 778.4 L365 778.4 L366 778.3 L367 778.3 L368 778.3 L369 778.3 L370 778.3 L371 778.3 L372 778.3 L373 778.3 L374 778.3 L375 778.2 L376 778.2 L377 778.2 L378 778.2 L379 778.2 L380 778.2 L381 778.2 L382 778.2 L383 778.2 L384 778.1 L385 778.1 L386 778.1 L387 778.1 L388 778.1 L389 778 L390 778 L391 777.9 L392 777.9 L393 777.8 L394 777.7 L395 777.6 L396 777.5 L397 777.4 L398 777.2 L399 777 L400 776.7 L401 776.5 L402 776.1 L403 775.8 L404 775.3 L405 774.7 L406 773.9 L407 773.1 L408 772 L409 770.8 L410 769.3 L411 767.5 L412 765.5 L413 763.2 L414 760.5 L415 757.4 L416 753.9 L417 749.9 L418 745.5 L419 740.5 L420 735 L421 729 L422 722.4 L423 715.2 L424 707.5 L425 699.2 L426 690.4 L427 681 L428 671.3 L429 661.2 L430 650.8 L431 640.3 L432 629.6 L433 619 L434 608.5 L435 598.4 L436 588.7 L437 579.6 L438 571.3 L439 563.9 L440 557.6 L441 552.5 L442 548.9 L443 547 L444 547 L445 549 L446 552.5 L447 557.3 L448 563.2 L449 570.1 L450 578 L451 586.5 L452 595.7 L453 605.3 L454 615.3 L455 625.5 L456 635.8 L457 646.1 L458 653.3 L459 660 L460 666.7 L461 673.3 L462 680 L463 685.2 L464 690.4 L465 695.3 L466 699.8 L467 704.3 L468 708.8 L469 711.7 L470 714.2 L471 716.7 L472 719.7 L473 723.7 L474 727.6 L475 731.6 L476 734 L477 736 L478 738 L479 740 L480 742 L481 743.9 L482 745.9 L483 747.6 L484 749.2 L485 750.9 L486 752.5 L487 754.5 L488 757 L489 759.5 L490 762 L491 763.5 L492 765 L493 766.5 L494 768.1 L495 769.7 L496 771.2 L497 772.8 L498 774.3 L499 775.2 L500 776 L501 776.9 L502 777.8 L503 778.6 L504 779.5 L505 780.2 L506 780.9 L507 781.6 L508 782.3 L509 783 L510 783.7 L511 784.3 L512 784.8 L513 785.4 L514 785.9 L515 786.5 L516 787 L516 789.3 L515 789.3 L514 789.3 L513 789.2 L512 789.2 L511 789.2 L510 789.2 L509 789.1 L508 789.1 L507 789.1 L506 789.1 L505 789 L504 789 L503 789 L502 788.9 L501 788.9 L500 788.8 L499 788.8 L498 788.7 L497 788.6 L496 788.6 L495 788.4 L494 788.3 L493 788.1 L492 787.9 L491 787.6 L490 787.3 L489 786.9 L488 786.4 L487 785.9 L486 785.3 L485 784.6 L484 783.8 L483 782.9 L482 781.8 L481 780.6 L480 779.2 L479 777.6 L478 775.7 L477 773.6 L476 771.2 L475 768.5 L474 765.5 L473 762.1 L472 758.3 L471 754.1 L470 749.4 L469 744.3 L468 738.6 L467 732.5 L466 725.9 L465 718.8 L464 711.2 L463 703 L462 694.5 L461 685.5 L460 676.1 L459 666.3 L458 656.3 L457 646.1 L456 635.8 L455 625.5 L454 615.3 L453 605.3 L452 595.7 L451 586.5 L450 578 L449 570.1 L448 563.2 L447 557.3 L446 552.5 L445 549 L444 547 L443 547 L442 548.9 L441 552.5 L440 557.6 L439 563.9 L438 571.3 L437 579.6 L436 588.7 L435 598.4 L434 608.5 L433 619 L432 629.6 L431 640.3 L430 650.8 L429 661.2 L428 671.3 L427 681 L426 690.4 L425 699.2 L424 707.5 L423 715.2 L422 722.4 L421 729 L420 735 L419 740.5 L418 745.5 L417 749.9 L416 753.9 L415 757.4 L414 760.5 L413 763.2 L412 765.5 L411 767.5 L410 769.3 L409 770.8 L408 772 L407 773.1 L406 773.9 L405 774.7 L404 775.3 L403 775.8 L402 776.1 L401 776.5 L400 776.7 L399 777 L398 777.2 L397 777.4 L396 777.5 L395 777.6 L394 777.7 L393 777.8 L392 777.9 L391 777.9 L390 778 L389 778 L388 778.1 L387 778.1 L386 778.1 L385 778.1 L384 778.1 L383 778.2 L382 778.2 L381 778.2 L380 778.2 L379 778.2 L378 778.2 L377 778.2 L376 778.2 L375 778.2 L374 778.3 L373 778.3 L372 778.3 L371 778.3 L370 778.3 L369 778.3 L368 778.3 L367 778.3 L366 778.3 L365 778.4 L364 778.4 L363 778.4 L362 778.4 L361 778.4 L360 778.4 L359 778.4 L358 778.4 L357 778.4 L356 778.4 L355 778.5 L354 778.5 L353 778.5 L352 778.5 L351 778.5 L350 778.5 L349 778.5 L348 778.5 L347 778.5 L346 778.5 L345 778.5 L344 778.5 L343 778.5 L342 778.5 L341 778.5 L340 778.5 L339 778.5 L338 778.5 L337 778.4 L336 778.4 L335 778.4 L334 778.4 L333 778.4 L332 778.4 L331 778.4 L330 778.4 L329 778.4 L328 778.4 L327 778.4 L326 778.4 L325 778.4 L324 778.4 L323 778.4 L322 778.4 L321 778.4 L320 778.4 L319 778.4 L318 778.4 L317 778.4 L316 778.4 L315 778.4 L314 778.4 L313 778.4 L312 778.3 L311 778.3 L310 778.3 L309 778.3 L308 778.3 L307 778.3 L306 778.3 L305 778.3 L304 778.3 L303 778.3 L302 778.3 L301 778.3 L300 778.3 L299 778.3 L298 778.3 L297 778.3 L296 778.3 L295 778.2 L294 778.2 L293 778.2 L292 778.2 L291 778.2 L290 778.2 L289 778.2 L288 778.2 L287 778.2 L286 778.2 L285 778.2 L284 778.1 L283 778.1 L282 778.1 L281 778.1 L280 778.1 L279 778.1 L278 778.1 L277 778.1 L276 778.1 L275 778.1 L274 778 L273 778 L272 778 L271 778 L270 778 L269 778 L268 778 L267 778 L266 778 L265 778 L264 777.9 L263 777.9 L262 777.9 L261 777.9 L260 777.9 L259 777.9 L258 777.9 L257 777.9 L256 777.9 L255 777.9 L254 777.8 L253 777.8 L252 777.8 L251 777.8 L250 777.8 L249 777.8 L248 777.8 L247 777.7 L246 777.7 L245 777.7 L244 777.7 L243 777.7 L242 777.6 L241 777.6 L240 777.6 L239 777.6 L238 777.6 L237 777.5 L236 777.5 L235 777.5 L234 777.5 L233 777.5 L232 777.4 L231 777.4 L230 777.4 L229 777.4 L228 777.4 L227 777.3 L226 777.3 L225 777.3 L224 777.3 L223 777.3 L222 777.2 L221 777.2 L220 777.2 L219 777.2 L218 777.2 L217 777.1 L216 777.1 L215 777.1 L214 777.1 L213 777.1 L212 777 L211 777 L210 777 L209 777 L208 777 L207 776.9 L206 776.9 L205 776.9 L204 776.9 L203 776.9 L202 776.8 L201 776.8 L200 776.8 L199 776.7 L198 776.7 L197 776.6 L196 776.5 L195 776.5 L194 776.4 L193 776.3 L192 776.3 L191 776.2 L190 776.1 L189 776 L188 776 L187 775.9 L186 775.8 L185 775.7 L184 775.6 L183 775.5 L182 775.5 L181 775.3 L180 775.2 L179 775.1 L178 774.9 L177 774.8 L176 774.6 L175 774.3 L174 774 L173 773.7 L172 773.3 L171 772.8 L170 772.2 L169 771.6 L168 770.7 L167 769.8 L166 768.8 L165 767.7 L164 766.4 L163 764.9 L162 763.3 L161 761.5 L160 759.5 L159 757.4 L158 755 L157 752.4 L156 749.6 L155 746.5 L154 743.3 L153 739.7 L152 736 L151 732 L150 727.9 L149 723.5 L148 719 L147 714.4 L146 709.7 L145 704.9 L144 700.1 L143 695.3 L142 690.5 L141 685.9 L140 681.3 L139 677 L138 672.9 L137 669.1 L136 665.5 L135 662.3 L134 659.5 L133 657 L132 655.1 L131 653.5 L130 652.5 L129 651.8 L128 651.7 L127 652.1 L126 653.1 L125 654.6 L124 656.7 L123 659.2 L122 662.2 L121 665.6 L120 669.4 L119 673.5 L118 677.9 L117 682.5 L116 687.3 L115 692.1 L114 697 L113 701.8 L112 706.5 L111 711.1 L110 715.5 L109 719.8 L108 723.8 L107 727.6 L106 731.1 L105 734.4 L104 737.4 L103 740.2 L102 742.7 L101 745.1 L100 747.2 L99 749.1 L98 750.9 L97 752.4 L96 753.7 L95 754.9 L94 755.9 L93 756.7 L92 757.5 L91 758.1 L90 758.7 L89 759.1 L88 759.5 L87 759.9 L86 760.1 L85 760.3 L84 760.5 L83 760.6 L82 760.7 L81 760.8 L80 760.8 L79 760.8 L78 760.9 L77 760.9 L76 760.9 L75 760.9 L74 760.9 L73 760.9 Z" fill="#f2fae3"/>
<path d="M81 760.8 L82 760.7 L83 760.6 L84 760.5 L85 760.3 L86 760.1 L87 759.9 L88 759.5 L89 759.1 L90 758.7 L91 758.1 L92 757.5 L93 756.7 L94 755.9 L95 754.9 L96 753.7 L97 752.4 L98 750.9 L99 749.1 L100 747.2 L101 745.1 L102 742.7 L103 740.2 L104 737.4 L105 734.4 L106 731.1 L107 727.6 L108 723.8 L109 719.8 L110 715.5 L111 711.1 L112 706.5 L113 701.8 L114 697 L115 692.1 L116 687.3 L117 682.5 L118 677.9 L119 673.5 L120 669.4 L121 665.6 L122 662.2 L123 659.2 L124 656.7 L125 654.6 L126 653.1 L127 652.1 L128 651.7 L129 651.8 L130 652.5 L131 653.5 L132 655.1 L133 657 L134 659.5 L135 662.3 L136 665.5 L137 669.1 L138 672.9 L139 677 L140 681.3 L141 685.9 L142 690.5 L143 695.3 L144 700.1 L145 704.9 L146 709.7 L147 714.4 L148 719 L149 723.5 L150 727.9 L151 732 L152 736 L153 739.7 L154 743.3 L155 746.5 L156 749.6 L157 752.4 L158 755 L159 757.4 L160 759.5 L161 761.5 L162 763.3 L163 764.9 L164 766.4 L165 767.7 L166 768.8 L167 769.8 L168 770.7 L169 771.6 L170 772.2 L171 772.8 L172 773.3 L173 773.7 L174 774 L175 774.3 L176 774.6 L177 774.8 L178 774.9 L179 775.1 L180 775.2 L181 775.3 L182 775.5 L183 775.5 L184 775.6 L184 775.8 L183 775.7 L182 775.7 L181 775.6 L180 775.6 L179 775.5 L178 775.5 L177 775.5 L176 775.4 L175 775.4 L174 775.3 L173 775.3 L172 775.2 L171 775.1 L170 775 L169 774.9 L168 774.7 L167 774.6 L166 774.4 L165 774.2 L164 774.1 L163 773.9 L162 773.7 L161 773.5 L160 773.4 L159 773.2 L158 773 L157 772.9 L156 772.7 L155 772.5 L154 772.3 L153 772.1 L152 771.9 L151 771.7 L150 771.5 L149 771.2 L148 771 L147 770.8 L146 770.5 L145 770.3 L144 770.1 L143 769.8 L142 769.6 L141 769.4 L140 769.1 L139 768.9 L138 768.6 L137 768.4 L136 768.1 L135 767.8 L134 767.6 L133 767.3 L132 767 L131 766.7 L130 766.4 L129 766.1 L128 765.8 L127 765.5 L126 765.2 L125 764.9 L124 764.6 L123 764.3 L122 764 L121 763.7 L120 763.4 L119 763.2 L118 763 L117 762.8 L116 762.6 L115 762.5 L114 762.3 L113 762.1 L112 762 L111 761.8 L110 761.6 L109 761.5 L108 761.3 L107 761.1 L106 760.9 L105 760.8 L104 760.6 L103 760.5 L102 760.4 L101 760.4 L100 760.4 L99 760.4 L98 760.5 L97 760.5 L96 760.6 L95 760.6 L94 760.7 L93 760.7 L92 760.8 L91 760.8 L90 760.9 L89 760.9 L88 761 L87 761 L86 761 L85 761.1 L84 761.1 L83 761.1 L82 761 L81 761 Z" fill="url(#gblue)"/>
<path d="M391 777.9 L392 777.9 L393 777.8 L394 777.7 L395 777.6 L396 777.5 L397 777.4 L398 777.2 L399 777 L400 776.7 L401 776.5 L402 776.1 L403 775.8 L404 775.3 L405 774.7 L406 773.9 L407 773.1 L408 772 L409 770.8 L410 769.3 L411 767.5 L412 765.5 L413 763.2 L414 760.5 L415 757.4 L416 753.9 L417 749.9 L418 745.5 L419 740.5 L420 735 L421 729 L422 722.4 L423 715.2 L424 707.5 L425 699.2 L426 690.4 L427 681 L428 671.3 L429 661.2 L430 650.8 L431 640.3 L432 629.6 L433 619 L434 608.5 L435 598.4 L436 588.7 L437 579.6 L438 571.3 L439 563.9 L440 557.6 L441 552.5 L442 548.9 L443 547 L444 547 L445 549 L446 552.5 L447 557.3 L448 563.2 L449 570.1 L450 578 L451 586.5 L452 595.7 L453 605.3 L454 615.3 L455 625.5 L456 635.8 L457 646.1 L458 656.3 L459 666.3 L460 676.1 L461 685.5 L462 694.5 L463 703 L464 711.2 L465 718.8 L466 725.9 L467 732.5 L468 738.6 L469 744.3 L470 749.4 L471 754.1 L472 758.3 L473 762.1 L474 765.5 L475 768.5 L476 771.2 L477 773.6 L478 775.7 L479 777.6 L480 779.2 L481 780.6 L482 781.8 L483 782.9 L484 783.8 L485 784.6 L486 785.3 L487 785.9 L488 786.4 L489 786.9 L490 787.3 L491 787.6 L492 787.9 L493 788.1 L494 788.3 L495 788.4 L496 788.6 L497 788.6 L498 788.7 L499 788.8 L500 788.8 L501 788.9 L502 788.9 L503 789 L504 789 L504 789 L503 789 L502 789 L501 789 L500 789 L499 788.9 L498 788.9 L497 788.9 L496 788.9 L495 788.9 L494 788.8 L493 788.8 L492 788.7 L491 788.6 L490 788.5 L489 788.4 L488 788.3 L487 788.2 L486 788 L485 787.9 L484 787.8 L483 787.7 L482 787.6 L481 787.4 L480 787.3 L479 787.2 L478 787 L477 786.9 L476 786.8 L475 786.6 L474 786.5 L473 786.4 L472 786.2 L471 786.1 L470 786 L469 785.8 L468 785.7 L467 785.6 L466 785.4 L465 785.3 L464 785.2 L463 785 L462 784.9 L461 784.8 L460 784.6 L459 784.5 L458 784.4 L457 784.2 L456 784.1 L455 784 L454 783.8 L453 783.7 L452 783.6 L451 783.4 L450 783.3 L449 783.2 L448 783 L447 782.9 L446 782.8 L445 782.6 L444 782.5 L443 782.4 L442 782.2 L441 782.1 L440 782 L439 781.8 L438 781.7 L437 781.6 L436 781.4 L435 781.3 L434 781.1 L433 781 L432 780.9 L431 780.8 L430 780.6 L429 780.5 L428 780.4 L427 780.3 L426 780.3 L425 780.2 L424 780.1 L423 780 L422 779.9 L421 779.8 L420 779.7 L419 779.6 L418 779.6 L417 779.5 L416 779.4 L415 779.3 L414 779.2 L413 779.1 L412 779 L411 778.9 L410 778.9 L409 778.8 L408 778.7 L407 778.6 L406 778.5 L405 778.4 L404 778.3 L403 778.2 L402 778.2 L401 778.1 L400 778.1 L399 778 L398 778 L397 778 L396 778 L395 778.1 L394 778.1 L393 778.1 L392 778.1 L391 778.1 Z" fill="url(#gpink)"/>
<path d="M73 762.4 L74 762.4 L75 762.4 L76 762.5 L77 762.5 L78 762.5 L79 762.5 L80 762.5 L81 762.5 L82 762.5 L83 762.6 L84 762.6 L85 762.6 L86 762.5 L87 762.5 L88 762.5 L89 762.4 L90 762.4 L91 762.3 L92 762.3 L93 762.2 L94 762.2 L95 762.1 L96 762.1 L97 762 L98 762 L99 761.9 L100 761.9 L101 761.9 L102 761.9 L103 762 L104 762.1 L105 762.3 L106 762.4 L107 762.6 L108 762.8 L109 763 L110 763.1 L111 763.3 L112 763.5 L113 763.6 L114 763.8 L115 764 L116 764.1 L117 764.3 L118 764.5 L119 764.7 L120 764.9 L121 765.2 L122 765.5 L123 765.8 L124 766.1 L125 766.4 L126 766.7 L127 767 L128 767.3 L129 767.6 L130 767.9 L131 768.2 L132 768.5 L133 768.8 L134 769.1 L135 769.3 L136 769.6 L137 769.9 L138 770.1 L139 770.4 L140 770.6 L141 770.9 L142 771.1 L143 771.3 L144 771.6 L145 771.8 L146 772 L147 772.3 L148 772.5 L149 772.7 L150 773 L151 773.2 L152 773.4 L153 773.6 L154 773.8 L155 774 L156 774.2 L157 774.4 L158 774.5 L159 774.7 L160 774.9 L161 775 L162 775.2 L163 775.4 L164 775.6 L165 775.7 L166 775.9 L167 776.1 L168 776.2 L169 776.4 L170 776.5 L171 776.6 L172 776.7 L173 776.8 L174 776.8 L175 776.9 L176 776.9 L177 777 L178 777 L179 777 L180 777.1 L181 777.1 L182 777.2 L183 777.2 L184 777.3 L185 777.3 L186 777.4 L187 777.4 L188 777.5 L189 777.6 L190 777.6 L191 777.7 L192 777.8 L193 777.8 L194 777.9 L195 778 L196 778 L197 778.1 L198 778.2 L199 778.2 L200 778.3 L201 778.3 L202 778.3 L203 778.4 L204 778.4 L205 778.4 L206 778.4 L207 778.4 L208 778.5 L209 778.5 L210 778.5 L211 778.5 L212 778.5 L213 778.6 L214 778.6 L215 778.6 L216 778.6 L217 778.6 L218 778.7 L219 778.7 L220 778.7 L221 778.7 L222 778.7 L223 778.8 L224 778.8 L225 778.8 L226 778.8 L227 778.8 L228 778.9 L229 778.9 L230 778.9 L231 778.9 L232 778.9 L233 779 L234 779 L235 779 L236 779 L237 779 L238 779.1 L239 779.1 L240 779.1 L241 779.1 L242 779.1 L243 779.2 L244 779.2 L245 779.2 L246 779.2 L247 779.2 L248 779.3 L249 779.3 L250 779.3 L251 779.3 L252 779.3 L253 779.3 L254 779.3 L255 779.4 L256 779.4 L257 779.4 L258 779.4 L259 779.4 L260 779.4 L261 779.4 L262 779.4 L263 779.4 L264 779.4 L265 779.5 L266 779.5 L267 779.5 L268 779.5 L269 779.5 L270 779.5 L271 779.5 L272 779.5 L273 779.5 L274 779.5 L275 779.6 L276 779.6 L277 779.6 L278 779.6 L279 779.6 L280 779.6 L281 779.6 L282 779.6 L283 779.6 L284 779.6 L285 779.7 L286 779.7 L287 779.7 L288 779.7 L289 779.7 L290 779.7 L291 779.7 L292 779.7 L293 779.7 L294 779.7 L295 779.8 L296 779.8 L297 779.8 L298 779.8 L299 779.8 L300 779.8 L301 779.8 L302 779.8 L303 779.8 L304 779.8 L305 779.8 L306 779.8 L307 779.8 L308 779.8 L309 779.8 L310 779.8 L311 779.8 L312 779.8 L313 779.9 L314 779.9 L315 779.9 L316 779.9 L317 779.9 L318 779.9 L319 779.9 L320 779.9 L321 779.9 L322 779.9 L323 779.9 L324 779.9 L325 779.9 L326 779.9 L327 779.9 L328 779.9 L329 779.9 L330 779.9 L331 779.9 L332 779.9 L333 779.9 L334 779.9 L335 779.9 L336 779.9 L337 779.9 L338 780 L339 780 L340 780 L341 780 L342 780 L343 780 L344 780 L345 780 L346 780 L347 780 L348 780 L349 780 L350 780 L351 780 L352 780 L353 780 L354 780 L355 780 L356 779.9 L357 779.9 L358 779.9 L359 779.9 L360 779.9 L361 779.9 L362 779.9 L363 779.9 L364 779.9 L365 779.9 L366 779.8 L367 779.8 L368 779.8 L369 779.8 L370 779.8 L371 779.8 L372 779.8 L373 779.8 L374 779.8 L375 779.8 L376 779.7 L377 779.7 L378 779.7 L379 779.7 L380 779.7 L381 779.7 L382 779.7 L383 779.7 L384 779.7 L385 779.7 L386 779.6 L387 779.6 L388 779.6 L389 779.6 L390 779.6 L391 779.6 L392 779.6 L393 779.6 L394 779.6 L395 779.6 L396 779.5 L397 779.5 L398 779.5 L399 779.5 L400 779.6 L401 779.6 L402 779.7 L403 779.7 L404 779.8 L405 779.9 L406 780 L407 780.1 L408 780.2 L409 780.3 L410 780.4 L411 780.4 L412 780.5 L413 780.6 L414 780.7 L415 780.8 L416 780.9 L417 781 L418 781.1 L419 781.1 L420 781.2 L421 781.3 L422 781.4 L423 781.5 L424 781.6 L425 781.7 L426 781.8 L427 781.8 L428 781.9 L429 782 L430 782.1 L431 782.3 L432 782.4 L433 782.5 L434 782.6 L435 782.8 L436 782.9 L437 783.1 L438 783.2 L439 783.3 L440 783.5 L441 783.6 L442 783.7 L443 783.9 L444 784 L445 784.1 L446 784.3 L447 784.4 L448 784.5 L449 784.7 L450 784.8 L451 784.9 L452 785.1 L453 785.2 L454 785.3 L455 785.5 L456 785.6 L457 785.7 L458 785.9 L459 786 L460 786.1 L461 786.3 L462 786.4 L463 786.5 L464 786.7 L465 786.8 L466 786.9 L467 787.1 L468 787.2 L469 787.3 L470 787.5 L471 787.6 L472 787.7 L473 787.9 L474 788 L475 788.1 L476 788.3 L477 788.4 L478 788.5 L479 788.7 L480 788.8 L481 788.9 L482 789.1 L483 789.2 L484 789.3 L485 789.4 L486 789.5 L487 789.7 L488 789.8 L489 789.9 L490 790 L491 790.1 L492 790.2 L493 790.3 L494 790.3 L495 790.4 L496 790.4 L497 790.4 L498 790.4 L499 790.4 L500 790.5 L501 790.5 L502 790.5 L503 790.5 L504 790.5 L505 790.6 L506 790.6 L507 790.6 L508 790.6 L509 790.7 L510 790.7 L511 790.7 L512 790.7 L513 790.7 L514 790.8 L515 790.8 L516 790.8" fill="none" stroke="#faf0cf" stroke-width="3.5"/>
<path d="M73 760.9 L74 760.9 L75 760.9 L76 760.9 L77 760.9 L78 760.9 L79 760.8 L80 760.8 L81 760.8 L82 760.7 L83 760.6 L84 760.5 L85 760.3 L86 760.1 L87 759.9 L88 759.5 L89 759.1 L90 758.7 L91 758.1 L92 757.5 L93 756.7 L94 755.9 L95 754.9 L96 753.7 L97 752.4 L98 750.9 L99 749.1 L100 747.2 L101 745.1 L102 742.7 L103 740.2 L104 737.4 L105 734.4 L106 731.1 L107 727.6 L108 723.8 L109 719.8 L110 715.5 L111 711.1 L112 706.5 L113 701.8 L114 697 L115 692.1 L116 687.3 L117 682.5 L118 677.9 L119 673.5 L120 669.4 L121 665.6 L122 662.2 L123 659.2 L124 656.7 L125 654.6 L126 653.1 L127 652.1 L128 651.7 L129 651.8 L130 652.5 L131 653.5 L132 655.1 L133 657 L134 659.5 L135 662.3 L136 665.5 L137 669.1 L138 672.9 L139 677 L140 680 L141 682.6 L142 685.3 L143 688.1 L144 690.8 L145 694.1 L146 697.4 L147 700.7 L148 703.9 L149 706.9 L150 710 L151 713 L152 716.1 L153 719.1 L154 721.1 L155 722.7 L156 724.3 L157 725.9 L158 727.5 L159 729.1 L160 730.7 L161 732.3 L162 733.8 L163 735.2 L164 736.2 L165 737.2 L166 738.2 L167 739.2 L168 740.2 L169 741.3 L170 742.3 L171 743.3 L172 744.3 L173 745.3 L174 746.2 L175 747 L176 747.7 L177 748.5 L178 749.2 L179 749.9 L180 750.7 L181 751.4 L182 752.2 L183 752.9 L184 753.7 L185 754.4 L186 755.1 L187 755.9 L188 756.6 L189 757.2 L190 757.5 L191 757.8 L192 758.1 L193 758.4 L194 758.8 L195 759.1 L196 759.4 L197 759.7 L198 760.1 L199 760.4 L200 760.7 L201 760.9 L202 761.2 L203 761.4 L204 761.7 L205 761.9 L206 762.2 L207 762.4 L208 762.7 L209 762.9 L210 763.2 L211 763.4 L212 763.7 L213 763.9 L214 764.2 L215 764.4 L216 764.7 L217 764.9 L218 765.2 L219 765.2 L220 765.1 L221 765.1 L222 765.1 L223 765 L224 765 L225 764.9 L226 764.9 L227 764.9 L228 764.8 L229 764.8 L230 765 L231 765.1 L232 765.2 L233 765.3 L234 765.4 L235 765.6 L236 765.7 L237 765.8 L238 765.9 L239 766 L240 766.2 L241 766.3 L242 766.4 L243 766.5 L244 766.6 L245 766.7 L246 766.9 L247 767 L248 767.1 L249 767.2 L250 767.3 L251 767.5 L252 767.6 L253 767.7 L254 767.8 L255 767.9 L256 768 L257 768.2 L258 768.3 L259 768.5 L260 768.6 L261 768.8 L262 768.9 L263 769.1 L264 769.2 L265 769.4 L266 769.5 L267 769.6 L268 769.8 L269 769.9 L270 770.1 L271 770.2 L272 770.4 L273 770.5 L274 770.7 L275 770.8 L276 771 L277 771.1 L278 771.3 L279 771.4 L280 771.6 L281 771.7 L282 771.9 L283 772 L284 772.2 L285 772.3 L286 772.4 L287 772.5 L288 772.6 L289 772.7 L290 772.8 L291 772.9 L292 773 L293 773.1 L294 773.2 L295 773.3 L296 773.4 L297 773.5 L298 773.6 L299 773.7 L300 773.8 L301 773.9 L302 774 L303 774.1 L304 774.2 L305 774.3 L306 774.4 L307 774.5 L308 774.6 L309 774.7 L310 774.8 L311 774.9 L312 775 L313 775.1 L314 775.2 L315 775.3 L316 775.4 L317 775.5 L318 775.6 L319 775.7 L320 775.8 L321 775.9 L322 776 L323 776 L324 776.1 L325 776.2 L326 776.3 L327 776.4 L328 776.5 L329 776.5 L330 776.6 L331 776.7 L332 776.8 L333 776.9 L334 776.9 L335 777 L336 777.1 L337 777.2 L338 777.3 L339 777.4 L340 777.4 L341 777.5 L342 777.6 L343 777.7 L344 777.8 L345 777.8 L346 777.9 L347 778 L348 778.1 L349 778.2 L350 778.3 L351 778.3 L352 778.4 L353 778.5 L354 778.5 L355 778.5 L356 778.4 L357 778.4 L358 778.4 L359 778.4 L360 778.4 L361 778.4 L362 778.4 L363 778.4 L364 778.4 L365 778.4 L366 778.3 L367 778.3 L368 778.3 L369 778.3 L370 778.3 L371 778.3 L372 778.3 L373 778.3 L374 778.3 L375 778.2 L376 778.2 L377 778.2 L378 778.2 L379 778.2 L380 778.2 L381 778.2 L382 778.2 L383 778.2 L384 778.1 L385 778.1 L386 778.1 L387 778.1 L388 778.1 L389 778 L390 778 L391 777.9 L392 777.9 L393 777.8 L394 777.7 L395 777.6 L396 777.5 L397 777.4 L398 777.2 L399 777 L400 776.7 L401 776.5 L402 776.1 L403 775.8 L404 775.3 L405 774.7 L406 773.9 L407 773.1 L408 772 L409 770.8 L410 769.3 L411 767.5 L412 765.5 L413 763.2 L414 760.5 L415 757.4 L416 753.9 L417 749.9 L418 745.5 L419 740.5 L420 735 L421 729 L422 722.4 L423 715.2 L424 707.5 L425 699.2 L426 690.4 L427 681 L428 671.3 L429 661.2 L430 650.8 L431 640.3 L432 629.6 L433 619 L434 608.5 L435 598.4 L436 588.7 L437 579.6 L438 571.3 L439 563.9 L440 557.6 L441 552.5 L442 548.9 L443 547 L444 547 L445 549 L446 552.5 L447 557.3 L448 563.2 L449 570.1 L450 578 L451 586.5 L452 595.7 L453 605.3 L454 615.3 L455 625.5 L456 635.8 L457 646.1 L458 653.3 L459 660 L460 666.7 L461 673.3 L462 680 L463 685.2 L464 690.4 L465 695.3 L466 699.8 L467 704.3 L468 708.8 L469 711.7 L470 714.2 L471 716.7 L472 719.7 L473 723.7 L474 727.6 L475 731.6 L476 734 L477 736 L478 738 L479 740 L480 742 L481 743.9 L482 745.9 L483 747.6 L484 749.2 L485 750.9 L486 752.5 L487 754.5 L488 757 L489 759.5 L490 762 L491 763.5 L492 765 L493 766.5 L494 768.1 L495 769.7 L496 771.2 L497 772.8 L498 774.3 L499 775.2 L500 776 L501 776.9 L502 777.8 L503 778.6 L504 779.5 L505 780.2 L506 780.9 L507 781.6 L508 782.3 L509 783 L510 783.7 L511 784.3 L512 784.8 L513 785.4 L514 785.9 L515 786.5 L516 787" fill="none" stroke="#c3d6ee" stroke-width="3.6" stroke-dasharray="3 4.2"/>
<path d="M73 760.9 L74 760.9 L75 760.9 L76 760.9 L77 760.9 L78 760.9 L79 760.8 L80 760.8 L81 760.8 L82 760.7 L83 760.6 L84 760.5 L85 760.3 L86 760.1 L87 759.9 L88 759.5 L89 759.1 L90 758.7 L91 758.1 L92 757.5 L93 756.7 L94 755.9 L95 754.9 L96 753.7 L97 752.4 L98 750.9 L99 749.1 L100 747.2 L101 745.1 L102 742.7 L103 740.2 L104 737.4 L105 734.4 L106 731.1 L107 727.6 L108 723.8 L109 719.8 L110 715.5 L111 711.1 L112 706.5 L113 701.8 L114 697 L115 692.1 L116 687.3 L117 682.5 L118 677.9 L119 673.5 L120 669.4 L121 665.6 L122 662.2 L123 659.2 L124 656.7 L125 654.6 L126 653.1 L127 652.1 L128 651.7 L129 651.8 L130 652.5 L131 653.5 L132 655.1 L133 657 L134 659.5 L135 662.3 L136 665.5 L137 669.1 L138 672.9 L139 677 L140 681.3 L141 685.9 L142 690.5 L143 695.3 L144 700.1 L145 704.9 L146 709.7 L147 714.4 L148 719 L149 723.5 L150 727.9 L151 732 L152 736 L153 739.7 L154 743.3 L155 746.5 L156 749.6 L157 752.4 L158 755 L159 757.4 L160 759.5 L161 761.5 L162 763.3 L163 764.9 L164 766.4 L165 767.7 L166 768.8 L167 769.8 L168 770.7 L169 771.6 L170 772.2 L171 772.8 L172 773.3 L173 773.7 L174 774 L175 774.3 L176 774.6 L177 774.8 L178 774.9 L179 775.1 L180 775.2 L181 775.3 L182 775.5 L183 775.5 L184 775.6 L185 775.7 L186 775.8 L187 775.9 L188 776 L189 776 L190 776.1 L191 776.2 L192 776.3 L193 776.3 L194 776.4 L195 776.5 L196 776.5 L197 776.6 L198 776.7 L199 776.7 L200 776.8 L201 776.8 L202 776.8 L203 776.9 L204 776.9 L205 776.9 L206 776.9 L207 776.9 L208 777 L209 777 L210 777 L211 777 L212 777 L213 777.1 L214 777.1 L215 777.1 L216 777.1 L217 777.1 L218 777.2 L219 777.2 L220 777.2 L221 777.2 L222 777.2 L223 777.3 L224 777.3 L225 777.3 L226 777.3 L227 777.3 L228 777.4 L229 777.4 L230 777.4 L231 777.4 L232 777.4 L233 777.5 L234 777.5 L235 777.5 L236 777.5 L237 777.5 L238 777.6 L239 777.6 L240 777.6 L241 777.6 L242 777.6 L243 777.7 L244 777.7 L245 777.7 L246 777.7 L247 777.7 L248 777.8 L249 777.8 L250 777.8 L251 777.8 L252 777.8 L253 777.8 L254 777.8 L255 777.9 L256 777.9 L257 777.9 L258 777.9 L259 777.9 L260 777.9 L261 777.9 L262 777.9 L263 777.9 L264 777.9 L265 778 L266 778 L267 778 L268 778 L269 778 L270 778 L271 778 L272 778 L273 778 L274 778 L275 778.1 L276 778.1 L277 778.1 L278 778.1 L279 778.1 L280 778.1 L281 778.1 L282 778.1 L283 778.1 L284 778.1 L285 778.2 L286 778.2 L287 778.2 L288 778.2 L289 778.2 L290 778.2 L291 778.2 L292 778.2 L293 778.2 L294 778.2 L295 778.2 L296 778.3 L297 778.3 L298 778.3 L299 778.3 L300 778.3 L301 778.3 L302 778.3 L303 778.3 L304 778.3 L305 778.3 L306 778.3 L307 778.3 L308 778.3 L309 778.3 L310 778.3 L311 778.3 L312 778.3 L313 778.4 L314 778.4 L315 778.4 L316 778.4 L317 778.4 L318 778.4 L319 778.4 L320 778.4 L321 778.4 L322 778.4 L323 778.4 L324 778.4 L325 778.4 L326 778.4 L327 778.4 L328 778.4 L329 778.4 L330 778.4 L331 778.4 L332 778.4 L333 778.4 L334 778.4 L335 778.4 L336 778.4 L337 778.4 L338 778.5 L339 778.5 L340 778.5 L341 778.5 L342 778.5 L343 778.5 L344 778.5 L345 778.5 L346 778.5 L347 778.5 L348 778.5 L349 778.5 L350 778.5 L351 778.5 L352 778.5 L353 778.5 L354 778.5 L355 778.5 L356 778.4 L357 778.4 L358 778.4 L359 778.4 L360 778.4 L361 778.4 L362 778.4 L363 778.4 L364 778.4 L365 778.4 L366 778.3 L367 778.3 L368 778.3 L369 778.3 L370 778.3 L371 778.3 L372 778.3 L373 778.3 L374 778.3 L375 778.2 L376 778.2 L377 778.2 L378 778.2 L379 778.2 L380 778.2 L381 778.2 L382 778.2 L383 778.2 L384 778.1 L385 778.1 L386 778.1 L387 778.1 L388 778.1 L389 778 L390 778 L391 777.9 L392 777.9 L393 777.8 L394 777.7 L395 777.6 L396 777.5 L397 777.4 L398 777.2 L399 777 L400 776.7 L401 776.5 L402 776.1 L403 775.8 L404 775.3 L405 774.7 L406 773.9 L407 773.1 L408 772 L409 770.8 L410 769.3 L411 767.5 L412 765.5 L413 763.2 L414 760.5 L415 757.4 L416 753.9 L417 749.9 L418 745.5 L419 740.5 L420 735 L421 729 L422 722.4 L423 715.2 L424 707.5 L425 699.2 L426 690.4 L427 681 L428 671.3 L429 661.2 L430 650.8 L431 640.3 L432 629.6 L433 619 L434 608.5 L435 598.4 L436 588.7 L437 579.6 L438 571.3 L439 563.9 L440 557.6 L441 552.5 L442 548.9 L443 547 L444 547 L445 549 L446 552.5 L447 557.3 L448 563.2 L449 570.1 L450 578 L451 586.5 L452 595.7 L453 605.3 L454 615.3 L455 625.5 L456 635.8 L457 646.1 L458 656.3 L459 666.3 L460 676.1 L461 685.5 L462 694.5 L463 703 L464 711.2 L465 718.8 L466 725.9 L467 732.5 L468 738.6 L469 744.3 L470 749.4 L471 754.1 L472 758.3 L473 762.1 L474 765.5 L475 768.5 L476 771.2 L477 773.6 L478 775.7 L479 777.6 L480 779.2 L481 780.6 L482 781.8 L483 782.9 L484 783.8 L485 784.6 L486 785.3 L487 785.9 L488 786.4 L489 786.9 L490 787.3 L491 787.6 L492 787.9 L493 788.1 L494 788.3 L495 788.4 L496 788.6 L497 788.6 L498 788.7 L499 788.8 L500 788.8 L501 788.9 L502 788.9 L503 789 L504 789 L505 789 L506 789.1 L507 789.1 L508 789.1 L509 789.1 L510 789.2 L511 789.2 L512 789.2 L513 789.2 L514 789.3 L515 789.3 L516 789.3" fill="none" stroke="#c6def8" stroke-width="4.2" stroke-linejoin="round"/>
<rect x="71" y="473" width="447" height="360" fill="none" stroke="#000" stroke-width="4"/>
<rect x="482.2" y="833" width="4" height="7" fill="#000"/>
<text x="483.6" y="862.5" font-family="&quot;Liberation Serif&quot;, serif" font-size="24.4" text-anchor="middle" >1020</text>
<rect x="414.5" y="833" width="4" height="7" fill="#000"/>
<text x="415.9" y="862.5" font-family="&quot;Liberation Serif&quot;, serif" font-size="24.4" text-anchor="middle" >1025</text>
<rect x="346.8" y="833" width="4" height="7" fill="#000"/>
<text x="348.2" y="862.5" font-family="&quot;Liberation Serif&quot;, serif" font-size="24.4" text-anchor="middle" >1030</text>
<rect x="279.1" y="833" width="4" height="7" fill="#000"/>
<text x="280.5" y="862.5" font-family="&quot;Liberation Serif&quot;, serif" font-size="24.4" text-anchor="middle" >1035</text>
<rect x="211.4" y="833" width="4" height="7" fill="#000"/>
<text x="212.8" y="862.5" font-family="&quot;Liberation Serif&quot;, serif" font-size="24.4" text-anchor="middle" >1040</text>
<rect x="143.7" y="833" width="4" height="7" fill="#000"/>
<text x="145.1" y="862.5" font-family="&quot;Liberation Serif&quot;, serif" font-size="24.4" text-anchor="middle" >1045</text>
<rect x="76" y="833" width="4" height="7" fill="#000"/>
<text x="77.4" y="862.5" font-family="&quot;Liberation Serif&quot;, serif" font-size="24.4" text-anchor="middle" >1050</text>
<rect x="448.3" y="833" width="4" height="3.5" fill="#000"/>
<rect x="380.6" y="833" width="4" height="3.5" fill="#000"/>
<rect x="312.9" y="833" width="4" height="3.5" fill="#000"/>
<rect x="245.2" y="833" width="4" height="3.5" fill="#000"/>
<rect x="177.6" y="833" width="4" height="3.5" fill="#000"/>
<rect x="109.8" y="833" width="4" height="3.5" fill="#000"/>
<text id="L_Zn2pc" x="453.4" y="498.1" font-family="&quot;Liberation Serif&quot;, serif" font-size="21.8" font-weight="bold" textLength="58.4" lengthAdjust="spacingAndGlyphs">Zn 2p</text>
<text id="L_Zn32c" x="388.4" y="538" font-family="&quot;Liberation Serif&quot;, serif" font-size="21.5" font-weight="bold" textLength="79.7" lengthAdjust="spacingAndGlyphs">Zn 2p<tspan font-size="15.5" dy="7.2">3/2</tspan></text>
<text id="L_1022" x="324.3" y="572.6" font-family="&quot;Liberation Serif&quot;, serif" font-size="22.2" font-weight="bold" textLength="110.9" lengthAdjust="spacingAndGlyphs">1022.99 eV</text>
<text id="L_Zn12c" x="92.4" y="648.6" font-family="&quot;Liberation Serif&quot;, serif" font-size="21.5" font-weight="bold" textLength="79.4" lengthAdjust="spacingAndGlyphs">Zn 2p<tspan font-size="15.5" dy="5.6">1/2</tspan></text>
<text id="L_1046" x="149.3" y="686.8" font-family="&quot;Liberation Serif&quot;, serif" font-size="22.2" font-weight="bold" textLength="111.4" lengthAdjust="spacingAndGlyphs">1046.18 eV</text>
<path d="M590 778 L591.5 778 L593 778 L594.5 778 L596 778 L597.5 778 L599 778 L600.5 778 L602 778 L603.5 778 L605 778 L606.5 778 L608 778 L609.5 778 L611 778 L612.5 778 L614 778 L615.5 778 L617 778 L618.5 778 L620 778 L621.5 778 L623 778 L624.5 778 L626 778 L627.5 778 L629 777.9 L630.5 777.8 L632 777.7 L633.5 777.7 L635 777.6 L636.5 777.5 L638 777.4 L639.5 777.3 L641 777.3 L642.5 777.2 L644 777.1 L645.5 777 L647 776.9 L648.5 776.8 L650 776.7 L651.5 776.6 L653 776.5 L654.5 776.4 L656 776.3 L657.5 776.3 L659 776.2 L660.5 776.1 L662 776 L663.5 775.8 L665 775.6 L666.5 775.3 L668 774.9 L669.5 774.5 L671 774.1 L672.5 773.8 L674 773.4 L675.5 773 L677 772.6 L678.5 772.2 L680 771.8 L681.5 771.4 L683 771 L684.5 770.6 L686 770.1 L687.5 769.7 L689 769.3 L690.5 768.9 L692 768.4 L693.5 768 L695 767.6 L696.5 767.2 L698 766.9 L699.5 766.5 L701 766.1 L702.5 765.8 L704 765.4 L705.5 764.7 L707 763.9 L708.5 762.7 L710 761.6 L711.5 760.5 L713 759.4 L714.5 758.2 L716 757 L717.5 755.4 L719 753.8 L720.5 752 L722 750.2 L723.5 748.3 L725 746.4 L726.5 744.4 L728 742.3 L729.5 740.2 L731 738 L732.5 735.8 L734 733.5 L735.5 731.2 L737 728.9 L738.5 726.6 L740 724.2 L741.5 721.9 L743 719.5 L744.5 717.2 L746 714.9 L747.5 712.6 L749 710.4 L750.5 708.2 L752 706.1 L753.5 704 L755 702.1 L756.5 700.2 L758 698.4 L759.5 696.8 L761 695.3 L762.5 693.9 L764 692.6 L765.5 691.5 L767 690.5 L768.5 689.7 L770 689.1 L771.5 688.6 L773 688.2 L774.5 688.1 L776 688.1 L777.5 688.2 L779 686.9 L780.5 685.1 L782 683.5 L783.5 682 L785 680.5 L786.5 679 L788 677.4 L789.5 675.7 L791 673.9 L792.5 672 L794 670.2 L795.5 668.3 L797 666.1 L798.5 663.6 L800 660.7 L801.5 657.6 L803 654.6 L804.5 651.4 L806 647.7 L807.5 643.7 L809 639.5 L810.5 634.8 L812 629.3 L813.5 623.3 L815 617.2 L816.5 611.3 L818 605.3 L819.5 599.3 L821 593.3 L822.5 587.3 L824 581.4 L825.5 575.8 L827 570.5 L828.5 565.3 L830 560.3 L831.5 555.4 L833 550.7 L834.5 546.9 L836 544 L837.5 542.1 L839 540.5 L840.5 539.3 L842 538.7 L843.5 538.4 L845 538.6 L846.5 539.1 L848 540 L849.5 541.3 L851 543.4 L852.5 546.2 L854 549.8 L855.5 553.8 L857 557.7 L858.5 562.2 L860 567.2 L861.5 572.7 L863 578.2 L864.5 583.8 L866 589.7 L867.5 595.6 L869 601.3 L870.5 606.7 L872 611.8 L873.5 616.8 L875 621.8 L876.5 626.8 L878 631.9 L879.5 636.9 L881 641.9 L882.5 646.9 L884 651.9 L885.5 656.8 L887 661.8 L888.5 666.3 L890 670.5 L891.5 674.1 L893 677.7 L894.5 681.2 L896 684.8 L897.5 688.5 L899 692 L900.5 695.3 L902 698.4 L903.5 701.3 L905 704.2 L906.5 706.8 L908 709.3 L909.5 711.8 L911 714.2 L912.5 716.3 L914 718.3 L915.5 720 L917 721.8 L918.5 723.5 L920 725.2 L921.5 726.9 L923 728.4 L924.5 729.9 L926 731.4 L927.5 732.9 L929 734.4 L930.5 735.8 L932 737.2 L933.5 738.4 L935 739.7 L936.5 741 L938 742.3 L939.5 743.6 L941 745 L942.5 746.4 L944 747.9 L945.5 749.5 L947 751 L948.5 752.5 L950 754 L951.5 755.4 L953 756.8 L954.5 758.2 L956 759.6 L957.5 761 L959 762.4 L960.5 763.8 L962 765.1 L963.5 766.5 L965 767.9 L966.5 769.3 L968 770.7 L969.5 771.9 L971 772.9 L972.5 773.6 L974 774.4 L975.5 775.1 L977 775.9 L978.5 776.6 L980 777.4 L981.5 778.1 L983 778.8 L984.5 779.4 L986 780.1 L987.5 780.8 L989 781.4 L990.5 782.1 L992 782.8 L993.5 783.3 L995 783.7 L996.5 784 L998 784.3 L999.5 784.6 L1001 784.9 L1002.5 785.2 L1004 785.5 L1005.5 785.8 L1007 786 L1008.5 786.2 L1010 786.4 L1011.5 786.5 L1013 786.7 L1014.5 786.8 L1016 787 L1017.5 787.1 L1019 787.3 L1020.5 787.4 L1022 787.5 L1023.5 787.6 L1025 787.6 L1026.5 787.6 L1028 787.7 L1029.5 787.7 L1031 787.8 L1032.5 787.8 L1034 787.9 L1035.5 787.9 L1037 787.9 L1038.5 788 L1038.5 789.8 L1037 789.8 L1035.5 789.8 L1034 789.8 L1032.5 789.8 L1031 789.8 L1029.5 789.8 L1028 789.7 L1026.5 789.7 L1025 789.7 L1023.5 789.7 L1022 789.7 L1020.5 789.7 L1019 789.7 L1017.5 789.7 L1016 789.7 L1014.5 789.7 L1013 789.7 L1011.5 789.7 L1010 789.7 L1008.5 789.6 L1007 789.6 L1005.5 789.6 L1004 789.6 L1002.5 789.6 L1001 789.6 L999.5 789.6 L998 789.6 L996.5 789.6 L995 789.6 L993.5 789.6 L992 789.6 L990.5 789.6 L989 789.5 L987.5 789.5 L986 789.5 L984.5 789.5 L983 789.5 L981.5 789.5 L980 789.5 L978.5 789.5 L977 789.5 L975.5 789.5 L974 789.5 L972.5 789.5 L971 789.5 L969.5 789.4 L968 789.4 L966.5 789.4 L965 789.4 L963.5 789.4 L962 789.4 L960.5 789.4 L959 789.4 L957.5 789.4 L956 789.4 L954.5 789.4 L953 789.3 L951.5 789.3 L950 789.3 L948.5 789.3 L947 789.3 L945.5 789.3 L944 789.3 L942.5 789.3 L941 789.2 L939.5 789.2 L938 789.2 L936.5 789.2 L935 789.2 L933.5 789.2 L932 789.2 L930.5 789.2 L929 789.1 L927.5 789.1 L926 789.1 L924.5 789.1 L923 789.1 L921.5 789.1 L920 789.1 L918.5 789.1 L917 789 L915.5 789 L914 789 L912.5 789 L911 789 L909.5 789 L908 789 L906.5 789 L905 788.9 L903.5 788.9 L902 788.9 L900.5 788.9 L899 788.8 L897.5 788.8 L896 788.7 L894.5 788.7 L893 788.6 L891.5 788.6 L890 788.5 L888.5 788.4 L887 788.4 L885.5 788.3 L884 788.3 L882.5 788.2 L881 788.1 L879.5 788.1 L878 788 L876.5 787.9 L875 787.8 L873.5 787.7 L872 787.6 L870.5 787.5 L869 787.4 L867.5 787.3 L866 787.2 L864.5 787.1 L863 787 L861.5 786.9 L860 786.8 L858.5 786.7 L857 786.7 L855.5 786.6 L854 786.5 L852.5 786.4 L851 786.3 L849.5 786.2 L848 786.1 L846.5 786 L845 785.9 L843.5 785.8 L842 785.7 L840.5 785.6 L839 785.5 L837.5 785.4 L836 785.3 L834.5 785.2 L833 785.1 L831.5 785 L830 784.9 L828.5 784.8 L827 784.7 L825.5 784.6 L824 784.5 L822.5 784.4 L821 784.3 L819.5 784.2 L818 784.1 L816.5 784 L815 783.9 L813.5 783.8 L812 783.7 L810.5 783.6 L809 783.5 L807.5 783.4 L806 783.3 L804.5 783.2 L803 783.1 L801.5 783 L800 782.9 L798.5 782.8 L797 782.7 L795.5 782.6 L794 782.5 L792.5 782.4 L791 782.4 L789.5 782.3 L788 782.2 L786.5 782.1 L785 782 L783.5 782 L782 781.9 L780.5 781.8 L779 781.7 L777.5 781.6 L776 781.6 L774.5 781.5 L773 781.4 L771.5 781.3 L770 781.2 L768.5 781.2 L767 781.1 L765.5 781 L764 780.9 L762.5 780.8 L761 780.8 L759.5 780.7 L758 780.6 L756.5 780.6 L755 780.6 L753.5 780.5 L752 780.5 L750.5 780.4 L749 780.4 L747.5 780.3 L746 780.3 L744.5 780.3 L743 780.2 L741.5 780.2 L740 780.1 L738.5 780.1 L737 780 L735.5 780 L734 780 L732.5 779.9 L731 779.9 L729.5 779.8 L728 779.8 L726.5 779.8 L725 779.7 L723.5 779.7 L722 779.6 L720.5 779.6 L719 779.5 L717.5 779.5 L716 779.5 L714.5 779.4 L713 779.4 L711.5 779.3 L710 779.3 L708.5 779.2 L707 779.2 L705.5 779.2 L704 779.1 L702.5 779.1 L701 779 L699.5 779 L698 779 L696.5 779 L695 779 L693.5 779 L692 778.9 L690.5 778.9 L689 778.9 L687.5 778.9 L686 778.9 L684.5 778.9 L683 778.9 L681.5 778.9 L680 778.9 L678.5 778.8 L677 778.8 L675.5 778.8 L674 778.8 L672.5 778.8 L671 778.8 L669.5 778.8 L668 778.8 L666.5 778.8 L665 778.7 L663.5 778.7 L662 778.7 L660.5 778.7 L659 778.7 L657.5 778.7 L656 778.7 L654.5 778.7 L653 778.7 L651.5 778.6 L650 778.6 L648.5 778.6 L647 778.6 L645.5 778.6 L644 778.6 L642.5 778.6 L641 778.6 L639.5 778.6 L638 778.5 L636.5 778.5 L635 778.5 L633.5 778.5 L632 778.5 L630.5 778.5 L629 778.5 L627.5 778.5 L626 778.5 L624.5 778.5 L623 778.4 L621.5 778.4 L620 778.4 L618.5 778.4 L617 778.4 L615.5 778.4 L614 778.4 L612.5 778.4 L611 778.4 L609.5 778.3 L608 778.3 L606.5 778.3 L605 778.3 L603.5 778.3 L602 778.3 L600.5 778.3 L599 778.3 L597.5 778.3 L596 778.2 L594.5 778.2 L593 778.2 L591.5 778.2 L590 778.2 Z" fill="#e9e9f3"/>
<path d="M590 778.2 L591.5 778.2 L593 778.2 L594.5 778.2 L596 778.2 L597.5 778.3 L599 778.3 L600.5 778.3 L602 778.3 L603.5 778.3 L605 778.3 L606.5 778.3 L608 778.3 L609.5 778.3 L611 778.4 L612.5 778.4 L614 778.4 L615.5 778.4 L617 778.4 L618.5 778.4 L620 778.4 L621.5 778.4 L623 778.4 L624.5 778.4 L626 778.4 L627.5 778.5 L629 778.5 L630.5 778.5 L632 778.5 L633.5 778.5 L635 778.5 L636.5 778.5 L638 778.5 L639.5 778.5 L641 778.5 L642.5 778.5 L644 778.5 L645.5 778.5 L647 778.5 L648.5 778.5 L650 778.5 L651.5 778.4 L653 778.4 L654.5 778.4 L656 778.4 L657.5 778.3 L659 778.3 L660.5 778.2 L662 778.2 L663.5 778.1 L665 778 L666.5 778 L668 777.9 L669.5 777.7 L671 777.6 L672.5 777.5 L674 777.3 L675.5 777.1 L677 776.9 L678.5 776.7 L680 776.4 L681.5 776.2 L683 775.9 L684.5 775.5 L686 775.1 L687.5 774.7 L689 774.3 L690.5 773.8 L692 773.3 L693.5 772.7 L695 772 L696.5 771.4 L698 770.6 L699.5 769.8 L701 769 L702.5 768.1 L704 767.2 L705.5 766.1 L707 765.1 L708.5 763.9 L710 762.7 L711.5 761.4 L713 760 L714.5 758.6 L716 757 L717.5 755.4 L719 753.8 L720.5 752 L722 750.2 L723.5 748.3 L725 746.4 L726.5 744.4 L728 742.3 L729.5 740.2 L731 738 L732.5 735.8 L734 733.5 L735.5 731.2 L737 728.9 L738.5 726.6 L740 724.2 L741.5 721.9 L743 719.5 L744.5 717.2 L746 714.9 L747.5 712.6 L749 710.4 L750.5 708.2 L752 706.1 L753.5 704 L755 702.1 L756.5 700.2 L758 698.4 L759.5 696.8 L761 695.3 L762.5 693.9 L764 692.6 L765.5 691.5 L767 690.5 L768.5 689.7 L770 689.1 L771.5 688.6 L773 688.2 L774.5 688.1 L776 688.1 L777.5 688.2 L779 688.6 L780.5 689.1 L782 689.7 L783.5 690.6 L785 691.6 L786.5 692.7 L788 694 L789.5 695.5 L791 697.1 L792.5 698.8 L794 700.6 L795.5 702.5 L797 704.6 L798.5 706.7 L800 709 L801.5 711.3 L803 713.6 L804.5 716 L806 718.5 L807.5 721 L809 723.5 L810.5 726 L812 728.6 L813.5 731.1 L815 733.6 L816.5 736.1 L818 738.5 L819.5 741 L821 743.3 L822.5 745.7 L824 747.9 L825.5 750.2 L827 752.3 L828.5 754.4 L830 756.4 L831.5 758.4 L833 760.2 L834.5 762 L836 763.7 L837.5 765.4 L839 766.9 L840.5 768.4 L842 769.9 L843.5 771.2 L845 772.5 L846.5 773.7 L848 774.8 L849.5 775.8 L851 776.8 L852.5 777.8 L854 778.6 L855.5 779.5 L857 780.2 L858.5 780.9 L860 781.6 L861.5 782.2 L863 782.8 L864.5 783.3 L866 783.8 L867.5 784.3 L869 784.7 L870.5 785.1 L872 785.5 L873.5 785.8 L875 786.1 L876.5 786.4 L878 786.7 L879.5 786.9 L881 787.1 L882.5 787.3 L884 787.5 L885.5 787.6 L887 787.8 L888.5 787.9 L890 788 L891.5 788.2 L893 788.3 L894.5 788.4 L896 788.5 L897.5 788.6 L899 788.7 L900.5 788.7 L902 788.8 L903.5 788.8 L905 788.8 L906.5 788.9 L908 788.9 L909.5 788.9 L911 788.9 L912.5 789 L914 789 L915.5 789 L917 789 L918.5 789 L920 789 L921.5 789.1 L923 789.1 L924.5 789.1 L926 789.1 L927.5 789.1 L929 789.1 L930.5 789.1 L932 789.2 L933.5 789.2 L935 789.2 L936.5 789.2 L938 789.2 L939.5 789.2 L941 789.2 L942.5 789.3 L944 789.3 L945.5 789.3 L947 789.3 L948.5 789.3 L950 789.3 L951.5 789.3 L953 789.3 L954.5 789.4 L956 789.4 L957.5 789.4 L959 789.4 L960.5 789.4 L962 789.4 L963.5 789.4 L965 789.4 L966.5 789.4 L968 789.4 L969.5 789.4 L971 789.5 L972.5 789.5 L974 789.5 L975.5 789.5 L977 789.5 L978.5 789.5 L980 789.5 L981.5 789.5 L983 789.5 L984.5 789.5 L986 789.5 L987.5 789.5 L989 789.5 L990.5 789.6 L992 789.6 L993.5 789.6 L995 789.6 L996.5 789.6 L998 789.6 L999.5 789.6 L1001 789.6 L1002.5 789.6 L1004 789.6 L1005.5 789.6 L1007 789.6 L1008.5 789.6 L1010 789.7 L1011.5 789.7 L1013 789.7 L1014.5 789.7 L1016 789.7 L1017.5 789.7 L1019 789.7 L1020.5 789.7 L1022 789.7 L1023.5 789.7 L1025 789.7 L1026.5 789.7 L1028 789.7 L1029.5 789.8 L1031 789.8 L1032.5 789.8 L1034 789.8 L1035.5 789.8 L1037 789.8 L1038.5 789.8 L1038.5 789.8 L1037 789.8 L1035.5 789.8 L1034 789.8 L1032.5 789.8 L1031 789.8 L1029.5 789.8 L1028 789.7 L1026.5 789.7 L1025 789.7 L1023.5 789.7 L1022 789.7 L1020.5 789.7 L1019 789.7 L1017.5 789.7 L1016 789.7 L1014.5 789.7 L1013 789.7 L1011.5 789.7 L1010 789.7 L1008.5 789.6 L1007 789.6 L1005.5 789.6 L1004 789.6 L1002.5 789.6 L1001 789.6 L999.5 789.6 L998 789.6 L996.5 789.6 L995 789.6 L993.5 789.6 L992 789.6 L990.5 789.6 L989 789.5 L987.5 789.5 L986 789.5 L984.5 789.5 L983 789.5 L981.5 789.5 L980 789.5 L978.5 789.5 L977 789.5 L975.5 789.5 L974 789.5 L972.5 789.5 L971 789.5 L969.5 789.4 L968 789.4 L966.5 789.4 L965 789.4 L963.5 789.4 L962 789.4 L960.5 789.4 L959 789.4 L957.5 789.4 L956 789.4 L954.5 789.4 L953 789.3 L951.5 789.3 L950 789.3 L948.5 789.3 L947 789.3 L945.5 789.3 L944 789.3 L942.5 789.3 L941 789.2 L939.5 789.2 L938 789.2 L936.5 789.2 L935 789.2 L933.5 789.2 L932 789.2 L930.5 789.2 L929 789.1 L927.5 789.1 L926 789.1 L924.5 789.1 L923 789.1 L921.5 789.1 L920 789.1 L918.5 789.1 L917 789 L915.5 789 L914 789 L912.5 789 L911 789 L909.5 789 L908 789 L906.5 789 L905 788.9 L903.5 788.9 L902 788.9 L900.5 788.9 L899 788.8 L897.5 788.8 L896 788.7 L894.5 788.7 L893 788.6 L891.5 788.6 L890 788.5 L888.5 788.4 L887 788.4 L885.5 788.3 L884 788.3 L882.5 788.2 L881 788.1 L879.5 788.1 L878 788 L876.5 787.9 L875 787.8 L873.5 787.7 L872 787.6 L870.5 787.5 L869 787.4 L867.5 787.3 L866 787.2 L864.5 787.1 L863 787 L861.5 786.9 L860 786.8 L858.5 786.7 L857 786.7 L855.5 786.6 L854 786.5 L852.5 786.4 L851 786.3 L849.5 786.2 L848 786.1 L846.5 786 L845 785.9 L843.5 785.8 L842 785.7 L840.5 785.6 L839 785.5 L837.5 785.4 L836 785.3 L834.5 785.2 L833 785.1 L831.5 785 L830 784.9 L828.5 784.8 L827 784.7 L825.5 784.6 L824 784.5 L822.5 784.4 L821 784.3 L819.5 784.2 L818 784.1 L816.5 784 L815 783.9 L813.5 783.8 L812 783.7 L810.5 783.6 L809 783.5 L807.5 783.4 L806 783.3 L804.5 783.2 L803 783.1 L801.5 783 L800 782.9 L798.5 782.8 L797 782.7 L795.5 782.6 L794 782.5 L792.5 782.4 L791 782.4 L789.5 782.3 L788 782.2 L786.5 782.1 L785 782 L783.5 782 L782 781.9 L780.5 781.8 L779 781.7 L777.5 781.6 L776 781.6 L774.5 781.5 L773 781.4 L771.5 781.3 L770 781.2 L768.5 781.2 L767 781.1 L765.5 781 L764 780.9 L762.5 780.8 L761 780.8 L759.5 780.7 L758 780.6 L756.5 780.6 L755 780.6 L753.5 780.5 L752 780.5 L750.5 780.4 L749 780.4 L747.5 780.3 L746 780.3 L744.5 780.3 L743 780.2 L741.5 780.2 L740 780.1 L738.5 780.1 L737 780 L735.5 780 L734 780 L732.5 779.9 L731 779.9 L729.5 779.8 L728 779.8 L726.5 779.8 L725 779.7 L723.5 779.7 L722 779.6 L720.5 779.6 L719 779.5 L717.5 779.5 L716 779.5 L714.5 779.4 L713 779.4 L711.5 779.3 L710 779.3 L708.5 779.2 L707 779.2 L705.5 779.2 L704 779.1 L702.5 779.1 L701 779 L699.5 779 L698 779 L696.5 779 L695 779 L693.5 779 L692 778.9 L690.5 778.9 L689 778.9 L687.5 778.9 L686 778.9 L684.5 778.9 L683 778.9 L681.5 778.9 L680 778.9 L678.5 778.8 L677 778.8 L675.5 778.8 L674 778.8 L672.5 778.8 L671 778.8 L669.5 778.8 L668 778.8 L666.5 778.8 L665 778.7 L663.5 778.7 L662 778.7 L660.5 778.7 L659 778.7 L657.5 778.7 L656 778.7 L654.5 778.7 L653 778.7 L651.5 778.6 L650 778.6 L648.5 778.6 L647 778.6 L645.5 778.6 L644 778.6 L642.5 778.6 L641 778.6 L639.5 778.6 L638 778.5 L636.5 778.5 L635 778.5 L633.5 778.5 L632 778.5 L630.5 778.5 L629 778.5 L627.5 778.5 L626 778.5 L624.5 778.5 L623 778.4 L621.5 778.4 L620 778.4 L618.5 778.4 L617 778.4 L615.5 778.4 L614 778.4 L612.5 778.4 L611 778.4 L609.5 778.3 L608 778.3 L606.5 778.3 L605 778.3 L603.5 778.3 L602 778.3 L600.5 778.3 L599 778.3 L597.5 778.3 L596 778.2 L594.5 778.2 L593 778.2 L591.5 778.2 L590 778.2 Z" fill="#dcb9e1"/>
<path d="M590 778.2 L591.5 778.2 L593 778.2 L594.5 778.2 L596 778.2 L597.5 778.3 L599 778.3 L600.5 778.3 L602 778.3 L603.5 778.3 L605 778.3 L606.5 778.3 L608 778.3 L609.5 778.3 L611 778.4 L612.5 778.4 L614 778.4 L615.5 778.4 L617 778.4 L618.5 778.4 L620 778.4 L621.5 778.4 L623 778.4 L624.5 778.5 L626 778.5 L627.5 778.5 L629 778.5 L630.5 778.5 L632 778.5 L633.5 778.5 L635 778.5 L636.5 778.5 L638 778.5 L639.5 778.6 L641 778.6 L642.5 778.6 L644 778.6 L645.5 778.6 L647 778.6 L648.5 778.6 L650 778.6 L651.5 778.6 L653 778.7 L654.5 778.7 L656 778.7 L657.5 778.7 L659 778.7 L660.5 778.7 L662 778.7 L663.5 778.7 L665 778.7 L666.5 778.8 L668 778.8 L669.5 778.8 L671 778.8 L672.5 778.8 L674 778.8 L675.5 778.8 L677 778.8 L678.5 778.8 L680 778.9 L681.5 778.9 L683 778.9 L684.5 778.9 L686 778.9 L687.5 778.9 L689 778.9 L690.5 778.9 L692 778.9 L693.5 779 L695 779 L696.5 779 L698 779 L699.5 779 L701 779 L702.5 779.1 L704 779.1 L705.5 779.2 L707 779.2 L708.5 779.2 L710 779.3 L711.5 779.3 L713 779.4 L714.5 779.4 L716 779.4 L717.5 779.5 L719 779.5 L720.5 779.6 L722 779.6 L723.5 779.6 L725 779.7 L726.5 779.7 L728 779.7 L729.5 779.8 L731 779.8 L732.5 779.8 L734 779.8 L735.5 779.8 L737 779.8 L738.5 779.8 L740 779.7 L741.5 779.7 L743 779.6 L744.5 779.5 L746 779.4 L747.5 779.3 L749 779.1 L750.5 778.9 L752 778.6 L753.5 778.3 L755 777.9 L756.5 777.4 L758 776.9 L759.5 776.3 L761 775.6 L762.5 774.8 L764 773.9 L765.5 772.8 L767 771.6 L768.5 770.2 L770 768.7 L771.5 767 L773 765.1 L774.5 762.9 L776 760.6 L777.5 758 L779 755.1 L780.5 752 L782 748.6 L783.5 745 L785 741.1 L786.5 736.9 L788 732.4 L789.5 727.6 L791 722.5 L792.5 717.2 L794 711.6 L795.5 705.8 L797 699.7 L798.5 693.5 L800 687 L801.5 680.4 L803 673.7 L804.5 666.8 L806 659.9 L807.5 653 L809 646 L810.5 639.1 L812 632.2 L813.5 625.5 L815 618.9 L816.5 612.5 L818 606.3 L819.5 600.3 L821 594.7 L822.5 589.3 L824 584.3 L825.5 579.7 L827 575.4 L828.5 571.6 L830 568.1 L831.5 565.1 L833 562.5 L834.5 560.3 L836 558.5 L837.5 557.2 L839 556.2 L840.5 555.6 L842 555.3 L843.5 555.3 L845 555.4 L846.5 555.8 L848 556.4 L849.5 557.4 L851 558.8 L852.5 560.6 L854 562.7 L855.5 565.3 L857 568.2 L858.5 571.6 L860 575.4 L861.5 579.5 L863 584.1 L864.5 589 L866 594.3 L867.5 599.9 L869 605.8 L870.5 611.9 L872 618.3 L873.5 624.9 L875 631.6 L876.5 638.5 L878 645.4 L879.5 652.4 L881 659.5 L882.5 666.5 L884 673.4 L885.5 680.3 L887 687.1 L888.5 693.7 L890 700.2 L891.5 706.5 L893 712.6 L894.5 718.4 L896 724 L897.5 729.4 L899 734.5 L900.5 739.3 L902 743.8 L903.5 748.1 L905 752 L906.5 755.7 L908 759.1 L909.5 762.3 L911 765.2 L912.5 767.9 L914 770.3 L915.5 772.5 L917 774.5 L918.5 776.3 L920 778 L921.5 779.4 L923 780.7 L924.5 781.9 L926 782.9 L927.5 783.8 L929 784.6 L930.5 785.3 L932 785.9 L933.5 786.4 L935 786.8 L936.5 787.2 L938 787.6 L939.5 787.9 L941 788.1 L942.5 788.3 L944 788.5 L945.5 788.6 L947 788.8 L948.5 788.9 L950 789 L951.5 789.1 L953 789.1 L954.5 789.2 L956 789.2 L957.5 789.3 L959 789.3 L960.5 789.3 L962 789.4 L963.5 789.4 L965 789.4 L966.5 789.4 L968 789.4 L969.5 789.4 L971 789.4 L972.5 789.5 L974 789.5 L975.5 789.5 L977 789.5 L978.5 789.5 L980 789.5 L981.5 789.5 L983 789.5 L984.5 789.5 L986 789.5 L987.5 789.5 L989 789.5 L990.5 789.6 L992 789.6 L993.5 789.6 L995 789.6 L996.5 789.6 L998 789.6 L999.5 789.6 L1001 789.6 L1002.5 789.6 L1004 789.6 L1005.5 789.6 L1007 789.6 L1008.5 789.6 L1010 789.7 L1011.5 789.7 L1013 789.7 L1014.5 789.7 L1016 789.7 L1017.5 789.7 L1019 789.7 L1020.5 789.7 L1022 789.7 L1023.5 789.7 L1025 789.7 L1026.5 789.7 L1028 789.7 L1029.5 789.8 L1031 789.8 L1032.5 789.8 L1034 789.8 L1035.5 789.8 L1037 789.8 L1038.5 789.8 L1038.5 789.8 L1037 789.8 L1035.5 789.8 L1034 789.8 L1032.5 789.8 L1031 789.8 L1029.5 789.8 L1028 789.7 L1026.5 789.7 L1025 789.7 L1023.5 789.7 L1022 789.7 L1020.5 789.7 L1019 789.7 L1017.5 789.7 L1016 789.7 L1014.5 789.7 L1013 789.7 L1011.5 789.7 L1010 789.7 L1008.5 789.6 L1007 789.6 L1005.5 789.6 L1004 789.6 L1002.5 789.6 L1001 789.6 L999.5 789.6 L998 789.6 L996.5 789.6 L995 789.6 L993.5 789.6 L992 789.6 L990.5 789.6 L989 789.5 L987.5 789.5 L986 789.5 L984.5 789.5 L983 789.5 L981.5 789.5 L980 789.5 L978.5 789.5 L977 789.5 L975.5 789.5 L974 789.5 L972.5 789.5 L971 789.5 L969.5 789.4 L968 789.4 L966.5 789.4 L965 789.4 L963.5 789.4 L962 789.4 L960.5 789.4 L959 789.4 L957.5 789.4 L956 789.4 L954.5 789.4 L953 789.3 L951.5 789.3 L950 789.3 L948.5 789.3 L947 789.3 L945.5 789.3 L944 789.3 L942.5 789.3 L941 789.2 L939.5 789.2 L938 789.2 L936.5 789.2 L935 789.2 L933.5 789.2 L932 789.2 L930.5 789.2 L929 789.1 L927.5 789.1 L926 789.1 L924.5 789.1 L923 789.1 L921.5 789.1 L920 789.1 L918.5 789.1 L917 789 L915.5 789 L914 789 L912.5 789 L911 789 L909.5 789 L908 789 L906.5 789 L905 788.9 L903.5 788.9 L902 788.9 L900.5 788.9 L899 788.8 L897.5 788.8 L896 788.7 L894.5 788.7 L893 788.6 L891.5 788.6 L890 788.5 L888.5 788.4 L887 788.4 L885.5 788.3 L884 788.3 L882.5 788.2 L881 788.1 L879.5 788.1 L878 788 L876.5 787.9 L875 787.8 L873.5 787.7 L872 787.6 L870.5 787.5 L869 787.4 L867.5 787.3 L866 787.2 L864.5 787.1 L863 787 L861.5 786.9 L860 786.8 L858.5 786.7 L857 786.7 L855.5 786.6 L854 786.5 L852.5 786.4 L851 786.3 L849.5 786.2 L848 786.1 L846.5 786 L845 785.9 L843.5 785.8 L842 785.7 L840.5 785.6 L839 785.5 L837.5 785.4 L836 785.3 L834.5 785.2 L833 785.1 L831.5 785 L830 784.9 L828.5 784.8 L827 784.7 L825.5 784.6 L824 784.5 L822.5 784.4 L821 784.3 L819.5 784.2 L818 784.1 L816.5 784 L815 783.9 L813.5 783.8 L812 783.7 L810.5 783.6 L809 783.5 L807.5 783.4 L806 783.3 L804.5 783.2 L803 783.1 L801.5 783 L800 782.9 L798.5 782.8 L797 782.7 L795.5 782.6 L794 782.5 L792.5 782.4 L791 782.4 L789.5 782.3 L788 782.2 L786.5 782.1 L785 782 L783.5 782 L782 781.9 L780.5 781.8 L779 781.7 L777.5 781.6 L776 781.6 L774.5 781.5 L773 781.4 L771.5 781.3 L770 781.2 L768.5 781.2 L767 781.1 L765.5 781 L764 780.9 L762.5 780.8 L761 780.8 L759.5 780.7 L758 780.6 L756.5 780.6 L755 780.6 L753.5 780.5 L752 780.5 L750.5 780.4 L749 780.4 L747.5 780.3 L746 780.3 L744.5 780.3 L743 780.2 L741.5 780.2 L740 780.1 L738.5 780.1 L737 780 L735.5 780 L734 780 L732.5 779.9 L731 779.9 L729.5 779.8 L728 779.8 L726.5 779.8 L725 779.7 L723.5 779.7 L722 779.6 L720.5 779.6 L719 779.5 L717.5 779.5 L716 779.5 L714.5 779.4 L713 779.4 L711.5 779.3 L710 779.3 L708.5 779.2 L707 779.2 L705.5 779.2 L704 779.1 L702.5 779.1 L701 779 L699.5 779 L698 779 L696.5 779 L695 779 L693.5 779 L692 778.9 L690.5 778.9 L689 778.9 L687.5 778.9 L686 778.9 L684.5 778.9 L683 778.9 L681.5 778.9 L680 778.9 L678.5 778.8 L677 778.8 L675.5 778.8 L674 778.8 L672.5 778.8 L671 778.8 L669.5 778.8 L668 778.8 L666.5 778.8 L665 778.7 L663.5 778.7 L662 778.7 L660.5 778.7 L659 778.7 L657.5 778.7 L656 778.7 L654.5 778.7 L653 778.7 L651.5 778.6 L650 778.6 L648.5 778.6 L647 778.6 L645.5 778.6 L644 778.6 L642.5 778.6 L641 778.6 L639.5 778.6 L638 778.5 L636.5 778.5 L635 778.5 L633.5 778.5 L632 778.5 L630.5 778.5 L629 778.5 L627.5 778.5 L626 778.5 L624.5 778.5 L623 778.4 L621.5 778.4 L620 778.4 L618.5 778.4 L617 778.4 L615.5 778.4 L614 778.4 L612.5 778.4 L611 778.4 L609.5 778.3 L608 778.3 L606.5 778.3 L605 778.3 L603.5 778.3 L602 778.3 L600.5 778.3 L599 778.3 L597.5 778.3 L596 778.2 L594.5 778.2 L593 778.2 L591.5 778.2 L590 778.2 Z" fill="#e9a1ce"/>
<path d="M590 778.2 L591.5 778.2 L593 778.2 L594.5 778.2 L596 778.2 L597.5 778.3 L599 778.3 L600.5 778.3 L602 778.3 L603.5 778.3 L605 778.3 L606.5 778.3 L608 778.3 L609.5 778.3 L611 778.4 L612.5 778.4 L614 778.4 L615.5 778.4 L617 778.4 L618.5 778.4 L620 778.4 L621.5 778.4 L623 778.4 L624.5 778.5 L626 778.5 L627.5 778.5 L629 778.5 L630.5 778.5 L632 778.5 L633.5 778.5 L635 778.5 L636.5 778.5 L638 778.5 L639.5 778.6 L641 778.6 L642.5 778.6 L644 778.6 L645.5 778.6 L647 778.6 L648.5 778.6 L650 778.6 L651.5 778.6 L653 778.7 L654.5 778.7 L656 778.7 L657.5 778.7 L659 778.7 L660.5 778.7 L662 778.7 L663.5 778.7 L665 778.7 L666.5 778.8 L668 778.8 L669.5 778.8 L671 778.8 L672.5 778.8 L674 778.8 L675.5 778.8 L677 778.8 L678.5 778.8 L680 778.9 L681.5 778.9 L683 778.9 L684.5 778.9 L686 778.9 L687.5 778.9 L689 778.9 L690.5 778.9 L692 778.9 L693.5 779 L695 779 L696.5 779 L698 779 L699.5 779 L701 779 L702.5 779.1 L704 779.1 L705.5 779.2 L707 779.2 L708.5 779.2 L710 779.3 L711.5 779.3 L713 779.4 L714.5 779.4 L716 779.4 L717.5 779.5 L719 779.5 L720.5 779.6 L722 779.6 L723.5 779.6 L725 779.7 L726.5 779.7 L728 779.7 L729.5 779.8 L731 779.8 L732.5 779.8 L734 779.8 L735.5 779.8 L737 779.8 L738.5 779.8 L740 779.7 L741.5 779.7 L743 779.6 L744.5 779.5 L746 779.4 L747.5 779.3 L749 779.1 L750.5 778.9 L752 778.6 L753.5 778.3 L755 777.9 L756.5 777.4 L758 776.9 L759.5 776.3 L761 775.6 L762.5 774.8 L764 773.9 L765.5 772.8 L767 771.6 L768.5 770.2 L770 768.7 L771.5 767 L773 765.1 L774.5 762.9 L776 760.6 L777.5 758 L779 755.1 L780.5 752 L782 748.6 L783.5 745 L785 741.1 L786.5 736.9 L788 732.4 L789.5 727.6 L791 722.5 L792.5 717.2 L794 711.6 L795.5 705.8 L797 699.7 L798.5 693.5 L800 687 L801.5 680.4 L803 673.7 L804.5 666.8 L806 659.9 L807.5 653 L809 646 L810.5 639.1 L812 632.2 L813.5 625.5 L815 618.9 L816.5 612.5 L818 606.3 L819.5 600.3 L821 594.7 L822.5 589.3 L824 584.3 L825.5 579.7 L827 575.4 L828.5 571.6 L830 568.1 L831.5 565.1 L833 562.5 L834.5 560.3 L836 558.5 L837.5 557.2 L839 556.2 L840.5 555.6 L842 555.3 L843.5 555.3 L845 555.4 L846.5 555.8 L848 556.4 L849.5 557.4 L851 558.8 L852.5 560.6 L854 562.7 L855.5 565.3 L857 568.2 L858.5 571.6 L860 575.4 L861.5 579.5 L863 584.1 L864.5 589 L866 594.3 L867.5 599.9 L869 605.8 L870.5 611.9 L872 618.3 L873.5 624.9 L875 631.6 L876.5 638.5 L878 645.4 L879.5 652.4 L881 659.5 L882.5 666.5 L884 673.4 L885.5 680.3 L887 687.1 L888.5 693.7 L890 700.2 L891.5 706.5 L893 712.6 L894.5 718.4 L896 724 L897.5 729.4 L899 734.5 L900.5 739.3 L902 743.8 L903.5 748.1 L905 752 L906.5 755.7 L908 759.1 L909.5 762.3 L911 765.2 L912.5 767.9 L914 770.3 L915.5 772.5 L917 774.5 L918.5 776.3 L920 778 L921.5 779.4 L923 780.7 L924.5 781.9 L926 782.9 L927.5 783.8 L929 784.6 L930.5 785.3 L932 785.9 L933.5 786.4 L935 786.8 L936.5 787.2 L938 787.6 L939.5 787.9 L941 788.1 L942.5 788.3 L944 788.5 L945.5 788.6 L947 788.8 L948.5 788.9 L950 789 L951.5 789.1 L953 789.1 L954.5 789.2 L956 789.2 L957.5 789.3 L959 789.3 L960.5 789.3 L962 789.4 L963.5 789.4 L965 789.4 L966.5 789.4 L968 789.4 L969.5 789.4 L971 789.4 L972.5 789.5 L974 789.5 L975.5 789.5 L977 789.5 L978.5 789.5 L980 789.5 L981.5 789.5 L983 789.5 L984.5 789.5 L986 789.5 L987.5 789.5 L989 789.5 L990.5 789.6 L992 789.6 L993.5 789.6 L995 789.6 L996.5 789.6 L998 789.6 L999.5 789.6 L1001 789.6 L1002.5 789.6 L1004 789.6 L1005.5 789.6 L1007 789.6 L1008.5 789.6 L1010 789.7 L1011.5 789.7 L1013 789.7 L1014.5 789.7 L1016 789.7 L1017.5 789.7 L1019 789.7 L1020.5 789.7 L1022 789.7 L1023.5 789.7 L1025 789.7 L1026.5 789.7 L1028 789.7 L1029.5 789.8 L1031 789.8 L1032.5 789.8 L1034 789.8 L1035.5 789.8 L1037 789.8 L1038.5 789.8 L1038.5 789.8 L1037 789.8 L1035.5 789.8 L1034 789.8 L1032.5 789.8 L1031 789.8 L1029.5 789.8 L1028 789.7 L1026.5 789.7 L1025 789.7 L1023.5 789.7 L1022 789.7 L1020.5 789.7 L1019 789.7 L1017.5 789.7 L1016 789.7 L1014.5 789.7 L1013 789.7 L1011.5 789.7 L1010 789.7 L1008.5 789.6 L1007 789.6 L1005.5 789.6 L1004 789.6 L1002.5 789.6 L1001 789.6 L999.5 789.6 L998 789.6 L996.5 789.6 L995 789.6 L993.5 789.6 L992 789.6 L990.5 789.6 L989 789.5 L987.5 789.5 L986 789.5 L984.5 789.5 L983 789.5 L981.5 789.5 L980 789.5 L978.5 789.5 L977 789.5 L975.5 789.5 L974 789.5 L972.5 789.5 L971 789.5 L969.5 789.4 L968 789.4 L966.5 789.4 L965 789.4 L963.5 789.4 L962 789.4 L960.5 789.4 L959 789.4 L957.5 789.4 L956 789.4 L954.5 789.4 L953 789.3 L951.5 789.3 L950 789.3 L948.5 789.3 L947 789.3 L945.5 789.3 L944 789.3 L942.5 789.3 L941 789.2 L939.5 789.2 L938 789.2 L936.5 789.2 L935 789.2 L933.5 789.2 L932 789.2 L930.5 789.2 L929 789.1 L927.5 789.1 L926 789.1 L924.5 789.1 L923 789.1 L921.5 789.1 L920 789.1 L918.5 789.1 L917 789 L915.5 789 L914 789 L912.5 789 L911 789 L909.5 789 L908 789 L906.5 789 L905 788.9 L903.5 788.9 L902 788.9 L900.5 788.9 L899 788.8 L897.5 788.8 L896 788.7 L894.5 788.7 L893 788.6 L891.5 788.6 L890 788.5 L888.5 788.4 L887 788.4 L885.5 788.3 L884 788.3 L882.5 788.2 L881 788.1 L879.5 788.1 L878 788 L876.5 787.9 L875 787.8 L873.5 787.7 L872 787.6 L870.5 787.5 L869 787.4 L867.5 787.3 L866 787.2 L864.5 787.1 L863 787 L861.5 786.9 L860 786.8 L858.5 786.7 L857 786.7 L855.5 786.6 L854 786.5 L852.5 786.4 L851 786.3 L849.5 786.2 L848 786.1 L846.5 786 L845 785.9 L843.5 785.8 L842 785.7 L840.5 785.6 L839 785.5 L837.5 785.4 L836 785.3 L834.5 785.2 L833 785.1 L831.5 785 L830 784.9 L828.5 784.8 L827 784.7 L825.5 784.6 L824 784.5 L822.5 784.4 L821 784.3 L819.5 784.2 L818 784.1 L816.5 784 L815 783.9 L813.5 783.8 L812 783.7 L810.5 783.6 L809 783.5 L807.5 783.4 L806 783.3 L804.5 783.2 L803 783.1 L801.5 783 L800 782.9 L798.5 782.8 L797 782.7 L795.5 782.6 L794 782.5 L792.5 782.4 L791 782.4 L789.5 782.3 L788 782.2 L786.5 782.1 L785 782 L783.5 782 L782 781.9 L780.5 781.8 L779 781.7 L777.5 781.6 L776 781.6 L774.5 781.5 L773 781.4 L771.5 781.3 L770 781.2 L768.5 781.2 L767 781.1 L765.5 781 L764 780.9 L762.5 780.8 L761 780.8 L759.5 780.7 L758 780.6 L756.5 780.6 L755 780.6 L753.5 780.5 L752 780.5 L750.5 780.4 L749 780.4 L747.5 780.3 L746 780.3 L744.5 780.3 L743 780.2 L741.5 780.2 L740 780.1 L738.5 780.1 L737 780 L735.5 780 L734 780 L732.5 779.9 L731 779.9 L729.5 779.8 L728 779.8 L726.5 779.8 L725 779.7 L723.5 779.7 L722 779.6 L720.5 779.6 L719 779.5 L717.5 779.5 L716 779.5 L714.5 779.4 L713 779.4 L711.5 779.3 L710 779.3 L708.5 779.2 L707 779.2 L705.5 779.2 L704 779.1 L702.5 779.1 L701 779 L699.5 779 L698 779 L696.5 779 L695 779 L693.5 779 L692 778.9 L690.5 778.9 L689 778.9 L687.5 778.9 L686 778.9 L684.5 778.9 L683 778.9 L681.5 778.9 L680 778.9 L678.5 778.8 L677 778.8 L675.5 778.8 L674 778.8 L672.5 778.8 L671 778.8 L669.5 778.8 L668 778.8 L666.5 778.8 L665 778.7 L663.5 778.7 L662 778.7 L660.5 778.7 L659 778.7 L657.5 778.7 L656 778.7 L654.5 778.7 L653 778.7 L651.5 778.6 L650 778.6 L648.5 778.6 L647 778.6 L645.5 778.6 L644 778.6 L642.5 778.6 L641 778.6 L639.5 778.6 L638 778.5 L636.5 778.5 L635 778.5 L633.5 778.5 L632 778.5 L630.5 778.5 L629 778.5 L627.5 778.5 L626 778.5 L624.5 778.5 L623 778.4 L621.5 778.4 L620 778.4 L618.5 778.4 L617 778.4 L615.5 778.4 L614 778.4 L612.5 778.4 L611 778.4 L609.5 778.3 L608 778.3 L606.5 778.3 L605 778.3 L603.5 778.3 L602 778.3 L600.5 778.3 L599 778.3 L597.5 778.3 L596 778.2 L594.5 778.2 L593 778.2 L591.5 778.2 L590 778.2 Z" fill="#f8b8db" clip-path="url(#cda)"/>
<path d="M590 778.2 L591.5 778.2 L593 778.2 L594.5 778.2 L596 778.2 L597.5 778.3 L599 778.3 L600.5 778.3 L602 778.3 L603.5 778.3 L605 778.3 L606.5 778.3 L608 778.3 L609.5 778.3 L611 778.4 L612.5 778.4 L614 778.4 L615.5 778.4 L617 778.4 L618.5 778.4 L620 778.4 L621.5 778.4 L623 778.4 L624.5 778.5 L626 778.5 L627.5 778.5 L629 778.5 L630.5 778.5 L632 778.5 L633.5 778.5 L635 778.5 L636.5 778.5 L638 778.5 L639.5 778.6 L641 778.6 L642.5 778.6 L644 778.6 L645.5 778.6 L647 778.6 L648.5 778.6 L650 778.6 L651.5 778.6 L653 778.7 L654.5 778.7 L656 778.7 L657.5 778.7 L659 778.7 L660.5 778.7 L662 778.7 L663.5 778.7 L665 778.7 L666.5 778.8 L668 778.8 L669.5 778.8 L671 778.8 L672.5 778.8 L674 778.8 L675.5 778.8 L677 778.8 L678.5 778.8 L680 778.9 L681.5 778.9 L683 778.9 L684.5 778.9 L686 778.9 L687.5 778.9 L689 778.9 L690.5 778.9 L692 778.9 L693.5 779 L695 779 L696.5 779 L698 779 L699.5 779 L701 779 L702.5 779.1 L704 779.1 L705.5 779.2 L707 779.2 L708.5 779.2 L710 779.3 L711.5 779.3 L713 779.4 L714.5 779.4 L716 779.5 L717.5 779.5 L719 779.5 L720.5 779.6 L722 779.6 L723.5 779.7 L725 779.7 L726.5 779.8 L728 779.8 L729.5 779.8 L731 779.9 L732.5 779.9 L734 780 L735.5 780 L737 780 L738.5 780.1 L740 780.1 L741.5 780.2 L743 780.2 L744.5 780.3 L746 780.3 L747.5 780.3 L749 780.4 L750.5 780.4 L752 780.5 L753.5 780.5 L755 780.6 L756.5 780.6 L758 780.6 L759.5 780.7 L761 780.8 L762.5 780.8 L764 780.9 L765.5 781 L767 781.1 L768.5 781.2 L770 781.2 L771.5 781.3 L773 781.4 L774.5 781.5 L776 781.5 L777.5 781.6 L779 781.7 L780.5 781.8 L782 781.9 L783.5 781.9 L785 782 L786.5 782.1 L788 782.2 L789.5 782.2 L791 782.3 L792.5 782.4 L794 782.4 L795.5 782.5 L797 782.6 L798.5 782.6 L800 782.7 L801.5 782.8 L803 782.8 L804.5 782.9 L806 783 L807.5 783 L809 783.1 L810.5 783.1 L812 783.1 L813.5 783.2 L815 783.2 L816.5 783.2 L818 783.2 L819.5 783.2 L821 783.1 L822.5 783.1 L824 783 L825.5 782.9 L827 782.8 L828.5 782.7 L830 782.6 L831.5 782.4 L833 782.2 L834.5 782 L836 781.7 L837.5 781.4 L839 781.1 L840.5 780.7 L842 780.3 L843.5 779.9 L845 779.4 L846.5 778.9 L848 778.3 L849.5 777.7 L851 777.1 L852.5 776.4 L854 775.6 L855.5 774.8 L857 774 L858.5 773.1 L860 772.2 L861.5 771.2 L863 770.2 L864.5 769.1 L866 768 L867.5 766.9 L869 765.7 L870.5 764.5 L872 763.2 L873.5 761.9 L875 760.7 L876.5 759.3 L878 758 L879.5 756.7 L881 755.3 L882.5 754 L884 752.6 L885.5 751.3 L887 750 L888.5 748.7 L890 747.5 L891.5 746.3 L893 745.2 L894.5 744.2 L896 743.2 L897.5 742.2 L899 741.4 L900.5 740.6 L902 739.9 L903.5 739.2 L905 738.7 L906.5 738.2 L908 737.9 L909.5 737.7 L911 737.5 L912.5 737.5 L914 737.6 L915.5 737.8 L917 738 L918.5 738.4 L920 738.9 L921.5 739.4 L923 740.1 L924.5 740.8 L926 741.6 L927.5 742.5 L929 743.5 L930.5 744.5 L932 745.6 L933.5 746.8 L935 748 L936.5 749.2 L938 750.5 L939.5 751.8 L941 753.2 L942.5 754.5 L944 755.9 L945.5 757.3 L947 758.7 L948.5 760.1 L950 761.5 L951.5 762.8 L953 764.2 L954.5 765.5 L956 766.8 L957.5 768.1 L959 769.3 L960.5 770.5 L962 771.7 L963.5 772.8 L965 773.9 L966.5 775 L968 776 L969.5 776.9 L971 777.9 L972.5 778.7 L974 779.5 L975.5 780.3 L977 781.1 L978.5 781.8 L980 782.4 L981.5 783 L983 783.6 L984.5 784.1 L986 784.6 L987.5 785.1 L989 785.5 L990.5 785.9 L992 786.3 L993.5 786.6 L995 786.9 L996.5 787.2 L998 787.4 L999.5 787.7 L1001 787.9 L1002.5 788.1 L1004 788.3 L1005.5 788.4 L1007 788.6 L1008.5 788.7 L1010 788.8 L1011.5 788.9 L1013 789 L1014.5 789.1 L1016 789.2 L1017.5 789.3 L1019 789.3 L1020.5 789.4 L1022 789.4 L1023.5 789.5 L1025 789.5 L1026.5 789.6 L1028 789.6 L1029.5 789.6 L1031 789.6 L1032.5 789.7 L1034 789.7 L1035.5 789.7 L1037 789.7 L1038.5 789.7 L1038.5 789.8 L1037 789.8 L1035.5 789.8 L1034 789.8 L1032.5 789.8 L1031 789.8 L1029.5 789.8 L1028 789.7 L1026.5 789.7 L1025 789.7 L1023.5 789.7 L1022 789.7 L1020.5 789.7 L1019 789.7 L1017.5 789.7 L1016 789.7 L1014.5 789.7 L1013 789.7 L1011.5 789.7 L1010 789.7 L1008.5 789.6 L1007 789.6 L1005.5 789.6 L1004 789.6 L1002.5 789.6 L1001 789.6 L999.5 789.6 L998 789.6 L996.5 789.6 L995 789.6 L993.5 789.6 L992 789.6 L990.5 789.6 L989 789.5 L987.5 789.5 L986 789.5 L984.5 789.5 L983 789.5 L981.5 789.5 L980 789.5 L978.5 789.5 L977 789.5 L975.5 789.5 L974 789.5 L972.5 789.5 L971 789.5 L969.5 789.4 L968 789.4 L966.5 789.4 L965 789.4 L963.5 789.4 L962 789.4 L960.5 789.4 L959 789.4 L957.5 789.4 L956 789.4 L954.5 789.4 L953 789.3 L951.5 789.3 L950 789.3 L948.5 789.3 L947 789.3 L945.5 789.3 L944 789.3 L942.5 789.3 L941 789.2 L939.5 789.2 L938 789.2 L936.5 789.2 L935 789.2 L933.5 789.2 L932 789.2 L930.5 789.2 L929 789.1 L927.5 789.1 L926 789.1 L924.5 789.1 L923 789.1 L921.5 789.1 L920 789.1 L918.5 789.1 L917 789 L915.5 789 L914 789 L912.5 789 L911 789 L909.5 789 L908 789 L906.5 789 L905 788.9 L903.5 788.9 L902 788.9 L900.5 788.9 L899 788.8 L897.5 788.8 L896 788.7 L894.5 788.7 L893 788.6 L891.5 788.6 L890 788.5 L888.5 788.4 L887 788.4 L885.5 788.3 L884 788.3 L882.5 788.2 L881 788.1 L879.5 788.1 L878 788 L876.5 787.9 L875 787.8 L873.5 787.7 L872 787.6 L870.5 787.5 L869 787.4 L867.5 787.3 L866 787.2 L864.5 787.1 L863 787 L861.5 786.9 L860 786.8 L858.5 786.7 L857 786.7 L855.5 786.6 L854 786.5 L852.5 786.4 L851 786.3 L849.5 786.2 L848 786.1 L846.5 786 L845 785.9 L843.5 785.8 L842 785.7 L840.5 785.6 L839 785.5 L837.5 785.4 L836 785.3 L834.5 785.2 L833 785.1 L831.5 785 L830 784.9 L828.5 784.8 L827 784.7 L825.5 784.6 L824 784.5 L822.5 784.4 L821 784.3 L819.5 784.2 L818 784.1 L816.5 784 L815 783.9 L813.5 783.8 L812 783.7 L810.5 783.6 L809 783.5 L807.5 783.4 L806 783.3 L804.5 783.2 L803 783.1 L801.5 783 L800 782.9 L798.5 782.8 L797 782.7 L795.5 782.6 L794 782.5 L792.5 782.4 L791 782.4 L789.5 782.3 L788 782.2 L786.5 782.1 L785 782 L783.5 782 L782 781.9 L780.5 781.8 L779 781.7 L777.5 781.6 L776 781.6 L774.5 781.5 L773 781.4 L771.5 781.3 L770 781.2 L768.5 781.2 L767 781.1 L765.5 781 L764 780.9 L762.5 780.8 L761 780.8 L759.5 780.7 L758 780.6 L756.5 780.6 L755 780.6 L753.5 780.5 L752 780.5 L750.5 780.4 L749 780.4 L747.5 780.3 L746 780.3 L744.5 780.3 L743 780.2 L741.5 780.2 L740 780.1 L738.5 780.1 L737 780 L735.5 780 L734 780 L732.5 779.9 L731 779.9 L729.5 779.8 L728 779.8 L726.5 779.8 L725 779.7 L723.5 779.7 L722 779.6 L720.5 779.6 L719 779.5 L717.5 779.5 L716 779.5 L714.5 779.4 L713 779.4 L711.5 779.3 L710 779.3 L708.5 779.2 L707 779.2 L705.5 779.2 L704 779.1 L702.5 779.1 L701 779 L699.5 779 L698 779 L696.5 779 L695 779 L693.5 779 L692 778.9 L690.5 778.9 L689 778.9 L687.5 778.9 L686 778.9 L684.5 778.9 L683 778.9 L681.5 778.9 L680 778.9 L678.5 778.8 L677 778.8 L675.5 778.8 L674 778.8 L672.5 778.8 L671 778.8 L669.5 778.8 L668 778.8 L666.5 778.8 L665 778.7 L663.5 778.7 L662 778.7 L660.5 778.7 L659 778.7 L657.5 778.7 L656 778.7 L654.5 778.7 L653 778.7 L651.5 778.6 L650 778.6 L648.5 778.6 L647 778.6 L645.5 778.6 L644 778.6 L642.5 778.6 L641 778.6 L639.5 778.6 L638 778.5 L636.5 778.5 L635 778.5 L633.5 778.5 L632 778.5 L630.5 778.5 L629 778.5 L627.5 778.5 L626 778.5 L624.5 778.5 L623 778.4 L621.5 778.4 L620 778.4 L618.5 778.4 L617 778.4 L615.5 778.4 L614 778.4 L612.5 778.4 L611 778.4 L609.5 778.3 L608 778.3 L606.5 778.3 L605 778.3 L603.5 778.3 L602 778.3 L600.5 778.3 L599 778.3 L597.5 778.3 L596 778.2 L594.5 778.2 L593 778.2 L591.5 778.2 L590 778.2 Z" fill="#ccd0e8"/>
<path d="M590 778.2 L591.5 778.2 L593 778.2 L594.5 778.2 L596 778.2 L597.5 778.3 L599 778.3 L600.5 778.3 L602 778.3 L603.5 778.3 L605 778.3 L606.5 778.3 L608 778.3 L609.5 778.3 L611 778.4 L612.5 778.4 L614 778.4 L615.5 778.4 L617 778.4 L618.5 778.4 L620 778.4 L621.5 778.4 L623 778.4 L624.5 778.5 L626 778.5 L627.5 778.5 L629 778.5 L630.5 778.5 L632 778.5 L633.5 778.5 L635 778.5 L636.5 778.5 L638 778.5 L639.5 778.6 L641 778.6 L642.5 778.6 L644 778.6 L645.5 778.6 L647 778.6 L648.5 778.6 L650 778.6 L651.5 778.6 L653 778.7 L654.5 778.7 L656 778.7 L657.5 778.7 L659 778.7 L660.5 778.7 L662 778.7 L663.5 778.7 L665 778.7 L666.5 778.8 L668 778.8 L669.5 778.8 L671 778.8 L672.5 778.8 L674 778.8 L675.5 778.8 L677 778.8 L678.5 778.8 L680 778.9 L681.5 778.9 L683 778.9 L684.5 778.9 L686 778.9 L687.5 778.9 L689 778.9 L690.5 778.9 L692 778.9 L693.5 779 L695 779 L696.5 779 L698 779 L699.5 779 L701 779 L702.5 779.1 L704 779.1 L705.5 779.2 L707 779.2 L708.5 779.2 L710 779.3 L711.5 779.3 L713 779.4 L714.5 779.4 L716 779.5 L717.5 779.5 L719 779.5 L720.5 779.6 L722 779.6 L723.5 779.7 L725 779.7 L726.5 779.8 L728 779.8 L729.5 779.8 L731 779.9 L732.5 779.9 L734 780 L735.5 780 L737 780 L738.5 780.1 L740 780.1 L741.5 780.2 L743 780.2 L744.5 780.3 L746 780.3 L747.5 780.3 L749 780.4 L750.5 780.4 L752 780.5 L753.5 780.5 L755 780.6 L756.5 780.6 L758 780.6 L759.5 780.7 L761 780.8 L762.5 780.8 L764 780.9 L765.5 781 L767 781.1 L768.5 781.2 L770 781.2 L771.5 781.3 L773 781.4 L774.5 781.5 L776 781.5 L777.5 781.6 L779 781.7 L780.5 781.8 L782 781.9 L783.5 781.9 L785 782 L786.5 782.1 L788 782.2 L789.5 782.2 L791 782.3 L792.5 782.4 L794 782.4 L795.5 782.5 L797 782.6 L798.5 782.6 L800 782.7 L801.5 782.8 L803 782.8 L804.5 782.9 L806 783 L807.5 783 L809 783.1 L810.5 783.1 L812 783.1 L813.5 783.2 L815 783.2 L816.5 783.2 L818 783.2 L819.5 783.2 L821 783.1 L822.5 783.1 L824 783 L825.5 782.9 L827 782.8 L828.5 782.7 L830 782.6 L831.5 782.4 L833 782.2 L834.5 782 L836 781.7 L837.5 781.4 L839 781.1 L840.5 780.7 L842 780.3 L843.5 779.9 L845 779.4 L846.5 778.9 L848 778.3 L849.5 777.7 L851 777.1 L852.5 776.4 L854 775.6 L855.5 774.8 L857 774 L858.5 773.1 L860 772.2 L861.5 771.2 L863 770.2 L864.5 769.1 L866 768 L867.5 766.9 L869 765.7 L870.5 764.5 L872 763.2 L873.5 761.9 L875 760.7 L876.5 759.3 L878 758 L879.5 756.7 L881 755.3 L882.5 754 L884 752.6 L885.5 751.3 L887 750 L888.5 748.7 L890 747.5 L891.5 746.3 L893 745.2 L894.5 744.2 L896 743.2 L897.5 742.2 L899 741.4 L900.5 740.6 L902 739.9 L903.5 739.2 L905 738.7 L906.5 738.2 L908 737.9 L909.5 737.7 L911 737.5 L912.5 737.5 L914 737.6 L915.5 737.8 L917 738 L918.5 738.4 L920 738.9 L921.5 739.4 L923 740.1 L924.5 740.8 L926 741.6 L927.5 742.5 L929 743.5 L930.5 744.5 L932 745.6 L933.5 746.8 L935 748 L936.5 749.2 L938 750.5 L939.5 751.8 L941 753.2 L942.5 754.5 L944 755.9 L945.5 757.3 L947 758.7 L948.5 760.1 L950 761.5 L951.5 762.8 L953 764.2 L954.5 765.5 L956 766.8 L957.5 768.1 L959 769.3 L960.5 770.5 L962 771.7 L963.5 772.8 L965 773.9 L966.5 775 L968 776 L969.5 776.9 L971 777.9 L972.5 778.7 L974 779.5 L975.5 780.3 L977 781.1 L978.5 781.8 L980 782.4 L981.5 783 L983 783.6 L984.5 784.1 L986 784.6 L987.5 785.1 L989 785.5 L990.5 785.9 L992 786.3 L993.5 786.6 L995 786.9 L996.5 787.2 L998 787.4 L999.5 787.7 L1001 787.9 L1002.5 788.1 L1004 788.3 L1005.5 788.4 L1007 788.6 L1008.5 788.7 L1010 788.8 L1011.5 788.9 L1013 789 L1014.5 789.1 L1016 789.2 L1017.5 789.3 L1019 789.3 L1020.5 789.4 L1022 789.4 L1023.5 789.5 L1025 789.5 L1026.5 789.6 L1028 789.6 L1029.5 789.6 L1031 789.6 L1032.5 789.7 L1034 789.7 L1035.5 789.7 L1037 789.7 L1038.5 789.7 L1038.5 789.8 L1037 789.8 L1035.5 789.8 L1034 789.8 L1032.5 789.8 L1031 789.8 L1029.5 789.8 L1028 789.7 L1026.5 789.7 L1025 789.7 L1023.5 789.7 L1022 789.7 L1020.5 789.7 L1019 789.7 L1017.5 789.7 L1016 789.7 L1014.5 789.7 L1013 789.7 L1011.5 789.7 L1010 789.7 L1008.5 789.6 L1007 789.6 L1005.5 789.6 L1004 789.6 L1002.5 789.6 L1001 789.6 L999.5 789.6 L998 789.6 L996.5 789.6 L995 789.6 L993.5 789.6 L992 789.6 L990.5 789.6 L989 789.5 L987.5 789.5 L986 789.5 L984.5 789.5 L983 789.5 L981.5 789.5 L980 789.5 L978.5 789.5 L977 789.5 L975.5 789.5 L974 789.5 L972.5 789.5 L971 789.5 L969.5 789.4 L968 789.4 L966.5 789.4 L965 789.4 L963.5 789.4 L962 789.4 L960.5 789.4 L959 789.4 L957.5 789.4 L956 789.4 L954.5 789.4 L953 789.3 L951.5 789.3 L950 789.3 L948.5 789.3 L947 789.3 L945.5 789.3 L944 789.3 L942.5 789.3 L941 789.2 L939.5 789.2 L938 789.2 L936.5 789.2 L935 789.2 L933.5 789.2 L932 789.2 L930.5 789.2 L929 789.1 L927.5 789.1 L926 789.1 L924.5 789.1 L923 789.1 L921.5 789.1 L920 789.1 L918.5 789.1 L917 789 L915.5 789 L914 789 L912.5 789 L911 789 L909.5 789 L908 789 L906.5 789 L905 788.9 L903.5 788.9 L902 788.9 L900.5 788.9 L899 788.8 L897.5 788.8 L896 788.7 L894.5 788.7 L893 788.6 L891.5 788.6 L890 788.5 L888.5 788.4 L887 788.4 L885.5 788.3 L884 788.3 L882.5 788.2 L881 788.1 L879.5 788.1 L878 788 L876.5 787.9 L875 787.8 L873.5 787.7 L872 787.6 L870.5 787.5 L869 787.4 L867.5 787.3 L866 787.2 L864.5 787.1 L863 787 L861.5 786.9 L860 786.8 L858.5 786.7 L857 786.7 L855.5 786.6 L854 786.5 L852.5 786.4 L851 786.3 L849.5 786.2 L848 786.1 L846.5 786 L845 785.9 L843.5 785.8 L842 785.7 L840.5 785.6 L839 785.5 L837.5 785.4 L836 785.3 L834.5 785.2 L833 785.1 L831.5 785 L830 784.9 L828.5 784.8 L827 784.7 L825.5 784.6 L824 784.5 L822.5 784.4 L821 784.3 L819.5 784.2 L818 784.1 L816.5 784 L815 783.9 L813.5 783.8 L812 783.7 L810.5 783.6 L809 783.5 L807.5 783.4 L806 783.3 L804.5 783.2 L803 783.1 L801.5 783 L800 782.9 L798.5 782.8 L797 782.7 L795.5 782.6 L794 782.5 L792.5 782.4 L791 782.4 L789.5 782.3 L788 782.2 L786.5 782.1 L785 782 L783.5 782 L782 781.9 L780.5 781.8 L779 781.7 L777.5 781.6 L776 781.6 L774.5 781.5 L773 781.4 L771.5 781.3 L770 781.2 L768.5 781.2 L767 781.1 L765.5 781 L764 780.9 L762.5 780.8 L761 780.8 L759.5 780.7 L758 780.6 L756.5 780.6 L755 780.6 L753.5 780.5 L752 780.5 L750.5 780.4 L749 780.4 L747.5 780.3 L746 780.3 L744.5 780.3 L743 780.2 L741.5 780.2 L740 780.1 L738.5 780.1 L737 780 L735.5 780 L734 780 L732.5 779.9 L731 779.9 L729.5 779.8 L728 779.8 L726.5 779.8 L725 779.7 L723.5 779.7 L722 779.6 L720.5 779.6 L719 779.5 L717.5 779.5 L716 779.5 L714.5 779.4 L713 779.4 L711.5 779.3 L710 779.3 L708.5 779.2 L707 779.2 L705.5 779.2 L704 779.1 L702.5 779.1 L701 779 L699.5 779 L698 779 L696.5 779 L695 779 L693.5 779 L692 778.9 L690.5 778.9 L689 778.9 L687.5 778.9 L686 778.9 L684.5 778.9 L683 778.9 L681.5 778.9 L680 778.9 L678.5 778.8 L677 778.8 L675.5 778.8 L674 778.8 L672.5 778.8 L671 778.8 L669.5 778.8 L668 778.8 L666.5 778.8 L665 778.7 L663.5 778.7 L662 778.7 L660.5 778.7 L659 778.7 L657.5 778.7 L656 778.7 L654.5 778.7 L653 778.7 L651.5 778.6 L650 778.6 L648.5 778.6 L647 778.6 L645.5 778.6 L644 778.6 L642.5 778.6 L641 778.6 L639.5 778.6 L638 778.5 L636.5 778.5 L635 778.5 L633.5 778.5 L632 778.5 L630.5 778.5 L629 778.5 L627.5 778.5 L626 778.5 L624.5 778.5 L623 778.4 L621.5 778.4 L620 778.4 L618.5 778.4 L617 778.4 L615.5 778.4 L614 778.4 L612.5 778.4 L611 778.4 L609.5 778.3 L608 778.3 L606.5 778.3 L605 778.3 L603.5 778.3 L602 778.3 L600.5 778.3 L599 778.3 L597.5 778.3 L596 778.2 L594.5 778.2 L593 778.2 L591.5 778.2 L590 778.2 Z" fill="#c6d1ea" clip-path="url(#cdb)"/>
<path d="M590 778 L591.5 778 L593 778 L594.5 778 L596 778 L597.5 778 L599 778 L600.5 778 L602 778 L603.5 778 L605 778 L606.5 778 L608 778 L609.5 778 L611 778 L612.5 778 L614 778 L615.5 778 L617 778 L618.5 778 L620 778 L621.5 778 L623 778 L624.5 778 L626 778 L627.5 778 L629 777.9 L630.5 777.8 L632 777.7 L633.5 777.7 L635 777.6 L636.5 777.5 L638 777.4 L639.5 777.3 L641 777.3 L642.5 777.2 L644 777.1 L645.5 777 L647 776.9 L648.5 776.8 L650 776.7 L651.5 776.6 L653 776.5 L654.5 776.4 L656 776.3 L657.5 776.3 L659 776.2 L660.5 776.1 L662 776 L663.5 775.8 L665 775.6 L666.5 775.3 L668 774.9 L669.5 774.5 L671 774.1 L672.5 773.8 L674 773.4 L675.5 773 L677 772.6 L678.5 772.2 L680 771.8 L681.5 771.4 L683 771 L684.5 770.6 L686 770.1 L687.5 769.7 L689 769.3 L690.5 768.9 L692 768.4 L693.5 768 L695 767.6 L696.5 767.2 L698 766.9 L699.5 766.5 L701 766.1 L702.5 765.8 L704 765.4 L705.5 764.7 L707 763.9 L708.5 762.7 L710 761.6 L711.5 760.5 L713 759.4 L714.5 758.2 L716 757.1 L717.5 756 L719 754.8 L720.5 753.5 L722 752 L723.5 750.4 L725 748.7 L726.5 747.1 L728 745.4 L729.5 743.8 L731 742.1 L732.5 740.5 L734 738.8 L735.5 737.2 L737 735.5 L738.5 733.8 L740 731.9 L741.5 729.8 L743 727.7 L744.5 725.6 L746 723.5 L747.5 721.4 L749 719.3 L750.5 717.2 L752 715.1 L753.5 713 L755 710.9 L756.5 708.8 L758 706.9 L759.5 705.3 L761 703.8 L762.5 702.3 L764 700.8 L765.5 699.3 L767 697.9 L768.5 696.6 L770 695.4 L771.5 694.2 L773 693 L774.5 691.9 L776 690.4 L777.5 688.8 L779 686.9 L780.5 685.1 L782 683.5 L783.5 682 L785 680.5 L786.5 679 L788 677.4 L789.5 675.7 L791 673.9 L792.5 672 L794 670.2 L795.5 668.3 L797 666.1 L798.5 663.6 L800 660.7 L801.5 657.6 L803 654.6 L804.5 651.4 L806 647.7 L807.5 643.7 L809 639.5 L810.5 634.8 L812 629.3 L813.5 623.3 L815 617.2 L816.5 611.3 L818 605.3 L819.5 599.3 L821 593.3 L822.5 587.3 L824 581.4 L825.5 575.8 L827 570.5 L828.5 565.3 L830 560.3 L831.5 555.4 L833 550.7 L834.5 546.9 L836 544 L837.5 542.1 L839 540.5 L840.5 539.3 L842 538.7 L843.5 538.4 L845 538.6 L846.5 539.1 L848 540 L849.5 541.3 L851 543.4 L852.5 546.2 L854 549.8 L855.5 553.8 L857 557.7 L858.5 562.2 L860 567.2 L861.5 572.7 L863 578.2 L864.5 583.8 L866 589.7 L867.5 595.6 L869 601.3 L870.5 606.7 L872 611.8 L873.5 616.8 L875 621.8 L876.5 626.8 L878 631.9 L879.5 636.9 L881 641.9 L882.5 646.9 L884 651.9 L885.5 656.8 L887 661.8 L888.5 666.3 L890 670.5 L891.5 674.1 L893 677.7 L894.5 681.2 L896 684.8 L897.5 688.5 L899 692 L900.5 695.3 L902 698.4 L903.5 701.3 L905 704.2 L906.5 706.8 L908 709.3 L909.5 711.8 L911 714.2 L912.5 716.3 L914 718.3 L915.5 720 L917 721.8 L918.5 723.5 L920 725.2 L921.5 726.9 L923 728.4 L924.5 729.9 L926 731.4 L927.5 732.9 L929 734.4 L930.5 735.8 L932 737.2 L933.5 738.4 L935 739.7 L936.5 741 L938 742.3 L939.5 743.6 L941 745 L942.5 746.4 L944 747.9 L945.5 749.5 L947 751 L948.5 752.5 L950 754 L951.5 755.4 L953 756.8 L954.5 758.2 L956 759.6 L957.5 761 L959 762.4 L960.5 763.8 L962 765.1 L963.5 766.5 L965 767.9 L966.5 769.3 L968 770.7 L969.5 771.9 L971 772.9 L972.5 773.6 L974 774.4 L975.5 775.1 L977 775.9 L978.5 776.6 L980 777.4 L981.5 778.1 L983 778.8 L984.5 779.4 L986 780.1 L987.5 780.8 L989 781.4 L990.5 782.1 L992 782.8 L993.5 783.3 L995 783.7 L996.5 784 L998 784.3 L999.5 784.6 L1001 784.9 L1002.5 785.2 L1004 785.5 L1005.5 785.8 L1007 786 L1008.5 786.2 L1010 786.4 L1011.5 786.5 L1013 786.7 L1014.5 786.8 L1016 787 L1017.5 787.1 L1019 787.3 L1020.5 787.4 L1022 787.5 L1023.5 787.6 L1025 787.6 L1026.5 787.6 L1028 787.7 L1029.5 787.7 L1031 787.8 L1032.5 787.8 L1034 787.9 L1035.5 787.9 L1037 787.9 L1038.5 788" fill="none" stroke="#a9a9a9" stroke-width="3.4" stroke-dasharray="3 4"/>
<path d="M590 778.2 L591.5 778.2 L593 778.2 L594.5 778.2 L596 778.2 L597.5 778.3 L599 778.3 L600.5 778.3 L602 778.3 L603.5 778.3 L605 778.3 L606.5 778.3 L608 778.3 L609.5 778.3 L611 778.4 L612.5 778.4 L614 778.4 L615.5 778.4 L617 778.4 L618.5 778.4 L620 778.4 L621.5 778.4 L623 778.4 L624.5 778.4 L626 778.4 L627.5 778.5 L629 778.5 L630.5 778.5 L632 778.5 L633.5 778.5 L635 778.5 L636.5 778.5 L638 778.5 L639.5 778.5 L641 778.5 L642.5 778.5 L644 778.5 L645.5 778.5 L647 778.5 L648.5 778.5 L650 778.5 L651.5 778.4 L653 778.4 L654.5 778.4 L656 778.4 L657.5 778.3 L659 778.3 L660.5 778.2 L662 778.2 L663.5 778.1 L665 778 L666.5 778 L668 777.9 L669.5 777.7 L671 777.6 L672.5 777.5 L674 777.3 L675.5 777.1 L677 776.9 L678.5 776.7 L680 776.4 L681.5 776.2 L683 775.9 L684.5 775.5 L686 775.1 L687.5 774.7 L689 774.3 L690.5 773.8 L692 773.3 L693.5 772.7 L695 772 L696.5 771.4 L698 770.6 L699.5 769.8 L701 769 L702.5 768.1 L704 767.2 L705.5 766.1 L707 765.1 L708.5 763.9 L710 762.7 L711.5 761.4 L713 760 L714.5 758.6 L716 757 L717.5 755.4 L719 753.8 L720.5 752 L722 750.2 L723.5 748.3 L725 746.4 L726.5 744.4 L728 742.3 L729.5 740.2 L731 738 L732.5 735.8 L734 733.5 L735.5 731.2 L737 728.9 L738.5 726.6 L740 724.2 L741.5 721.9 L743 719.5 L744.5 717.2 L746 714.9 L747.5 712.6 L749 710.4 L750.5 708.2 L752 706.1 L753.5 704 L755 702.1 L756.5 700.2 L758 698.4 L759.5 696.8 L761 695.3 L762.5 693.9 L764 692.6 L765.5 691.5 L767 690.5 L768.5 689.7 L770 689.1 L771.5 688.6 L773 688.2 L774.5 688.1 L776 688.1 L777.5 688.2 L779 688.6 L780.5 689.1 L782 689.7 L783.5 690.6 L785 691.6 L786.5 692.7 L788 694 L789.5 695.5 L791 697.1 L792.5 698.8 L794 700.6 L795.5 702.5 L797 704.6 L798.5 706.7 L800 709 L801.5 711.3 L803 713.6 L804.5 716 L806 718.5 L807.5 721 L809 723.5 L810.5 726 L812 728.6 L813.5 731.1 L815 733.6 L816.5 736.1 L818 738.5 L819.5 741 L821 743.3 L822.5 745.7 L824 747.9 L825.5 750.2 L827 752.3 L828.5 754.4 L830 756.4 L831.5 758.4 L833 760.2 L834.5 762 L836 763.7 L837.5 765.4 L839 766.9 L840.5 768.4 L842 769.9 L843.5 771.2 L845 772.5 L846.5 773.7 L848 774.8 L849.5 775.8 L851 776.8 L852.5 777.8 L854 778.6 L855.5 779.5 L857 780.2 L858.5 780.9 L860 781.6 L861.5 782.2 L863 782.8 L864.5 783.3 L866 783.8 L867.5 784.3 L869 784.7 L870.5 785.1 L872 785.5 L873.5 785.8 L875 786.1 L876.5 786.4 L878 786.7 L879.5 786.9 L881 787.1 L882.5 787.3 L884 787.5 L885.5 787.6 L887 787.8 L888.5 787.9 L890 788 L891.5 788.2 L893 788.3 L894.5 788.4 L896 788.5 L897.5 788.6 L899 788.7 L900.5 788.7 L902 788.8 L903.5 788.8 L905 788.8 L906.5 788.9 L908 788.9 L909.5 788.9 L911 788.9 L912.5 789 L914 789 L915.5 789 L917 789 L918.5 789 L920 789 L921.5 789.1 L923 789.1 L924.5 789.1 L926 789.1 L927.5 789.1 L929 789.1 L930.5 789.1 L932 789.2 L933.5 789.2 L935 789.2 L936.5 789.2 L938 789.2 L939.5 789.2 L941 789.2 L942.5 789.3 L944 789.3 L945.5 789.3 L947 789.3 L948.5 789.3 L950 789.3 L951.5 789.3 L953 789.3 L954.5 789.4 L956 789.4 L957.5 789.4 L959 789.4 L960.5 789.4 L962 789.4 L963.5 789.4 L965 789.4 L966.5 789.4 L968 789.4 L969.5 789.4 L971 789.5 L972.5 789.5 L974 789.5 L975.5 789.5 L977 789.5 L978.5 789.5 L980 789.5 L981.5 789.5 L983 789.5 L984.5 789.5 L986 789.5 L987.5 789.5 L989 789.5 L990.5 789.6 L992 789.6 L993.5 789.6 L995 789.6 L996.5 789.6 L998 789.6 L999.5 789.6 L1001 789.6 L1002.5 789.6 L1004 789.6 L1005.5 789.6 L1007 789.6 L1008.5 789.6 L1010 789.7 L1011.5 789.7 L1013 789.7 L1014.5 789.7 L1016 789.7 L1017.5 789.7 L1019 789.7 L1020.5 789.7 L1022 789.7 L1023.5 789.7 L1025 789.7 L1026.5 789.7 L1028 789.7 L1029.5 789.8 L1031 789.8 L1032.5 789.8 L1034 789.8 L1035.5 789.8 L1037 789.8 L1038.5 789.8" fill="none" stroke="#c9a2d9" stroke-width="4" mask="url(#mdb)"/>
<path d="M791 697.1 L792.5 698.8 L794 700.6 L795.5 702.5 L797 704.6 L798.5 706.7 L800 709 L801.5 711.3 L803 713.6 L804.5 716 L806 718.5 L807.5 721 L809 723.5 L810.5 726 L812 728.6 L813.5 731.1 L815 733.6 L816.5 736.1 L818 738.5 L819.5 741 L821 743.3 L822.5 745.7 L824 747.9 L825.5 750.2 L827 752.3 L828.5 754.4 L830 756.4 L831.5 758.4 L833 760.2 L834.5 762 L836 763.7 L837.5 765.4 L839 766.9 L840.5 768.4 L842 769.9 L843.5 771.2 L845 772.5 L846.5 773.7 L848 774.8 L849.5 775.8 L851 776.8 L852.5 777.8 L854 778.6 L855.5 779.5 L857 780.2 L858.5 780.9 L860 781.6 L861.5 782.2 L863 782.8 L864.5 783.3 L866 783.8 L867.5 784.3 L869 784.7 L870.5 785.1 L872 785.5 L873.5 785.8 L875 786.1 L876.5 786.4 L878 786.7 L879.5 786.9" fill="none" stroke="#e39bcc" stroke-width="4" clip-path="url(#cdb)"/>
<path d="M590 778.2 L591.5 778.2 L593 778.2 L594.5 778.2 L596 778.2 L597.5 778.3 L599 778.3 L600.5 778.3 L602 778.3 L603.5 778.3 L605 778.3 L606.5 778.3 L608 778.3 L609.5 778.3 L611 778.4 L612.5 778.4 L614 778.4 L615.5 778.4 L617 778.4 L618.5 778.4 L620 778.4 L621.5 778.4 L623 778.4 L624.5 778.5 L626 778.5 L627.5 778.5 L629 778.5 L630.5 778.5 L632 778.5 L633.5 778.5 L635 778.5 L636.5 778.5 L638 778.5 L639.5 778.6 L641 778.6 L642.5 778.6 L644 778.6 L645.5 778.6 L647 778.6 L648.5 778.6 L650 778.6 L651.5 778.6 L653 778.7 L654.5 778.7 L656 778.7 L657.5 778.7 L659 778.7 L660.5 778.7 L662 778.7 L663.5 778.7 L665 778.7 L666.5 778.8 L668 778.8 L669.5 778.8 L671 778.8 L672.5 778.8 L674 778.8 L675.5 778.8 L677 778.8 L678.5 778.8 L680 778.9 L681.5 778.9 L683 778.9 L684.5 778.9 L686 778.9 L687.5 778.9 L689 778.9 L690.5 778.9 L692 778.9 L693.5 779 L695 779 L696.5 779 L698 779 L699.5 779 L701 779 L702.5 779.1 L704 779.1 L705.5 779.2 L707 779.2 L708.5 779.2 L710 779.3 L711.5 779.3 L713 779.4 L714.5 779.4 L716 779.4 L717.5 779.5 L719 779.5 L720.5 779.6 L722 779.6 L723.5 779.6 L725 779.7 L726.5 779.7 L728 779.7 L729.5 779.8 L731 779.8 L732.5 779.8 L734 779.8 L735.5 779.8 L737 779.8 L738.5 779.8 L740 779.7 L741.5 779.7 L743 779.6 L744.5 779.5 L746 779.4 L747.5 779.3 L749 779.1 L750.5 778.9 L752 778.6 L753.5 778.3 L755 777.9 L756.5 777.4 L758 776.9 L759.5 776.3 L761 775.6 L762.5 774.8 L764 773.9 L765.5 772.8 L767 771.6 L768.5 770.2 L770 768.7 L771.5 767 L773 765.1 L774.5 762.9 L776 760.6 L777.5 758 L779 755.1 L780.5 752 L782 748.6 L783.5 745 L785 741.1 L786.5 736.9 L788 732.4 L789.5 727.6 L791 722.5 L792.5 717.2 L794 711.6 L795.5 705.8 L797 699.7 L798.5 693.5 L800 687 L801.5 680.4 L803 673.7 L804.5 666.8 L806 659.9 L807.5 653 L809 646 L810.5 639.1 L812 632.2 L813.5 625.5 L815 618.9 L816.5 612.5 L818 606.3 L819.5 600.3 L821 594.7 L822.5 589.3 L824 584.3 L825.5 579.7 L827 575.4 L828.5 571.6 L830 568.1 L831.5 565.1 L833 562.5 L834.5 560.3 L836 558.5 L837.5 557.2 L839 556.2 L840.5 555.6 L842 555.3 L843.5 555.3 L845 555.4 L846.5 555.8 L848 556.4 L849.5 557.4 L851 558.8 L852.5 560.6 L854 562.7 L855.5 565.3 L857 568.2 L858.5 571.6 L860 575.4 L861.5 579.5 L863 584.1 L864.5 589 L866 594.3 L867.5 599.9 L869 605.8 L870.5 611.9 L872 618.3 L873.5 624.9 L875 631.6 L876.5 638.5 L878 645.4 L879.5 652.4 L881 659.5 L882.5 666.5 L884 673.4 L885.5 680.3 L887 687.1 L888.5 693.7 L890 700.2 L891.5 706.5 L893 712.6 L894.5 718.4 L896 724 L897.5 729.4 L899 734.5 L900.5 739.3 L902 743.8 L903.5 748.1 L905 752 L906.5 755.7 L908 759.1 L909.5 762.3 L911 765.2 L912.5 767.9 L914 770.3 L915.5 772.5 L917 774.5 L918.5 776.3 L920 778 L921.5 779.4 L923 780.7 L924.5 781.9 L926 782.9 L927.5 783.8 L929 784.6 L930.5 785.3 L932 785.9 L933.5 786.4 L935 786.8 L936.5 787.2 L938 787.6 L939.5 787.9 L941 788.1 L942.5 788.3 L944 788.5 L945.5 788.6 L947 788.8 L948.5 788.9 L950 789 L951.5 789.1 L953 789.1 L954.5 789.2 L956 789.2 L957.5 789.3 L959 789.3 L960.5 789.3 L962 789.4 L963.5 789.4 L965 789.4 L966.5 789.4 L968 789.4 L969.5 789.4 L971 789.4 L972.5 789.5 L974 789.5 L975.5 789.5 L977 789.5 L978.5 789.5 L980 789.5 L981.5 789.5 L983 789.5 L984.5 789.5 L986 789.5 L987.5 789.5 L989 789.5 L990.5 789.6 L992 789.6 L993.5 789.6 L995 789.6 L996.5 789.6 L998 789.6 L999.5 789.6 L1001 789.6 L1002.5 789.6 L1004 789.6 L1005.5 789.6 L1007 789.6 L1008.5 789.6 L1010 789.7 L1011.5 789.7 L1013 789.7 L1014.5 789.7 L1016 789.7 L1017.5 789.7 L1019 789.7 L1020.5 789.7 L1022 789.7 L1023.5 789.7 L1025 789.7 L1026.5 789.7 L1028 789.7 L1029.5 789.8 L1031 789.8 L1032.5 789.8 L1034 789.8 L1035.5 789.8 L1037 789.8 L1038.5 789.8" fill="none" stroke="#e8737f" stroke-width="4" mask="url(#mdc)"/>
<path d="M590 778.2 L591.5 778.2 L593 778.2 L594.5 778.2 L596 778.2 L597.5 778.3 L599 778.3 L600.5 778.3 L602 778.3 L603.5 778.3 L605 778.3 L606.5 778.3 L608 778.3 L609.5 778.3 L611 778.4 L612.5 778.4 L614 778.4 L615.5 778.4 L617 778.4 L618.5 778.4 L620 778.4 L621.5 778.4 L623 778.4 L624.5 778.5 L626 778.5 L627.5 778.5 L629 778.5 L630.5 778.5 L632 778.5 L633.5 778.5 L635 778.5 L636.5 778.5 L638 778.5 L639.5 778.6 L641 778.6 L642.5 778.6 L644 778.6 L645.5 778.6 L647 778.6 L648.5 778.6 L650 778.6 L651.5 778.6 L653 778.7 L654.5 778.7 L656 778.7 L657.5 778.7 L659 778.7 L660.5 778.7 L662 778.7 L663.5 778.7 L665 778.7 L666.5 778.8 L668 778.8 L669.5 778.8 L671 778.8 L672.5 778.8 L674 778.8 L675.5 778.8 L677 778.8 L678.5 778.8 L680 778.9 L681.5 778.9 L683 778.9 L684.5 778.9 L686 778.9 L687.5 778.9 L689 778.9 L690.5 778.9 L692 778.9 L693.5 779 L695 779 L696.5 779 L698 779 L699.5 779 L701 779 L702.5 779.1 L704 779.1 L705.5 779.2 L707 779.2 L708.5 779.2 L710 779.3 L711.5 779.3 L713 779.4 L714.5 779.4 L716 779.4 L717.5 779.5 L719 779.5 L720.5 779.6 L722 779.6 L723.5 779.6 L725 779.7 L726.5 779.7 L728 779.7 L729.5 779.8 L731 779.8 L732.5 779.8 L734 779.8 L735.5 779.8 L737 779.8 L738.5 779.8 L740 779.7 L741.5 779.7 L743 779.6 L744.5 779.5 L746 779.4 L747.5 779.3 L749 779.1 L750.5 778.9 L752 778.6 L753.5 778.3 L755 777.9 L756.5 777.4 L758 776.9 L759.5 776.3 L761 775.6 L762.5 774.8 L764 773.9 L765.5 772.8 L767 771.6 L768.5 770.2 L770 768.7 L771.5 767 L773 765.1 L774.5 762.9 L776 760.6 L777.5 758 L779 755.1 L780.5 752 L782 748.6 L783.5 745 L785 741.1 L786.5 736.9 L788 732.4 L789.5 727.6 L791 722.5 L792.5 717.2 L794 711.6 L795.5 705.8 L797 699.7 L798.5 693.5 L800 687 L801.5 680.4 L803 673.7 L804.5 666.8 L806 659.9 L807.5 653 L809 646 L810.5 639.1 L812 632.2 L813.5 625.5 L815 618.9 L816.5 612.5 L818 606.3 L819.5 600.3 L821 594.7 L822.5 589.3 L824 584.3 L825.5 579.7 L827 575.4 L828.5 571.6 L830 568.1 L831.5 565.1 L833 562.5 L834.5 560.3 L836 558.5 L837.5 557.2 L839 556.2 L840.5 555.6 L842 555.3 L843.5 555.3 L845 555.4 L846.5 555.8 L848 556.4 L849.5 557.4 L851 558.8 L852.5 560.6 L854 562.7 L855.5 565.3 L857 568.2 L858.5 571.6 L860 575.4 L861.5 579.5 L863 584.1 L864.5 589 L866 594.3 L867.5 599.9 L869 605.8 L870.5 611.9 L872 618.3 L873.5 624.9 L875 631.6 L876.5 638.5 L878 645.4 L879.5 652.4 L881 659.5 L882.5 666.5 L884 673.4 L885.5 680.3 L887 687.1 L888.5 693.7 L890 700.2 L891.5 706.5 L893 712.6 L894.5 718.4 L896 724 L897.5 729.4 L899 734.5 L900.5 739.3 L902 743.8 L903.5 748.1 L905 752 L906.5 755.7 L908 759.1 L909.5 762.3 L911 765.2 L912.5 767.9 L914 770.3 L915.5 772.5 L917 774.5 L918.5 776.3 L920 778 L921.5 779.4 L923 780.7 L924.5 781.9 L926 782.9 L927.5 783.8 L929 784.6 L930.5 785.3 L932 785.9 L933.5 786.4 L935 786.8 L936.5 787.2 L938 787.6 L939.5 787.9 L941 788.1 L942.5 788.3 L944 788.5 L945.5 788.6 L947 788.8 L948.5 788.9 L950 789 L951.5 789.1 L953 789.1 L954.5 789.2 L956 789.2 L957.5 789.3 L959 789.3 L960.5 789.3 L962 789.4 L963.5 789.4 L965 789.4 L966.5 789.4 L968 789.4 L969.5 789.4 L971 789.4 L972.5 789.5 L974 789.5 L975.5 789.5 L977 789.5 L978.5 789.5 L980 789.5 L981.5 789.5 L983 789.5 L984.5 789.5 L986 789.5 L987.5 789.5 L989 789.5 L990.5 789.6 L992 789.6 L993.5 789.6 L995 789.6 L996.5 789.6 L998 789.6 L999.5 789.6 L1001 789.6 L1002.5 789.6 L1004 789.6 L1005.5 789.6 L1007 789.6 L1008.5 789.6 L1010 789.7 L1011.5 789.7 L1013 789.7 L1014.5 789.7 L1016 789.7 L1017.5 789.7 L1019 789.7 L1020.5 789.7 L1022 789.7 L1023.5 789.7 L1025 789.7 L1026.5 789.7 L1028 789.7 L1029.5 789.8 L1031 789.8 L1032.5 789.8 L1034 789.8 L1035.5 789.8 L1037 789.8 L1038.5 789.8" fill="none" stroke="#d9bad2" stroke-width="3.6" clip-path="url(#cdc)"/>
<path d="M590 778.2 L591.5 778.2 L593 778.2 L594.5 778.2 L596 778.2 L597.5 778.3 L599 778.3 L600.5 778.3 L602 778.3 L603.5 778.3 L605 778.3 L606.5 778.3 L608 778.3 L609.5 778.3 L611 778.4 L612.5 778.4 L614 778.4 L615.5 778.4 L617 778.4 L618.5 778.4 L620 778.4 L621.5 778.4 L623 778.4 L624.5 778.5 L626 778.5 L627.5 778.5 L629 778.5 L630.5 778.5 L632 778.5 L633.5 778.5 L635 778.5 L636.5 778.5 L638 778.5 L639.5 778.6 L641 778.6 L642.5 778.6 L644 778.6 L645.5 778.6 L647 778.6 L648.5 778.6 L650 778.6 L651.5 778.6 L653 778.7 L654.5 778.7 L656 778.7 L657.5 778.7 L659 778.7 L660.5 778.7 L662 778.7 L663.5 778.7 L665 778.7 L666.5 778.8 L668 778.8 L669.5 778.8 L671 778.8 L672.5 778.8 L674 778.8 L675.5 778.8 L677 778.8 L678.5 778.8 L680 778.9 L681.5 778.9 L683 778.9 L684.5 778.9 L686 778.9 L687.5 778.9 L689 778.9 L690.5 778.9 L692 778.9 L693.5 779 L695 779 L696.5 779 L698 779 L699.5 779 L701 779 L702.5 779.1 L704 779.1 L705.5 779.2 L707 779.2 L708.5 779.2 L710 779.3 L711.5 779.3 L713 779.4 L714.5 779.4 L716 779.5 L717.5 779.5 L719 779.5 L720.5 779.6 L722 779.6 L723.5 779.7 L725 779.7 L726.5 779.8 L728 779.8 L729.5 779.8 L731 779.9 L732.5 779.9 L734 780 L735.5 780 L737 780 L738.5 780.1 L740 780.1 L741.5 780.2 L743 780.2 L744.5 780.3 L746 780.3 L747.5 780.3 L749 780.4 L750.5 780.4 L752 780.5 L753.5 780.5 L755 780.6 L756.5 780.6 L758 780.6 L759.5 780.7 L761 780.8 L762.5 780.8 L764 780.9 L765.5 781 L767 781.1 L768.5 781.2 L770 781.2 L771.5 781.3 L773 781.4 L774.5 781.5 L776 781.5 L777.5 781.6 L779 781.7 L780.5 781.8 L782 781.9 L783.5 781.9 L785 782 L786.5 782.1 L788 782.2 L789.5 782.2 L791 782.3 L792.5 782.4 L794 782.4 L795.5 782.5 L797 782.6 L798.5 782.6 L800 782.7 L801.5 782.8 L803 782.8 L804.5 782.9 L806 783 L807.5 783 L809 783.1 L810.5 783.1 L812 783.1 L813.5 783.2 L815 783.2 L816.5 783.2 L818 783.2 L819.5 783.2 L821 783.1 L822.5 783.1 L824 783 L825.5 782.9 L827 782.8 L828.5 782.7 L830 782.6 L831.5 782.4 L833 782.2 L834.5 782 L836 781.7 L837.5 781.4 L839 781.1 L840.5 780.7 L842 780.3 L843.5 779.9 L845 779.4 L846.5 778.9 L848 778.3 L849.5 777.7 L851 777.1 L852.5 776.4 L854 775.6 L855.5 774.8 L857 774 L858.5 773.1 L860 772.2 L861.5 771.2 L863 770.2 L864.5 769.1 L866 768 L867.5 766.9 L869 765.7 L870.5 764.5 L872 763.2 L873.5 761.9 L875 760.7 L876.5 759.3 L878 758 L879.5 756.7 L881 755.3 L882.5 754 L884 752.6 L885.5 751.3 L887 750 L888.5 748.7 L890 747.5 L891.5 746.3 L893 745.2 L894.5 744.2 L896 743.2 L897.5 742.2 L899 741.4 L900.5 740.6 L902 739.9 L903.5 739.2 L905 738.7 L906.5 738.2 L908 737.9 L909.5 737.7 L911 737.5 L912.5 737.5 L914 737.6 L915.5 737.8 L917 738 L918.5 738.4 L920 738.9 L921.5 739.4 L923 740.1 L924.5 740.8 L926 741.6 L927.5 742.5 L929 743.5 L930.5 744.5 L932 745.6 L933.5 746.8 L935 748 L936.5 749.2 L938 750.5 L939.5 751.8 L941 753.2 L942.5 754.5 L944 755.9 L945.5 757.3 L947 758.7 L948.5 760.1 L950 761.5 L951.5 762.8 L953 764.2 L954.5 765.5 L956 766.8 L957.5 768.1 L959 769.3 L960.5 770.5 L962 771.7 L963.5 772.8 L965 773.9 L966.5 775 L968 776 L969.5 776.9 L971 777.9 L972.5 778.7 L974 779.5 L975.5 780.3 L977 781.1 L978.5 781.8 L980 782.4 L981.5 783 L983 783.6 L984.5 784.1 L986 784.6 L987.5 785.1 L989 785.5 L990.5 785.9 L992 786.3 L993.5 786.6 L995 786.9 L996.5 787.2 L998 787.4 L999.5 787.7 L1001 787.9 L1002.5 788.1 L1004 788.3 L1005.5 788.4 L1007 788.6 L1008.5 788.7 L1010 788.8 L1011.5 788.9 L1013 789 L1014.5 789.1 L1016 789.2 L1017.5 789.3 L1019 789.3 L1020.5 789.4 L1022 789.4 L1023.5 789.5 L1025 789.5 L1026.5 789.6 L1028 789.6 L1029.5 789.6 L1031 789.6 L1032.5 789.7 L1034 789.7 L1035.5 789.7 L1037 789.7 L1038.5 789.7" fill="none" stroke="#bcbfe3" stroke-width="4"/>
<path d="M590 778.2 L591.5 778.2 L593 778.2 L594.5 778.2 L596 778.2 L597.5 778.3 L599 778.3 L600.5 778.3 L602 778.3 L603.5 778.3 L605 778.3 L606.5 778.3 L608 778.3 L609.5 778.3 L611 778.4 L612.5 778.4 L614 778.4 L615.5 778.4 L617 778.4 L618.5 778.4 L620 778.4 L621.5 778.4 L623 778.4 L624.5 778.5 L626 778.5 L627.5 778.5 L629 778.5 L630.5 778.5 L632 778.5 L633.5 778.5 L635 778.5 L636.5 778.5 L638 778.5 L639.5 778.6 L641 778.6 L642.5 778.6 L644 778.6 L645.5 778.6 L647 778.6 L648.5 778.6 L650 778.6 L651.5 778.6 L653 778.7 L654.5 778.7 L656 778.7 L657.5 778.7 L659 778.7 L660.5 778.7 L662 778.7 L663.5 778.7 L665 778.7 L666.5 778.8 L668 778.8 L669.5 778.8 L671 778.8 L672.5 778.8 L674 778.8 L675.5 778.8 L677 778.8 L678.5 778.8 L680 778.9 L681.5 778.9 L683 778.9 L684.5 778.9 L686 778.9 L687.5 778.9 L689 778.9 L690.5 778.9 L692 778.9 L693.5 779 L695 779 L696.5 779 L698 779 L699.5 779 L701 779 L702.5 779.1 L704 779.1 L705.5 779.2 L707 779.2 L708.5 779.2 L710 779.3 L711.5 779.3 L713 779.4 L714.5 779.4 L716 779.5 L717.5 779.5 L719 779.5 L720.5 779.6 L722 779.6 L723.5 779.7 L725 779.7 L726.5 779.8 L728 779.8 L729.5 779.8 L731 779.9 L732.5 779.9 L734 780 L735.5 780 L737 780 L738.5 780.1 L740 780.1 L741.5 780.2 L743 780.2 L744.5 780.3 L746 780.3 L747.5 780.3 L749 780.4 L750.5 780.4 L752 780.5 L753.5 780.5 L755 780.6 L756.5 780.6 L758 780.6 L759.5 780.7 L761 780.8 L762.5 780.8 L764 780.9 L765.5 781 L767 781.1 L768.5 781.2 L770 781.2 L771.5 781.3 L773 781.4 L774.5 781.5 L776 781.6 L777.5 781.6 L779 781.7 L780.5 781.8 L782 781.9 L783.5 782 L785 782 L786.5 782.1 L788 782.2 L789.5 782.3 L791 782.4 L792.5 782.4 L794 782.5 L795.5 782.6 L797 782.7 L798.5 782.8 L800 782.9 L801.5 783 L803 783.1 L804.5 783.2 L806 783.3 L807.5 783.4 L809 783.5 L810.5 783.6 L812 783.7 L813.5 783.8 L815 783.9 L816.5 784 L818 784.1 L819.5 784.2 L821 784.3 L822.5 784.4 L824 784.5 L825.5 784.6 L827 784.7 L828.5 784.8 L830 784.9 L831.5 785 L833 785.1 L834.5 785.2 L836 785.3 L837.5 785.4 L839 785.5 L840.5 785.6 L842 785.7 L843.5 785.8 L845 785.9 L846.5 786 L848 786.1 L849.5 786.2 L851 786.3 L852.5 786.4 L854 786.5 L855.5 786.6 L857 786.7 L858.5 786.7 L860 786.8 L861.5 786.9 L863 787 L864.5 787.1 L866 787.2 L867.5 787.3 L869 787.4 L870.5 787.5 L872 787.6 L873.5 787.7 L875 787.8 L876.5 787.9 L878 788 L879.5 788.1 L881 788.1 L882.5 788.2 L884 788.3 L885.5 788.3 L887 788.4 L888.5 788.4 L890 788.5 L891.5 788.6 L893 788.6 L894.5 788.7 L896 788.7 L897.5 788.8 L899 788.8 L900.5 788.9 L902 788.9 L903.5 788.9 L905 788.9 L906.5 789 L908 789 L909.5 789 L911 789 L912.5 789 L914 789 L915.5 789 L917 789 L918.5 789.1 L920 789.1 L921.5 789.1 L923 789.1 L924.5 789.1 L926 789.1 L927.5 789.1 L929 789.1 L930.5 789.2 L932 789.2 L933.5 789.2 L935 789.2 L936.5 789.2 L938 789.2 L939.5 789.2 L941 789.2 L942.5 789.3 L944 789.3 L945.5 789.3 L947 789.3 L948.5 789.3 L950 789.3 L951.5 789.3 L953 789.3 L954.5 789.4 L956 789.4 L957.5 789.4 L959 789.4 L960.5 789.4 L962 789.4 L963.5 789.4 L965 789.4 L966.5 789.4 L968 789.4 L969.5 789.4 L971 789.5 L972.5 789.5 L974 789.5 L975.5 789.5 L977 789.5 L978.5 789.5 L980 789.5 L981.5 789.5 L983 789.5 L984.5 789.5 L986 789.5 L987.5 789.5 L989 789.5 L990.5 789.6 L992 789.6 L993.5 789.6 L995 789.6 L996.5 789.6 L998 789.6 L999.5 789.6 L1001 789.6 L1002.5 789.6 L1004 789.6 L1005.5 789.6 L1007 789.6 L1008.5 789.6 L1010 789.7 L1011.5 789.7 L1013 789.7 L1014.5 789.7 L1016 789.7 L1017.5 789.7 L1019 789.7 L1020.5 789.7 L1022 789.7 L1023.5 789.7 L1025 789.7 L1026.5 789.7 L1028 789.7 L1029.5 789.8 L1031 789.8 L1032.5 789.8 L1034 789.8 L1035.5 789.8 L1037 789.8 L1038.5 789.8" fill="none" stroke="#b0d69c" stroke-width="3.5"/>
<rect x="588" y="469" width="453" height="364" fill="none" stroke="#000" stroke-width="4"/>
<rect x="1039" y="833" width="4" height="7" fill="#000"/>
<text x="1040.4" y="862.5" font-family="&quot;Liberation Serif&quot;, serif" font-size="24.4" text-anchor="middle" >526</text>
<rect x="952.8" y="833" width="4" height="7" fill="#000"/>
<text x="954.2" y="862.5" font-family="&quot;Liberation Serif&quot;, serif" font-size="24.4" text-anchor="middle" >528</text>
<rect x="866.6" y="833" width="4" height="7" fill="#000"/>
<text x="868" y="862.5" font-family="&quot;Liberation Serif&quot;, serif" font-size="24.4" text-anchor="middle" >530</text>
<rect x="780.4" y="833" width="4" height="7" fill="#000"/>
<text x="781.8" y="862.5" font-family="&quot;Liberation Serif&quot;, serif" font-size="24.4" text-anchor="middle" >532</text>
<rect x="694.2" y="833" width="4" height="7" fill="#000"/>
<text x="695.6" y="862.5" font-family="&quot;Liberation Serif&quot;, serif" font-size="24.4" text-anchor="middle" >534</text>
<rect x="608" y="833" width="4" height="7" fill="#000"/>
<text x="609.4" y="862.5" font-family="&quot;Liberation Serif&quot;, serif" font-size="24.4" text-anchor="middle" >536</text>
<rect x="995.9" y="833" width="4" height="3.5" fill="#000"/>
<rect x="909.7" y="833" width="4" height="3.5" fill="#000"/>
<rect x="823.5" y="833" width="4" height="3.5" fill="#000"/>
<rect x="737.3" y="833" width="4" height="3.5" fill="#000"/>
<rect x="651.1" y="833" width="4" height="3.5" fill="#000"/>
<text id="L_O1sd" x="986.4" y="500.9" font-family="&quot;Liberation Serif&quot;, serif" font-size="22" font-weight="bold" textLength="44.1" lengthAdjust="spacingAndGlyphs">O 1s</text>
<text id="L_530" x="756.6" y="555.7" font-family="&quot;Liberation Serif&quot;, serif" font-size="17" font-weight="bold" textLength="73.7" lengthAdjust="spacingAndGlyphs">530.57eV</text>
<text id="L_532" x="698.3" y="676.6" font-family="&quot;Liberation Serif&quot;, serif" font-size="17" font-weight="bold" textLength="78.5" lengthAdjust="spacingAndGlyphs">532.13 eV</text>
<text id="L_528" x="935.7" y="732.3" font-family="&quot;Liberation Serif&quot;, serif" font-size="17" font-weight="bold" textLength="77.2" lengthAdjust="spacingAndGlyphs">528.98 eV</text>
<rect x="56.5" y="11.5" width="458" height="369" fill="none" stroke="#000" stroke-width="5"/>
<rect x="512" y="380" width="5" height="7" fill="#000"/>
<text x="513.9" y="411" font-family="&quot;Liberation Serif&quot;, serif" font-size="24.4" text-anchor="middle" >0</text>
<rect x="428.7" y="380" width="5" height="7" fill="#000"/>
<text x="430.6" y="411" font-family="&quot;Liberation Serif&quot;, serif" font-size="24.4" text-anchor="middle" >200</text>
<rect x="345.5" y="380" width="5" height="7" fill="#000"/>
<text x="347.4" y="411" font-family="&quot;Liberation Serif&quot;, serif" font-size="24.4" text-anchor="middle" >400</text>
<rect x="262.2" y="380" width="5" height="7" fill="#000"/>
<text x="264.1" y="411" font-family="&quot;Liberation Serif&quot;, serif" font-size="24.4" text-anchor="middle" >600</text>
<rect x="178.9" y="380" width="5" height="7" fill="#000"/>
<text x="180.8" y="411" font-family="&quot;Liberation Serif&quot;, serif" font-size="24.4" text-anchor="middle" >800</text>
<rect x="95.6" y="380" width="5" height="7" fill="#000"/>
<text x="97.5" y="411" font-family="&quot;Liberation Serif&quot;, serif" font-size="24.4" text-anchor="middle" >1000</text>
<rect x="470.9" y="380" width="4" height="4.3" fill="#000"/>
<rect x="387.6" y="380" width="4" height="4.3" fill="#000"/>
<rect x="304.3" y="380" width="4" height="4.3" fill="#000"/>
<rect x="221" y="380" width="4" height="4.3" fill="#000"/>
<rect x="137.8" y="380" width="4" height="4.3" fill="#000"/>
<path d="M59 176 L60.7 174.3 L62.3 174.4 L64 173 L65.7 170.9 L67.3 169.4 L69 167.8 L70.7 165 L72.7 167.6 L74.6 170 L77 168 L78.2 140 L78.7 101.5 L80.3 101.5 L81 122 L81.8 140 L82.5 173 L84 180 L86 187 L87 150 L87.5 118 L88.3 47 L89.7 47 L90.4 110 L91 130 L92 194.7 L94 193.9 L96 193 L98 190.8 L100 190 L103 196.7 L106 190 L108 179 L110 190 L113 202.5 L114.8 201.3 L116.5 200.7 L118.2 200.2 L120 199 L121.7 199 L123.3 197.8 L125 196.8 L126.7 196.7 L128.3 197.2 L130 196 L131.8 194.9 L133.6 194.6 L135.4 194.7 L137.2 192.6 L139 192.7 L141 194.5 L143 196 L145 200 L147 202.5 L148.7 202.2 L150.3 202.9 L152 203 L153.7 202.7 L155.3 200.4 L157 200 L159 199.3 L161 198.6 L163.1 202 L165.2 204.5 L167.4 210 L169.6 215 L171.6 215.4 L173.5 215.4 L175.4 216.3 L177.4 216.7 L179.2 215.6 L180.9 214.9 L182.7 213.9 L184.4 213.2 L186.6 210.2 L188.8 206.2 L190.5 210.1 L192.2 213.2 L194 213.8 L195.7 215 L197.5 215.8 L199.4 213.9 L201.4 212.7 L203.4 211 L205.3 209.7 L207 209.4 L208.8 208.4 L210.5 208 L211.6 196 L212.6 195 L213.5 204 L214.9 209.7 L216.8 193 L218 193 L219 200 L220.1 213.2 L220.3 242.8 L222.4 244.5 L224.5 246.3 L226.2 246 L228 244.8 L229.7 244.9 L231.5 243 L233.2 242.8 L234.9 241.9 L236.7 240.1 L238.4 238.8 L240.2 237.6 L241.9 243 L243.7 248 L245.4 248.9 L247.1 249.6 L248.9 249.8 L250.6 251.5 L252.4 251.7 L254.1 253.6 L255.9 254.2 L257.6 253.3 L259.4 252.7 L261.1 251.5 L262.9 251.6 L264.6 250.5 L266.4 248.9 L268.1 249 L270.3 234.4 L271.5 234.4 L274.2 242.8 L276.8 260.3 L278.5 259.4 L280.3 259.2 L282 258.5 L283.8 261.6 L285.5 265.5 L289.8 279.4 L292.3 283 L293 176 L295 176 L296.2 286 L298.1 287.7 L300 288 L302.1 288.7 L304.2 288 L305.9 237 L307.6 237 L308.8 276.7 L309.8 310.6 L312.7 314.9 L315.3 296 L316.8 296 L318.6 313.5 L320.5 326.2 L322.3 327.3 L324.2 327.3 L326 328.4 L327.9 327.8 L329.7 329 L331.4 328.6 L333.1 328.8 L334.8 329.2 L336.5 328.7 L338.2 328.1 L339.9 328.4 L341.6 328.3 L343.3 328.2 L345 327.9 L346.7 328.4 L348.8 325.5 L350.9 328.4 L352.5 328 L354.1 327.8 L355.7 328.1 L357.3 327.9 L358.9 327.2 L360.5 326.9 L362.1 327.2 L363.8 327.1 L365.4 326.5 L367 326.5 L368.6 326.5 L370.2 324.8 L371.8 325.9 L373.4 324.7 L375 324.8 L376.7 324.5 L378.4 324.7 L380.1 324.3 L381.8 323.1 L383.5 323.7 L385.2 322.4 L386.9 322.6 L388.6 323.1 L390.3 322.2 L392 322 L394.9 297.5 L396.7 297.5 L398.5 324.8 L400.2 324.9 L401.9 325.1 L403.7 325.3 L405.4 325.2 L407.1 324 L408.8 324.6 L410.5 324.7 L412.3 324 L414 324.8 L415.7 324.7 L417.4 324.4 L419.2 324.4 L420.9 324.1 L422.7 322.4 L424.4 322.1 L426.2 322.4 L427.9 321.1 L429.7 320.8 L431.4 320.8 L433 320.6 L434.6 319.7 L436.2 320.4 L437.8 320.2 L439.4 318.6 L441 319.1 L442.6 319.3 L444.2 319.2 L445.8 318.2 L447.4 318.3 L449.1 318.6 L450.7 320.2 L452.3 320.1 L455.3 304 L457.1 304 L460.1 320.8 L462.1 321.1 L464.1 319.7 L466 319.7 L468 319.5 L470 320.5 L471.9 321.3 L473.9 321.4 L476.9 290 L478.9 290 L479.7 328 L481.7 330.7 L483.7 334.5 L485.6 334.8 L487.6 334.5 L490.4 322.5 L492.2 322.5 L494.1 339.7 L496.1 340.7 L498.1 340.8 L500 340.7 L502 341.7 L503.9 339.3 L505.9 338.4 L507.5 340.7 L509.2 343.7 L510.5 319.5 L512 318" fill="none" stroke="#0767ab" stroke-width="4.6" stroke-linejoin="round" stroke-linecap="butt"/>
<text id="L_Zn12a" x="75.8" y="114.2" font-family="&quot;Liberation Serif&quot;, serif" font-size="18.8" font-weight="bold" textLength="64.3" lengthAdjust="spacingAndGlyphs" transform="rotate(-90 75.8 114.2)">Zn 2p<tspan font-size="13.5" dy="5.5">1/2</tspan></text>
<text id="L_Zn32a" x="107.4" y="134.5" font-family="&quot;Liberation Serif&quot;, serif" font-size="18.8" font-weight="bold" textLength="64.2" lengthAdjust="spacingAndGlyphs" transform="rotate(-90 107.4 134.5)">Zn 2p<tspan font-size="13.5" dy="5.5">3/2</tspan></text>
<text id="L_Fe12a" x="150" y="160.1" font-family="&quot;Liberation Serif&quot;, serif" font-size="16.8" font-weight="bold" textLength="61.7" lengthAdjust="spacingAndGlyphs">Fe 2p<tspan font-size="13.5" dx="1" dy="4.8">1/2</tspan></text>
<text id="L_Fe32a" x="216.8" y="163.2" font-family="&quot;Liberation Serif&quot;, serif" font-size="16.8" font-weight="bold" textLength="61.3" lengthAdjust="spacingAndGlyphs">Fe 2p<tspan font-size="13.5" dx="1" dy="4.8">3/2</tspan></text>
<text id="L_O1sa" x="300.7" y="187.9" font-family="&quot;Liberation Serif&quot;, serif" font-size="17.6" font-weight="bold" textLength="36.2" lengthAdjust="spacingAndGlyphs">O 1s</text>
<text id="L_C1sa" x="389" y="288.5" font-family="&quot;Liberation Serif&quot;, serif" font-size="17.6" font-weight="bold" textLength="35.8" lengthAdjust="spacingAndGlyphs">C 1s</text>
<line x1="184.1" y1="165.1" x2="202.4" y2="184.7" stroke="#000" stroke-width="1.1"/>
<path d="M206.8 189.4 L198.8 185.2 L203.2 181.1 Z" fill="#000"/>
<line x1="238.1" y1="166.3" x2="227.1" y2="186.8" stroke="#000" stroke-width="1.1"/>
<path d="M224 192.5 L225.4 183.6 L230.7 186.4 Z" fill="#000"/>
<text id="L_a" x="9.8" y="34" font-family="&quot;Liberation Serif&quot;, serif" font-size="29.5" font-weight="bold" textLength="35.9" lengthAdjust="spacingAndGlyphs">(a)</text>
<text id="L_b" x="533.1" y="33.9" font-family="&quot;Liberation Serif&quot;, serif" font-size="29.5" font-weight="bold" textLength="37.8" lengthAdjust="spacingAndGlyphs">(b)</text>
<text id="L_c" x="24.1" y="491.9" font-family="&quot;Liberation Serif&quot;, serif" font-size="29.5" font-weight="bold" textLength="32.5" lengthAdjust="spacingAndGlyphs">(c)</text>
<text id="L_d" x="541.4" y="490.9" font-family="&quot;Liberation Serif&quot;, serif" font-size="29.5" font-weight="bold" textLength="37.8" lengthAdjust="spacingAndGlyphs">(d)</text>
<text id="L_ya" x="25.4" y="263.5" font-family="&quot;Liberation Serif&quot;, serif" font-size="22.5" font-weight="bold" textLength="152" lengthAdjust="spacingAndGlyphs" transform="rotate(-90 25.4 263.5)">Intensity (a.u.)</text>
<text id="L_yb" x="558.1" y="262.7" font-family="&quot;Liberation Serif&quot;, serif" font-size="22.5" font-weight="bold" textLength="153" lengthAdjust="spacingAndGlyphs" transform="rotate(-90 558.1 262.7)">Intensity (a.u.)</text>
<text id="L_yc" x="39.9" y="720.1" font-family="&quot;Liberation Serif&quot;, serif" font-size="22.5" font-weight="bold" textLength="149.5" lengthAdjust="spacingAndGlyphs" transform="rotate(-90 39.9 720.1)">Intensity (a.u.)</text>
<text id="L_yd" x="558.1" y="719.3" font-family="&quot;Liberation Serif&quot;, serif" font-size="22.5" font-weight="bold" textLength="151.6" lengthAdjust="spacingAndGlyphs" transform="rotate(-90 558.1 719.3)">Intensity (a.u.)</text>
<text id="L_xa" x="171.7" y="450.4" font-family="&quot;Liberation Serif&quot;, serif" font-size="23" font-weight="bold" textLength="227.1" lengthAdjust="spacingAndGlyphs">Bingding Energy (eV)</text>
<text id="L_xb" x="704" y="449.9" font-family="&quot;Liberation Serif&quot;, serif" font-size="23" font-weight="bold" textLength="227.8" lengthAdjust="spacingAndGlyphs">Bingding Energy (eV)</text>
<text id="L_xc" x="184" y="901.7" font-family="&quot;Liberation Serif&quot;, serif" font-size="23" font-weight="bold" textLength="221.7" lengthAdjust="spacingAndGlyphs">Bingding Energy (eV)</text>
<text id="L_xd" x="703.1" y="903.1" font-family="&quot;Liberation Serif&quot;, serif" font-size="23" font-weight="bold" textLength="224.3" lengthAdjust="spacingAndGlyphs">Bingding Energy (eV)</text>
</svg>
</body></html>
